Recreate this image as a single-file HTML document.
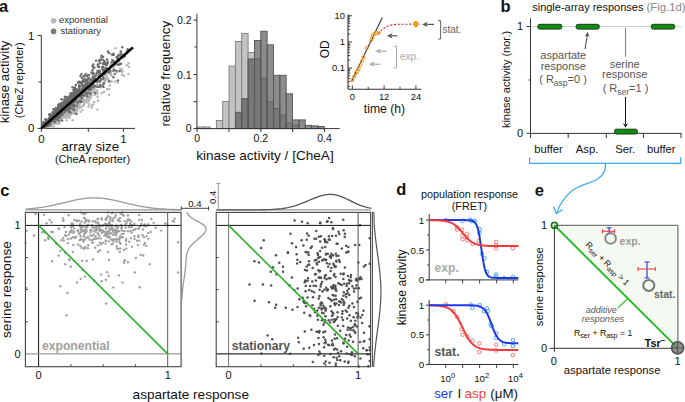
<!DOCTYPE html>
<html><head><meta charset="utf-8"><style>
html,body{margin:0;padding:0;background:#fff;}
svg{display:block;font-family:"Liberation Sans", sans-serif;}
</style></head><body>
<svg width="685" height="402" viewBox="0 0 685 402">
<rect width="685" height="402" fill="#fff"/>
<text x="-1.00" y="11.60" font-size="16.5" text-anchor="start" fill="#111" font-weight="bold">a</text>
<text x="500.60" y="11.70" font-size="16.5" text-anchor="start" fill="#111" font-weight="bold">b</text>
<text x="0.30" y="195.90" font-size="16.5" text-anchor="start" fill="#111" font-weight="bold">c</text>
<text x="396.30" y="195.30" font-size="16.5" text-anchor="start" fill="#111" font-weight="bold">d</text>
<text x="534.80" y="196.00" font-size="16.5" text-anchor="start" fill="#111" font-weight="bold">e</text>
<line x1="41.30" y1="35.40" x2="41.30" y2="128.90" stroke="#333" stroke-width="1"/>
<line x1="37.50" y1="128.40" x2="135.00" y2="128.40" stroke="#333" stroke-width="1"/>
<line x1="37.50" y1="35.40" x2="41.30" y2="35.40" stroke="#333" stroke-width="1"/>
<line x1="38.50" y1="82.00" x2="41.30" y2="82.00" stroke="#333" stroke-width="1"/>
<line x1="41.30" y1="128.40" x2="41.30" y2="131.90" stroke="#333" stroke-width="1"/>
<line x1="88.30" y1="128.40" x2="88.30" y2="131.90" stroke="#333" stroke-width="1"/>
<line x1="123.40" y1="128.40" x2="123.40" y2="131.90" stroke="#333" stroke-width="1"/>
<text x="34.50" y="40.12" font-size="11.5" text-anchor="end" fill="#111">1</text>
<text x="34.50" y="132.42" font-size="11.5" text-anchor="end" fill="#111">0</text>
<text x="41.40" y="143.12" font-size="11.5" text-anchor="middle" fill="#111">0</text>
<text x="123.40" y="142.62" font-size="11.5" text-anchor="middle" fill="#111">1</text>
<text x="61.40" y="150.96" font-size="13.3" text-anchor="start" fill="#111">array size</text>
<text x="92.50" y="163.33" font-size="10.9" text-anchor="middle" fill="#111">(CheA reporter)</text>
<text x="0" y="0" font-size="13.3" text-anchor="middle" fill="#111" transform="translate(9.46 81.9) rotate(-90)">kinase activity</text>
<text x="0" y="0" font-size="11" text-anchor="middle" fill="#111" transform="translate(22.86 80.3) rotate(-90)">(CheZ reporter)</text>
<circle cx="53.60" cy="20.80" r="2.8" fill="#b8b8b8" stroke="none" stroke-width="1"/>
<circle cx="53.60" cy="31.40" r="2.8" fill="#7a7a7a" stroke="none" stroke-width="1"/>
<text x="58.90" y="23.30" font-size="9.6" text-anchor="start" fill="#333">exponential</text>
<text x="60.60" y="33.82" font-size="9.3" text-anchor="start" fill="#333">stationary</text>
<circle cx="88.85" cy="86.24" r="1.2" fill="#b3b3b3" stroke="none" stroke-width="1"/>
<circle cx="47.49" cy="124.17" r="1.2" fill="#b3b3b3" stroke="none" stroke-width="1"/>
<circle cx="84.37" cy="94.71" r="1.2" fill="#b3b3b3" stroke="none" stroke-width="1"/>
<circle cx="54.17" cy="115.68" r="1.2" fill="#b3b3b3" stroke="none" stroke-width="1"/>
<circle cx="97.46" cy="85.33" r="1.2" fill="#b3b3b3" stroke="none" stroke-width="1"/>
<circle cx="66.43" cy="112.31" r="1.2" fill="#b3b3b3" stroke="none" stroke-width="1"/>
<circle cx="50.04" cy="122.08" r="1.2" fill="#b3b3b3" stroke="none" stroke-width="1"/>
<circle cx="60.18" cy="117.67" r="1.2" fill="#b3b3b3" stroke="none" stroke-width="1"/>
<circle cx="96.90" cy="85.04" r="1.2" fill="#b3b3b3" stroke="none" stroke-width="1"/>
<circle cx="128.68" cy="63.21" r="1.2" fill="#b3b3b3" stroke="none" stroke-width="1"/>
<circle cx="54.75" cy="117.98" r="1.2" fill="#b3b3b3" stroke="none" stroke-width="1"/>
<circle cx="48.68" cy="121.99" r="1.2" fill="#b3b3b3" stroke="none" stroke-width="1"/>
<circle cx="65.47" cy="109.07" r="1.2" fill="#b3b3b3" stroke="none" stroke-width="1"/>
<circle cx="77.48" cy="96.55" r="1.2" fill="#b3b3b3" stroke="none" stroke-width="1"/>
<circle cx="69.41" cy="102.85" r="1.2" fill="#b3b3b3" stroke="none" stroke-width="1"/>
<circle cx="100.69" cy="79.06" r="1.2" fill="#b3b3b3" stroke="none" stroke-width="1"/>
<circle cx="59.06" cy="115.30" r="1.2" fill="#b3b3b3" stroke="none" stroke-width="1"/>
<circle cx="65.40" cy="108.92" r="1.2" fill="#b3b3b3" stroke="none" stroke-width="1"/>
<circle cx="85.90" cy="101.80" r="1.2" fill="#b3b3b3" stroke="none" stroke-width="1"/>
<circle cx="76.02" cy="104.36" r="1.2" fill="#b3b3b3" stroke="none" stroke-width="1"/>
<circle cx="43.99" cy="127.14" r="1.2" fill="#b3b3b3" stroke="none" stroke-width="1"/>
<circle cx="72.76" cy="95.90" r="1.2" fill="#b3b3b3" stroke="none" stroke-width="1"/>
<circle cx="62.53" cy="112.82" r="1.2" fill="#b3b3b3" stroke="none" stroke-width="1"/>
<circle cx="110.70" cy="74.51" r="1.2" fill="#b3b3b3" stroke="none" stroke-width="1"/>
<circle cx="52.23" cy="119.26" r="1.2" fill="#b3b3b3" stroke="none" stroke-width="1"/>
<circle cx="55.17" cy="117.88" r="1.2" fill="#b3b3b3" stroke="none" stroke-width="1"/>
<circle cx="47.79" cy="123.68" r="1.2" fill="#b3b3b3" stroke="none" stroke-width="1"/>
<circle cx="50.27" cy="123.80" r="1.2" fill="#b3b3b3" stroke="none" stroke-width="1"/>
<circle cx="82.43" cy="97.86" r="1.2" fill="#b3b3b3" stroke="none" stroke-width="1"/>
<circle cx="71.36" cy="114.61" r="1.2" fill="#b3b3b3" stroke="none" stroke-width="1"/>
<circle cx="60.19" cy="115.21" r="1.2" fill="#b3b3b3" stroke="none" stroke-width="1"/>
<circle cx="67.82" cy="104.43" r="1.2" fill="#b3b3b3" stroke="none" stroke-width="1"/>
<circle cx="88.09" cy="98.78" r="1.2" fill="#b3b3b3" stroke="none" stroke-width="1"/>
<circle cx="47.97" cy="124.50" r="1.2" fill="#b3b3b3" stroke="none" stroke-width="1"/>
<circle cx="80.89" cy="101.82" r="1.2" fill="#b3b3b3" stroke="none" stroke-width="1"/>
<circle cx="70.04" cy="106.97" r="1.2" fill="#b3b3b3" stroke="none" stroke-width="1"/>
<circle cx="92.90" cy="72.98" r="1.2" fill="#b3b3b3" stroke="none" stroke-width="1"/>
<circle cx="72.54" cy="112.32" r="1.2" fill="#b3b3b3" stroke="none" stroke-width="1"/>
<circle cx="83.84" cy="104.89" r="1.2" fill="#b3b3b3" stroke="none" stroke-width="1"/>
<circle cx="76.62" cy="113.63" r="1.2" fill="#b3b3b3" stroke="none" stroke-width="1"/>
<circle cx="64.89" cy="109.80" r="1.2" fill="#b3b3b3" stroke="none" stroke-width="1"/>
<circle cx="57.72" cy="123.83" r="1.2" fill="#b3b3b3" stroke="none" stroke-width="1"/>
<circle cx="78.05" cy="93.98" r="1.2" fill="#b3b3b3" stroke="none" stroke-width="1"/>
<circle cx="49.62" cy="124.73" r="1.2" fill="#b3b3b3" stroke="none" stroke-width="1"/>
<circle cx="61.48" cy="116.57" r="1.2" fill="#b3b3b3" stroke="none" stroke-width="1"/>
<circle cx="59.16" cy="117.88" r="1.2" fill="#b3b3b3" stroke="none" stroke-width="1"/>
<circle cx="93.03" cy="104.45" r="1.2" fill="#b3b3b3" stroke="none" stroke-width="1"/>
<circle cx="64.50" cy="110.01" r="1.2" fill="#b3b3b3" stroke="none" stroke-width="1"/>
<circle cx="55.78" cy="115.85" r="1.2" fill="#b3b3b3" stroke="none" stroke-width="1"/>
<circle cx="110.74" cy="73.48" r="1.2" fill="#b3b3b3" stroke="none" stroke-width="1"/>
<circle cx="83.92" cy="90.51" r="1.2" fill="#b3b3b3" stroke="none" stroke-width="1"/>
<circle cx="67.66" cy="104.87" r="1.2" fill="#b3b3b3" stroke="none" stroke-width="1"/>
<circle cx="76.17" cy="104.07" r="1.2" fill="#b3b3b3" stroke="none" stroke-width="1"/>
<circle cx="45.97" cy="124.95" r="1.2" fill="#b3b3b3" stroke="none" stroke-width="1"/>
<circle cx="122.03" cy="69.49" r="1.2" fill="#b3b3b3" stroke="none" stroke-width="1"/>
<circle cx="54.02" cy="120.84" r="1.2" fill="#b3b3b3" stroke="none" stroke-width="1"/>
<circle cx="109.72" cy="72.72" r="1.2" fill="#b3b3b3" stroke="none" stroke-width="1"/>
<circle cx="90.24" cy="88.32" r="1.2" fill="#b3b3b3" stroke="none" stroke-width="1"/>
<circle cx="83.73" cy="99.39" r="1.2" fill="#b3b3b3" stroke="none" stroke-width="1"/>
<circle cx="68.20" cy="111.83" r="1.2" fill="#b3b3b3" stroke="none" stroke-width="1"/>
<circle cx="58.59" cy="111.57" r="1.2" fill="#b3b3b3" stroke="none" stroke-width="1"/>
<circle cx="77.28" cy="99.30" r="1.2" fill="#b3b3b3" stroke="none" stroke-width="1"/>
<circle cx="64.75" cy="111.17" r="1.2" fill="#b3b3b3" stroke="none" stroke-width="1"/>
<circle cx="61.42" cy="113.02" r="1.2" fill="#b3b3b3" stroke="none" stroke-width="1"/>
<circle cx="60.29" cy="116.44" r="1.2" fill="#b3b3b3" stroke="none" stroke-width="1"/>
<circle cx="89.17" cy="85.97" r="1.2" fill="#b3b3b3" stroke="none" stroke-width="1"/>
<circle cx="77.15" cy="97.54" r="1.2" fill="#b3b3b3" stroke="none" stroke-width="1"/>
<circle cx="82.28" cy="92.17" r="1.2" fill="#b3b3b3" stroke="none" stroke-width="1"/>
<circle cx="69.64" cy="109.17" r="1.2" fill="#b3b3b3" stroke="none" stroke-width="1"/>
<circle cx="68.35" cy="115.18" r="1.2" fill="#b3b3b3" stroke="none" stroke-width="1"/>
<circle cx="59.10" cy="115.07" r="1.2" fill="#b3b3b3" stroke="none" stroke-width="1"/>
<circle cx="54.02" cy="126.77" r="1.2" fill="#b3b3b3" stroke="none" stroke-width="1"/>
<circle cx="48.33" cy="125.00" r="1.2" fill="#b3b3b3" stroke="none" stroke-width="1"/>
<circle cx="51.60" cy="121.78" r="1.2" fill="#b3b3b3" stroke="none" stroke-width="1"/>
<circle cx="52.78" cy="118.01" r="1.2" fill="#b3b3b3" stroke="none" stroke-width="1"/>
<circle cx="73.38" cy="104.25" r="1.2" fill="#b3b3b3" stroke="none" stroke-width="1"/>
<circle cx="55.41" cy="118.37" r="1.2" fill="#b3b3b3" stroke="none" stroke-width="1"/>
<circle cx="57.25" cy="115.56" r="1.2" fill="#b3b3b3" stroke="none" stroke-width="1"/>
<circle cx="63.31" cy="115.12" r="1.2" fill="#b3b3b3" stroke="none" stroke-width="1"/>
<circle cx="70.19" cy="114.76" r="1.2" fill="#b3b3b3" stroke="none" stroke-width="1"/>
<circle cx="59.17" cy="115.89" r="1.2" fill="#b3b3b3" stroke="none" stroke-width="1"/>
<circle cx="51.85" cy="124.51" r="1.2" fill="#b3b3b3" stroke="none" stroke-width="1"/>
<circle cx="70.96" cy="104.37" r="1.2" fill="#b3b3b3" stroke="none" stroke-width="1"/>
<circle cx="65.01" cy="106.81" r="1.2" fill="#b3b3b3" stroke="none" stroke-width="1"/>
<circle cx="78.54" cy="101.49" r="1.2" fill="#b3b3b3" stroke="none" stroke-width="1"/>
<circle cx="87.68" cy="90.10" r="1.2" fill="#b3b3b3" stroke="none" stroke-width="1"/>
<circle cx="50.92" cy="122.30" r="1.2" fill="#b3b3b3" stroke="none" stroke-width="1"/>
<circle cx="65.53" cy="110.07" r="1.2" fill="#b3b3b3" stroke="none" stroke-width="1"/>
<circle cx="93.58" cy="89.70" r="1.2" fill="#b3b3b3" stroke="none" stroke-width="1"/>
<circle cx="58.77" cy="122.62" r="1.2" fill="#b3b3b3" stroke="none" stroke-width="1"/>
<circle cx="89.56" cy="78.25" r="1.2" fill="#b3b3b3" stroke="none" stroke-width="1"/>
<circle cx="122.69" cy="71.75" r="1.2" fill="#b3b3b3" stroke="none" stroke-width="1"/>
<circle cx="63.85" cy="117.32" r="1.2" fill="#b3b3b3" stroke="none" stroke-width="1"/>
<circle cx="59.05" cy="118.45" r="1.2" fill="#b3b3b3" stroke="none" stroke-width="1"/>
<circle cx="100.71" cy="79.87" r="1.2" fill="#b3b3b3" stroke="none" stroke-width="1"/>
<circle cx="78.70" cy="97.79" r="1.2" fill="#b3b3b3" stroke="none" stroke-width="1"/>
<circle cx="95.33" cy="93.56" r="1.2" fill="#b3b3b3" stroke="none" stroke-width="1"/>
<circle cx="85.86" cy="93.95" r="1.2" fill="#b3b3b3" stroke="none" stroke-width="1"/>
<circle cx="120.95" cy="56.44" r="1.2" fill="#b3b3b3" stroke="none" stroke-width="1"/>
<circle cx="71.96" cy="105.76" r="1.2" fill="#b3b3b3" stroke="none" stroke-width="1"/>
<circle cx="89.27" cy="74.79" r="1.2" fill="#b3b3b3" stroke="none" stroke-width="1"/>
<circle cx="69.91" cy="108.97" r="1.2" fill="#b3b3b3" stroke="none" stroke-width="1"/>
<circle cx="74.70" cy="104.65" r="1.2" fill="#b3b3b3" stroke="none" stroke-width="1"/>
<circle cx="72.64" cy="120.15" r="1.2" fill="#b3b3b3" stroke="none" stroke-width="1"/>
<circle cx="77.09" cy="96.84" r="1.2" fill="#b3b3b3" stroke="none" stroke-width="1"/>
<circle cx="64.26" cy="107.48" r="1.2" fill="#b3b3b3" stroke="none" stroke-width="1"/>
<circle cx="86.75" cy="96.75" r="1.2" fill="#b3b3b3" stroke="none" stroke-width="1"/>
<circle cx="66.07" cy="111.63" r="1.2" fill="#b3b3b3" stroke="none" stroke-width="1"/>
<circle cx="94.55" cy="89.06" r="1.2" fill="#b3b3b3" stroke="none" stroke-width="1"/>
<circle cx="56.85" cy="119.71" r="1.2" fill="#b3b3b3" stroke="none" stroke-width="1"/>
<circle cx="73.44" cy="101.17" r="1.2" fill="#b3b3b3" stroke="none" stroke-width="1"/>
<circle cx="53.94" cy="123.46" r="1.2" fill="#b3b3b3" stroke="none" stroke-width="1"/>
<circle cx="95.49" cy="78.66" r="1.2" fill="#b3b3b3" stroke="none" stroke-width="1"/>
<circle cx="82.11" cy="84.75" r="1.2" fill="#b3b3b3" stroke="none" stroke-width="1"/>
<circle cx="55.95" cy="110.91" r="1.2" fill="#b3b3b3" stroke="none" stroke-width="1"/>
<circle cx="66.91" cy="110.78" r="1.2" fill="#b3b3b3" stroke="none" stroke-width="1"/>
<circle cx="55.37" cy="118.06" r="1.2" fill="#b3b3b3" stroke="none" stroke-width="1"/>
<circle cx="65.02" cy="112.71" r="1.2" fill="#b3b3b3" stroke="none" stroke-width="1"/>
<circle cx="83.52" cy="92.05" r="1.2" fill="#b3b3b3" stroke="none" stroke-width="1"/>
<circle cx="77.11" cy="108.87" r="1.2" fill="#b3b3b3" stroke="none" stroke-width="1"/>
<circle cx="65.71" cy="117.55" r="1.2" fill="#b3b3b3" stroke="none" stroke-width="1"/>
<circle cx="97.78" cy="79.07" r="1.2" fill="#b3b3b3" stroke="none" stroke-width="1"/>
<circle cx="91.76" cy="107.61" r="1.2" fill="#b3b3b3" stroke="none" stroke-width="1"/>
<circle cx="43.42" cy="127.24" r="1.2" fill="#b3b3b3" stroke="none" stroke-width="1"/>
<circle cx="46.64" cy="125.40" r="1.2" fill="#b3b3b3" stroke="none" stroke-width="1"/>
<circle cx="82.54" cy="110.08" r="1.2" fill="#b3b3b3" stroke="none" stroke-width="1"/>
<circle cx="53.81" cy="120.35" r="1.2" fill="#b3b3b3" stroke="none" stroke-width="1"/>
<circle cx="61.86" cy="111.72" r="1.2" fill="#b3b3b3" stroke="none" stroke-width="1"/>
<circle cx="70.76" cy="101.58" r="1.2" fill="#b3b3b3" stroke="none" stroke-width="1"/>
<circle cx="82.38" cy="93.69" r="1.2" fill="#b3b3b3" stroke="none" stroke-width="1"/>
<circle cx="78.79" cy="96.69" r="1.2" fill="#b3b3b3" stroke="none" stroke-width="1"/>
<circle cx="52.51" cy="120.89" r="1.2" fill="#b3b3b3" stroke="none" stroke-width="1"/>
<circle cx="47.55" cy="121.18" r="1.2" fill="#b3b3b3" stroke="none" stroke-width="1"/>
<circle cx="89.91" cy="88.85" r="1.2" fill="#b3b3b3" stroke="none" stroke-width="1"/>
<circle cx="83.39" cy="96.97" r="1.2" fill="#b3b3b3" stroke="none" stroke-width="1"/>
<circle cx="69.83" cy="105.71" r="1.2" fill="#b3b3b3" stroke="none" stroke-width="1"/>
<circle cx="85.61" cy="86.82" r="1.2" fill="#b3b3b3" stroke="none" stroke-width="1"/>
<circle cx="117.76" cy="82.51" r="1.2" fill="#b3b3b3" stroke="none" stroke-width="1"/>
<circle cx="53.50" cy="122.12" r="1.2" fill="#b3b3b3" stroke="none" stroke-width="1"/>
<circle cx="116.88" cy="72.36" r="1.2" fill="#b3b3b3" stroke="none" stroke-width="1"/>
<circle cx="56.10" cy="117.20" r="1.2" fill="#b3b3b3" stroke="none" stroke-width="1"/>
<circle cx="87.60" cy="99.57" r="1.2" fill="#b3b3b3" stroke="none" stroke-width="1"/>
<circle cx="71.78" cy="99.00" r="1.2" fill="#b3b3b3" stroke="none" stroke-width="1"/>
<circle cx="55.02" cy="116.18" r="1.2" fill="#b3b3b3" stroke="none" stroke-width="1"/>
<circle cx="62.70" cy="112.24" r="1.2" fill="#b3b3b3" stroke="none" stroke-width="1"/>
<circle cx="60.52" cy="115.85" r="1.2" fill="#b3b3b3" stroke="none" stroke-width="1"/>
<circle cx="59.10" cy="111.76" r="1.2" fill="#b3b3b3" stroke="none" stroke-width="1"/>
<circle cx="70.37" cy="95.56" r="1.2" fill="#b3b3b3" stroke="none" stroke-width="1"/>
<circle cx="97.04" cy="84.51" r="1.2" fill="#b3b3b3" stroke="none" stroke-width="1"/>
<circle cx="81.30" cy="90.71" r="1.2" fill="#b3b3b3" stroke="none" stroke-width="1"/>
<circle cx="96.95" cy="84.80" r="1.2" fill="#b3b3b3" stroke="none" stroke-width="1"/>
<circle cx="75.40" cy="104.37" r="1.2" fill="#b3b3b3" stroke="none" stroke-width="1"/>
<circle cx="62.12" cy="106.33" r="1.2" fill="#b3b3b3" stroke="none" stroke-width="1"/>
<circle cx="60.90" cy="110.99" r="1.2" fill="#b3b3b3" stroke="none" stroke-width="1"/>
<circle cx="63.40" cy="112.88" r="1.2" fill="#b3b3b3" stroke="none" stroke-width="1"/>
<circle cx="85.79" cy="100.38" r="1.2" fill="#b3b3b3" stroke="none" stroke-width="1"/>
<circle cx="74.93" cy="99.01" r="1.2" fill="#b3b3b3" stroke="none" stroke-width="1"/>
<circle cx="69.18" cy="98.68" r="1.2" fill="#b3b3b3" stroke="none" stroke-width="1"/>
<circle cx="53.43" cy="123.18" r="1.2" fill="#b3b3b3" stroke="none" stroke-width="1"/>
<circle cx="59.14" cy="121.98" r="1.2" fill="#b3b3b3" stroke="none" stroke-width="1"/>
<circle cx="63.79" cy="107.54" r="1.2" fill="#b3b3b3" stroke="none" stroke-width="1"/>
<circle cx="51.84" cy="125.93" r="1.2" fill="#b3b3b3" stroke="none" stroke-width="1"/>
<circle cx="72.59" cy="108.89" r="1.2" fill="#b3b3b3" stroke="none" stroke-width="1"/>
<circle cx="69.09" cy="109.28" r="1.2" fill="#b3b3b3" stroke="none" stroke-width="1"/>
<circle cx="68.81" cy="110.35" r="1.2" fill="#b3b3b3" stroke="none" stroke-width="1"/>
<circle cx="98.71" cy="80.73" r="1.2" fill="#b3b3b3" stroke="none" stroke-width="1"/>
<circle cx="79.84" cy="101.12" r="1.2" fill="#b3b3b3" stroke="none" stroke-width="1"/>
<circle cx="46.62" cy="125.47" r="1.2" fill="#b3b3b3" stroke="none" stroke-width="1"/>
<circle cx="89.35" cy="95.24" r="1.2" fill="#b3b3b3" stroke="none" stroke-width="1"/>
<circle cx="66.81" cy="112.36" r="1.2" fill="#b3b3b3" stroke="none" stroke-width="1"/>
<circle cx="71.85" cy="98.84" r="1.2" fill="#b3b3b3" stroke="none" stroke-width="1"/>
<circle cx="95.80" cy="79.63" r="1.2" fill="#b3b3b3" stroke="none" stroke-width="1"/>
<circle cx="49.69" cy="115.38" r="1.2" fill="#b3b3b3" stroke="none" stroke-width="1"/>
<circle cx="74.24" cy="103.02" r="1.2" fill="#b3b3b3" stroke="none" stroke-width="1"/>
<circle cx="66.65" cy="106.55" r="1.2" fill="#b3b3b3" stroke="none" stroke-width="1"/>
<circle cx="57.81" cy="113.24" r="1.2" fill="#b3b3b3" stroke="none" stroke-width="1"/>
<circle cx="50.42" cy="125.43" r="1.2" fill="#b3b3b3" stroke="none" stroke-width="1"/>
<circle cx="44.53" cy="125.89" r="1.2" fill="#b3b3b3" stroke="none" stroke-width="1"/>
<circle cx="80.18" cy="98.82" r="1.2" fill="#b3b3b3" stroke="none" stroke-width="1"/>
<circle cx="76.22" cy="107.18" r="1.2" fill="#b3b3b3" stroke="none" stroke-width="1"/>
<circle cx="43.84" cy="123.70" r="1.2" fill="#b3b3b3" stroke="none" stroke-width="1"/>
<circle cx="114.32" cy="66.41" r="1.2" fill="#b3b3b3" stroke="none" stroke-width="1"/>
<circle cx="67.41" cy="113.12" r="1.2" fill="#b3b3b3" stroke="none" stroke-width="1"/>
<circle cx="66.29" cy="102.30" r="1.2" fill="#b3b3b3" stroke="none" stroke-width="1"/>
<circle cx="57.04" cy="115.97" r="1.2" fill="#b3b3b3" stroke="none" stroke-width="1"/>
<circle cx="62.98" cy="103.86" r="1.2" fill="#b3b3b3" stroke="none" stroke-width="1"/>
<circle cx="65.47" cy="110.24" r="1.2" fill="#b3b3b3" stroke="none" stroke-width="1"/>
<circle cx="96.54" cy="91.52" r="1.2" fill="#b3b3b3" stroke="none" stroke-width="1"/>
<circle cx="105.36" cy="79.24" r="1.2" fill="#b3b3b3" stroke="none" stroke-width="1"/>
<circle cx="82.92" cy="101.14" r="1.2" fill="#b3b3b3" stroke="none" stroke-width="1"/>
<circle cx="46.89" cy="123.50" r="1.2" fill="#b3b3b3" stroke="none" stroke-width="1"/>
<circle cx="128.39" cy="73.90" r="1.2" fill="#b3b3b3" stroke="none" stroke-width="1"/>
<circle cx="57.22" cy="111.88" r="1.2" fill="#b3b3b3" stroke="none" stroke-width="1"/>
<circle cx="58.93" cy="115.93" r="1.2" fill="#b3b3b3" stroke="none" stroke-width="1"/>
<circle cx="53.09" cy="114.17" r="1.2" fill="#b3b3b3" stroke="none" stroke-width="1"/>
<circle cx="48.02" cy="124.30" r="1.2" fill="#b3b3b3" stroke="none" stroke-width="1"/>
<circle cx="60.90" cy="113.89" r="1.2" fill="#b3b3b3" stroke="none" stroke-width="1"/>
<circle cx="61.55" cy="113.01" r="1.2" fill="#b3b3b3" stroke="none" stroke-width="1"/>
<circle cx="80.46" cy="111.68" r="1.2" fill="#b3b3b3" stroke="none" stroke-width="1"/>
<circle cx="78.77" cy="106.95" r="1.2" fill="#b3b3b3" stroke="none" stroke-width="1"/>
<circle cx="123.60" cy="57.52" r="1.2" fill="#b3b3b3" stroke="none" stroke-width="1"/>
<circle cx="72.78" cy="103.70" r="1.2" fill="#b3b3b3" stroke="none" stroke-width="1"/>
<circle cx="88.73" cy="84.47" r="1.2" fill="#b3b3b3" stroke="none" stroke-width="1"/>
<circle cx="60.70" cy="113.29" r="1.2" fill="#b3b3b3" stroke="none" stroke-width="1"/>
<circle cx="63.82" cy="108.16" r="1.2" fill="#b3b3b3" stroke="none" stroke-width="1"/>
<circle cx="75.24" cy="104.68" r="1.2" fill="#b3b3b3" stroke="none" stroke-width="1"/>
<circle cx="73.26" cy="111.58" r="1.2" fill="#b3b3b3" stroke="none" stroke-width="1"/>
<circle cx="51.07" cy="120.97" r="1.2" fill="#b3b3b3" stroke="none" stroke-width="1"/>
<circle cx="65.60" cy="111.25" r="1.2" fill="#b3b3b3" stroke="none" stroke-width="1"/>
<circle cx="67.53" cy="107.89" r="1.2" fill="#b3b3b3" stroke="none" stroke-width="1"/>
<circle cx="66.50" cy="108.02" r="1.2" fill="#b3b3b3" stroke="none" stroke-width="1"/>
<circle cx="61.74" cy="114.85" r="1.2" fill="#b3b3b3" stroke="none" stroke-width="1"/>
<circle cx="59.87" cy="116.52" r="1.2" fill="#b3b3b3" stroke="none" stroke-width="1"/>
<circle cx="70.30" cy="107.55" r="1.2" fill="#b3b3b3" stroke="none" stroke-width="1"/>
<circle cx="76.17" cy="106.33" r="1.2" fill="#b3b3b3" stroke="none" stroke-width="1"/>
<circle cx="68.38" cy="104.93" r="1.2" fill="#b3b3b3" stroke="none" stroke-width="1"/>
<circle cx="69.69" cy="117.81" r="1.2" fill="#b3b3b3" stroke="none" stroke-width="1"/>
<circle cx="109.94" cy="65.44" r="1.2" fill="#b3b3b3" stroke="none" stroke-width="1"/>
<circle cx="81.34" cy="106.97" r="1.2" fill="#b3b3b3" stroke="none" stroke-width="1"/>
<circle cx="80.12" cy="100.30" r="1.2" fill="#b3b3b3" stroke="none" stroke-width="1"/>
<circle cx="83.54" cy="84.84" r="1.2" fill="#b3b3b3" stroke="none" stroke-width="1"/>
<circle cx="59.99" cy="113.84" r="1.2" fill="#b3b3b3" stroke="none" stroke-width="1"/>
<circle cx="49.61" cy="124.63" r="1.2" fill="#b3b3b3" stroke="none" stroke-width="1"/>
<circle cx="72.00" cy="100.96" r="1.2" fill="#b3b3b3" stroke="none" stroke-width="1"/>
<circle cx="48.90" cy="120.43" r="1.2" fill="#b3b3b3" stroke="none" stroke-width="1"/>
<circle cx="67.40" cy="105.26" r="1.2" fill="#b3b3b3" stroke="none" stroke-width="1"/>
<circle cx="119.00" cy="61.49" r="1.2" fill="#b3b3b3" stroke="none" stroke-width="1"/>
<circle cx="64.20" cy="114.78" r="1.2" fill="#b3b3b3" stroke="none" stroke-width="1"/>
<circle cx="68.70" cy="110.29" r="1.2" fill="#b3b3b3" stroke="none" stroke-width="1"/>
<circle cx="60.72" cy="111.65" r="1.2" fill="#b3b3b3" stroke="none" stroke-width="1"/>
<circle cx="67.50" cy="109.60" r="1.2" fill="#b3b3b3" stroke="none" stroke-width="1"/>
<circle cx="73.56" cy="113.13" r="1.2" fill="#b3b3b3" stroke="none" stroke-width="1"/>
<circle cx="51.92" cy="117.68" r="1.2" fill="#b3b3b3" stroke="none" stroke-width="1"/>
<circle cx="109.33" cy="89.06" r="1.2" fill="#b3b3b3" stroke="none" stroke-width="1"/>
<circle cx="89.20" cy="100.72" r="1.2" fill="#b3b3b3" stroke="none" stroke-width="1"/>
<circle cx="50.85" cy="123.07" r="1.2" fill="#b3b3b3" stroke="none" stroke-width="1"/>
<circle cx="72.39" cy="101.37" r="1.2" fill="#b3b3b3" stroke="none" stroke-width="1"/>
<circle cx="53.32" cy="119.36" r="1.2" fill="#b3b3b3" stroke="none" stroke-width="1"/>
<circle cx="84.18" cy="103.27" r="1.2" fill="#b3b3b3" stroke="none" stroke-width="1"/>
<circle cx="79.88" cy="96.12" r="1.2" fill="#b3b3b3" stroke="none" stroke-width="1"/>
<circle cx="64.07" cy="110.12" r="1.2" fill="#b3b3b3" stroke="none" stroke-width="1"/>
<circle cx="64.20" cy="109.03" r="1.2" fill="#b3b3b3" stroke="none" stroke-width="1"/>
<circle cx="55.98" cy="119.87" r="1.2" fill="#b3b3b3" stroke="none" stroke-width="1"/>
<circle cx="92.51" cy="80.66" r="1.2" fill="#b3b3b3" stroke="none" stroke-width="1"/>
<circle cx="86.95" cy="84.23" r="1.2" fill="#b3b3b3" stroke="none" stroke-width="1"/>
<circle cx="50.94" cy="124.59" r="1.2" fill="#b3b3b3" stroke="none" stroke-width="1"/>
<circle cx="63.80" cy="101.62" r="1.2" fill="#b3b3b3" stroke="none" stroke-width="1"/>
<circle cx="87.14" cy="96.99" r="1.2" fill="#b3b3b3" stroke="none" stroke-width="1"/>
<circle cx="119.62" cy="53.61" r="1.2" fill="#b3b3b3" stroke="none" stroke-width="1"/>
<circle cx="60.14" cy="116.68" r="1.2" fill="#b3b3b3" stroke="none" stroke-width="1"/>
<circle cx="69.75" cy="99.64" r="1.2" fill="#b3b3b3" stroke="none" stroke-width="1"/>
<circle cx="52.95" cy="121.02" r="1.2" fill="#b3b3b3" stroke="none" stroke-width="1"/>
<circle cx="95.48" cy="93.92" r="1.2" fill="#b3b3b3" stroke="none" stroke-width="1"/>
<circle cx="76.96" cy="110.47" r="1.2" fill="#b3b3b3" stroke="none" stroke-width="1"/>
<circle cx="69.68" cy="113.09" r="1.2" fill="#b3b3b3" stroke="none" stroke-width="1"/>
<circle cx="68.06" cy="105.17" r="1.2" fill="#b3b3b3" stroke="none" stroke-width="1"/>
<circle cx="51.58" cy="117.79" r="1.2" fill="#b3b3b3" stroke="none" stroke-width="1"/>
<circle cx="82.18" cy="97.70" r="1.2" fill="#b3b3b3" stroke="none" stroke-width="1"/>
<circle cx="90.01" cy="89.36" r="1.2" fill="#b3b3b3" stroke="none" stroke-width="1"/>
<circle cx="117.74" cy="71.51" r="1.2" fill="#b3b3b3" stroke="none" stroke-width="1"/>
<circle cx="96.55" cy="82.04" r="1.2" fill="#b3b3b3" stroke="none" stroke-width="1"/>
<circle cx="59.75" cy="119.31" r="1.2" fill="#b3b3b3" stroke="none" stroke-width="1"/>
<circle cx="70.22" cy="107.43" r="1.2" fill="#b3b3b3" stroke="none" stroke-width="1"/>
<circle cx="65.16" cy="109.17" r="1.2" fill="#b3b3b3" stroke="none" stroke-width="1"/>
<circle cx="86.08" cy="94.78" r="1.2" fill="#b3b3b3" stroke="none" stroke-width="1"/>
<circle cx="51.60" cy="118.35" r="1.2" fill="#b3b3b3" stroke="none" stroke-width="1"/>
<circle cx="82.90" cy="106.06" r="1.2" fill="#b3b3b3" stroke="none" stroke-width="1"/>
<circle cx="54.19" cy="118.97" r="1.2" fill="#b3b3b3" stroke="none" stroke-width="1"/>
<circle cx="59.23" cy="117.66" r="1.2" fill="#b3b3b3" stroke="none" stroke-width="1"/>
<circle cx="59.27" cy="121.22" r="1.2" fill="#b3b3b3" stroke="none" stroke-width="1"/>
<circle cx="69.07" cy="110.34" r="1.2" fill="#b3b3b3" stroke="none" stroke-width="1"/>
<circle cx="72.13" cy="101.84" r="1.2" fill="#b3b3b3" stroke="none" stroke-width="1"/>
<circle cx="103.10" cy="69.76" r="1.2" fill="#b3b3b3" stroke="none" stroke-width="1"/>
<circle cx="68.37" cy="108.14" r="1.2" fill="#b3b3b3" stroke="none" stroke-width="1"/>
<circle cx="63.62" cy="106.83" r="1.2" fill="#b3b3b3" stroke="none" stroke-width="1"/>
<circle cx="61.36" cy="113.75" r="1.2" fill="#b3b3b3" stroke="none" stroke-width="1"/>
<circle cx="57.56" cy="115.77" r="1.2" fill="#b3b3b3" stroke="none" stroke-width="1"/>
<circle cx="74.82" cy="92.66" r="1.2" fill="#b3b3b3" stroke="none" stroke-width="1"/>
<circle cx="55.43" cy="118.61" r="1.2" fill="#b3b3b3" stroke="none" stroke-width="1"/>
<circle cx="56.83" cy="116.84" r="1.2" fill="#b3b3b3" stroke="none" stroke-width="1"/>
<circle cx="63.53" cy="108.93" r="1.2" fill="#b3b3b3" stroke="none" stroke-width="1"/>
<circle cx="60.31" cy="113.20" r="1.2" fill="#b3b3b3" stroke="none" stroke-width="1"/>
<circle cx="55.20" cy="115.48" r="1.2" fill="#b3b3b3" stroke="none" stroke-width="1"/>
<circle cx="48.40" cy="122.76" r="1.2" fill="#b3b3b3" stroke="none" stroke-width="1"/>
<circle cx="101.29" cy="86.87" r="1.2" fill="#b3b3b3" stroke="none" stroke-width="1"/>
<circle cx="50.56" cy="122.94" r="1.2" fill="#b3b3b3" stroke="none" stroke-width="1"/>
<circle cx="80.03" cy="99.85" r="1.2" fill="#b3b3b3" stroke="none" stroke-width="1"/>
<circle cx="74.47" cy="106.66" r="1.2" fill="#b3b3b3" stroke="none" stroke-width="1"/>
<circle cx="81.13" cy="95.29" r="1.2" fill="#b3b3b3" stroke="none" stroke-width="1"/>
<circle cx="114.25" cy="65.32" r="1.2" fill="#b3b3b3" stroke="none" stroke-width="1"/>
<circle cx="72.89" cy="103.19" r="1.2" fill="#b3b3b3" stroke="none" stroke-width="1"/>
<circle cx="78.67" cy="97.49" r="1.2" fill="#b3b3b3" stroke="none" stroke-width="1"/>
<circle cx="61.65" cy="117.91" r="1.2" fill="#b3b3b3" stroke="none" stroke-width="1"/>
<circle cx="94.74" cy="95.09" r="1.2" fill="#b3b3b3" stroke="none" stroke-width="1"/>
<circle cx="75.14" cy="96.15" r="1.2" fill="#b3b3b3" stroke="none" stroke-width="1"/>
<circle cx="53.02" cy="120.65" r="1.2" fill="#b3b3b3" stroke="none" stroke-width="1"/>
<circle cx="91.29" cy="81.93" r="1.2" fill="#b3b3b3" stroke="none" stroke-width="1"/>
<circle cx="46.11" cy="126.04" r="1.2" fill="#b3b3b3" stroke="none" stroke-width="1"/>
<circle cx="52.91" cy="122.64" r="1.2" fill="#b3b3b3" stroke="none" stroke-width="1"/>
<circle cx="85.02" cy="87.30" r="1.2" fill="#b3b3b3" stroke="none" stroke-width="1"/>
<circle cx="98.81" cy="86.54" r="1.2" fill="#b3b3b3" stroke="none" stroke-width="1"/>
<circle cx="54.79" cy="121.80" r="1.2" fill="#b3b3b3" stroke="none" stroke-width="1"/>
<circle cx="58.50" cy="112.35" r="1.2" fill="#b3b3b3" stroke="none" stroke-width="1"/>
<circle cx="81.97" cy="92.20" r="1.2" fill="#b3b3b3" stroke="none" stroke-width="1"/>
<circle cx="77.27" cy="104.09" r="1.2" fill="#b3b3b3" stroke="none" stroke-width="1"/>
<circle cx="46.62" cy="125.23" r="1.2" fill="#b3b3b3" stroke="none" stroke-width="1"/>
<circle cx="98.50" cy="74.47" r="1.2" fill="#b3b3b3" stroke="none" stroke-width="1"/>
<circle cx="50.13" cy="120.25" r="1.2" fill="#b3b3b3" stroke="none" stroke-width="1"/>
<circle cx="88.00" cy="97.28" r="1.2" fill="#b3b3b3" stroke="none" stroke-width="1"/>
<circle cx="92.13" cy="83.56" r="1.2" fill="#b3b3b3" stroke="none" stroke-width="1"/>
<circle cx="79.59" cy="104.43" r="1.2" fill="#b3b3b3" stroke="none" stroke-width="1"/>
<circle cx="80.45" cy="98.11" r="1.2" fill="#b3b3b3" stroke="none" stroke-width="1"/>
<circle cx="74.80" cy="106.04" r="1.2" fill="#b3b3b3" stroke="none" stroke-width="1"/>
<circle cx="68.09" cy="110.29" r="1.2" fill="#b3b3b3" stroke="none" stroke-width="1"/>
<circle cx="88.36" cy="86.34" r="1.2" fill="#b3b3b3" stroke="none" stroke-width="1"/>
<circle cx="81.35" cy="99.17" r="1.2" fill="#b3b3b3" stroke="none" stroke-width="1"/>
<circle cx="52.75" cy="118.98" r="1.2" fill="#b3b3b3" stroke="none" stroke-width="1"/>
<circle cx="78.82" cy="81.59" r="1.2" fill="#b3b3b3" stroke="none" stroke-width="1"/>
<circle cx="49.07" cy="124.81" r="1.2" fill="#b3b3b3" stroke="none" stroke-width="1"/>
<circle cx="75.75" cy="111.34" r="1.2" fill="#b3b3b3" stroke="none" stroke-width="1"/>
<circle cx="49.97" cy="121.29" r="1.2" fill="#b3b3b3" stroke="none" stroke-width="1"/>
<circle cx="66.18" cy="99.68" r="1.2" fill="#b3b3b3" stroke="none" stroke-width="1"/>
<circle cx="54.93" cy="118.31" r="1.2" fill="#b3b3b3" stroke="none" stroke-width="1"/>
<circle cx="62.04" cy="107.17" r="1.2" fill="#b3b3b3" stroke="none" stroke-width="1"/>
<circle cx="75.64" cy="103.30" r="1.2" fill="#b3b3b3" stroke="none" stroke-width="1"/>
<circle cx="61.58" cy="107.10" r="1.2" fill="#b3b3b3" stroke="none" stroke-width="1"/>
<circle cx="113.24" cy="68.33" r="1.2" fill="#b3b3b3" stroke="none" stroke-width="1"/>
<circle cx="79.55" cy="97.94" r="1.2" fill="#b3b3b3" stroke="none" stroke-width="1"/>
<circle cx="68.06" cy="110.64" r="1.2" fill="#b3b3b3" stroke="none" stroke-width="1"/>
<circle cx="119.54" cy="54.39" r="1.2" fill="#b3b3b3" stroke="none" stroke-width="1"/>
<circle cx="72.39" cy="108.90" r="1.2" fill="#b3b3b3" stroke="none" stroke-width="1"/>
<circle cx="59.10" cy="119.92" r="1.2" fill="#b3b3b3" stroke="none" stroke-width="1"/>
<circle cx="74.56" cy="109.59" r="1.2" fill="#b3b3b3" stroke="none" stroke-width="1"/>
<circle cx="126.73" cy="65.16" r="1.2" fill="#b3b3b3" stroke="none" stroke-width="1"/>
<circle cx="76.40" cy="108.83" r="1.2" fill="#b3b3b3" stroke="none" stroke-width="1"/>
<circle cx="64.42" cy="108.93" r="1.2" fill="#b3b3b3" stroke="none" stroke-width="1"/>
<circle cx="76.97" cy="95.06" r="1.2" fill="#b3b3b3" stroke="none" stroke-width="1"/>
<circle cx="56.63" cy="112.16" r="1.2" fill="#b3b3b3" stroke="none" stroke-width="1"/>
<circle cx="127.58" cy="50.85" r="1.2" fill="#b3b3b3" stroke="none" stroke-width="1"/>
<circle cx="47.32" cy="122.90" r="1.2" fill="#b3b3b3" stroke="none" stroke-width="1"/>
<circle cx="72.96" cy="110.94" r="1.2" fill="#b3b3b3" stroke="none" stroke-width="1"/>
<circle cx="59.18" cy="111.94" r="1.2" fill="#b3b3b3" stroke="none" stroke-width="1"/>
<circle cx="54.69" cy="120.64" r="1.2" fill="#b3b3b3" stroke="none" stroke-width="1"/>
<circle cx="63.58" cy="113.93" r="1.2" fill="#b3b3b3" stroke="none" stroke-width="1"/>
<circle cx="58.87" cy="116.18" r="1.2" fill="#b3b3b3" stroke="none" stroke-width="1"/>
<circle cx="57.33" cy="113.75" r="1.2" fill="#b3b3b3" stroke="none" stroke-width="1"/>
<circle cx="74.10" cy="105.68" r="1.2" fill="#b3b3b3" stroke="none" stroke-width="1"/>
<circle cx="75.70" cy="99.61" r="1.2" fill="#b3b3b3" stroke="none" stroke-width="1"/>
<circle cx="94.95" cy="80.40" r="1.2" fill="#b3b3b3" stroke="none" stroke-width="1"/>
<circle cx="50.78" cy="122.47" r="1.2" fill="#b3b3b3" stroke="none" stroke-width="1"/>
<circle cx="71.93" cy="100.42" r="1.2" fill="#b3b3b3" stroke="none" stroke-width="1"/>
<circle cx="43.44" cy="125.95" r="1.2" fill="#b3b3b3" stroke="none" stroke-width="1"/>
<circle cx="46.79" cy="125.02" r="1.2" fill="#b3b3b3" stroke="none" stroke-width="1"/>
<circle cx="61.01" cy="113.74" r="1.2" fill="#b3b3b3" stroke="none" stroke-width="1"/>
<circle cx="63.61" cy="109.51" r="1.2" fill="#b3b3b3" stroke="none" stroke-width="1"/>
<circle cx="94.28" cy="102.05" r="1.2" fill="#b3b3b3" stroke="none" stroke-width="1"/>
<circle cx="66.51" cy="107.76" r="1.2" fill="#b3b3b3" stroke="none" stroke-width="1"/>
<circle cx="86.08" cy="88.04" r="1.2" fill="#b3b3b3" stroke="none" stroke-width="1"/>
<circle cx="80.69" cy="91.76" r="1.2" fill="#b3b3b3" stroke="none" stroke-width="1"/>
<circle cx="77.57" cy="93.08" r="1.2" fill="#b3b3b3" stroke="none" stroke-width="1"/>
<circle cx="88.37" cy="89.18" r="1.2" fill="#b3b3b3" stroke="none" stroke-width="1"/>
<circle cx="80.13" cy="94.40" r="1.2" fill="#b3b3b3" stroke="none" stroke-width="1"/>
<circle cx="49.94" cy="121.15" r="1.2" fill="#b3b3b3" stroke="none" stroke-width="1"/>
<circle cx="43.79" cy="127.11" r="1.2" fill="#b3b3b3" stroke="none" stroke-width="1"/>
<circle cx="75.31" cy="112.41" r="1.2" fill="#b3b3b3" stroke="none" stroke-width="1"/>
<circle cx="66.70" cy="120.36" r="1.2" fill="#b3b3b3" stroke="none" stroke-width="1"/>
<circle cx="60.18" cy="119.29" r="1.2" fill="#b3b3b3" stroke="none" stroke-width="1"/>
<circle cx="82.83" cy="82.37" r="1.2" fill="#b3b3b3" stroke="none" stroke-width="1"/>
<circle cx="56.45" cy="116.15" r="1.2" fill="#b3b3b3" stroke="none" stroke-width="1"/>
<circle cx="109.16" cy="94.93" r="1.2" fill="#b3b3b3" stroke="none" stroke-width="1"/>
<circle cx="87.25" cy="102.60" r="1.2" fill="#b3b3b3" stroke="none" stroke-width="1"/>
<circle cx="81.93" cy="91.46" r="1.2" fill="#b3b3b3" stroke="none" stroke-width="1"/>
<circle cx="68.09" cy="104.51" r="1.2" fill="#b3b3b3" stroke="none" stroke-width="1"/>
<circle cx="60.42" cy="117.66" r="1.2" fill="#b3b3b3" stroke="none" stroke-width="1"/>
<circle cx="53.13" cy="119.69" r="1.2" fill="#b3b3b3" stroke="none" stroke-width="1"/>
<circle cx="88.72" cy="94.88" r="1.2" fill="#b3b3b3" stroke="none" stroke-width="1"/>
<circle cx="64.85" cy="103.47" r="1.2" fill="#b3b3b3" stroke="none" stroke-width="1"/>
<circle cx="91.90" cy="105.44" r="1.2" fill="#b3b3b3" stroke="none" stroke-width="1"/>
<circle cx="86.89" cy="93.62" r="1.2" fill="#b3b3b3" stroke="none" stroke-width="1"/>
<circle cx="51.02" cy="126.46" r="1.2" fill="#b3b3b3" stroke="none" stroke-width="1"/>
<circle cx="58.01" cy="113.24" r="1.2" fill="#b3b3b3" stroke="none" stroke-width="1"/>
<circle cx="117.62" cy="64.04" r="1.2" fill="#b3b3b3" stroke="none" stroke-width="1"/>
<circle cx="88.27" cy="97.88" r="1.2" fill="#b3b3b3" stroke="none" stroke-width="1"/>
<circle cx="52.33" cy="123.79" r="1.2" fill="#b3b3b3" stroke="none" stroke-width="1"/>
<circle cx="78.13" cy="103.93" r="1.2" fill="#b3b3b3" stroke="none" stroke-width="1"/>
<circle cx="106.33" cy="77.92" r="1.2" fill="#b3b3b3" stroke="none" stroke-width="1"/>
<circle cx="65.52" cy="102.22" r="1.2" fill="#b3b3b3" stroke="none" stroke-width="1"/>
<circle cx="90.78" cy="95.52" r="1.2" fill="#b3b3b3" stroke="none" stroke-width="1"/>
<circle cx="91.20" cy="87.43" r="1.2" fill="#b3b3b3" stroke="none" stroke-width="1"/>
<circle cx="73.70" cy="111.98" r="1.2" fill="#b3b3b3" stroke="none" stroke-width="1"/>
<circle cx="62.44" cy="103.57" r="1.2" fill="#b3b3b3" stroke="none" stroke-width="1"/>
<circle cx="74.09" cy="105.17" r="1.2" fill="#b3b3b3" stroke="none" stroke-width="1"/>
<circle cx="59.62" cy="113.80" r="1.2" fill="#b3b3b3" stroke="none" stroke-width="1"/>
<circle cx="53.52" cy="119.47" r="1.2" fill="#b3b3b3" stroke="none" stroke-width="1"/>
<circle cx="72.69" cy="97.26" r="1.2" fill="#b3b3b3" stroke="none" stroke-width="1"/>
<circle cx="49.60" cy="121.00" r="1.2" fill="#b3b3b3" stroke="none" stroke-width="1"/>
<circle cx="55.93" cy="123.31" r="1.2" fill="#b3b3b3" stroke="none" stroke-width="1"/>
<circle cx="109.89" cy="85.48" r="1.2" fill="#b3b3b3" stroke="none" stroke-width="1"/>
<circle cx="55.10" cy="115.27" r="1.2" fill="#b3b3b3" stroke="none" stroke-width="1"/>
<circle cx="91.15" cy="89.40" r="1.2" fill="#b3b3b3" stroke="none" stroke-width="1"/>
<circle cx="54.38" cy="118.30" r="1.2" fill="#b3b3b3" stroke="none" stroke-width="1"/>
<circle cx="67.99" cy="111.88" r="1.2" fill="#b3b3b3" stroke="none" stroke-width="1"/>
<circle cx="105.65" cy="74.91" r="1.2" fill="#b3b3b3" stroke="none" stroke-width="1"/>
<circle cx="71.70" cy="108.08" r="1.2" fill="#b3b3b3" stroke="none" stroke-width="1"/>
<circle cx="58.36" cy="117.39" r="1.2" fill="#b3b3b3" stroke="none" stroke-width="1"/>
<circle cx="53.25" cy="119.62" r="1.2" fill="#b3b3b3" stroke="none" stroke-width="1"/>
<circle cx="55.61" cy="121.82" r="1.2" fill="#b3b3b3" stroke="none" stroke-width="1"/>
<circle cx="46.26" cy="126.00" r="1.2" fill="#b3b3b3" stroke="none" stroke-width="1"/>
<circle cx="87.76" cy="90.80" r="1.2" fill="#b3b3b3" stroke="none" stroke-width="1"/>
<circle cx="82.82" cy="92.64" r="1.2" fill="#b3b3b3" stroke="none" stroke-width="1"/>
<circle cx="105.22" cy="74.37" r="1.2" fill="#b3b3b3" stroke="none" stroke-width="1"/>
<circle cx="96.11" cy="74.42" r="1.2" fill="#b3b3b3" stroke="none" stroke-width="1"/>
<circle cx="88.68" cy="100.28" r="1.2" fill="#b3b3b3" stroke="none" stroke-width="1"/>
<circle cx="89.47" cy="79.89" r="1.2" fill="#b3b3b3" stroke="none" stroke-width="1"/>
<circle cx="67.18" cy="114.39" r="1.2" fill="#b3b3b3" stroke="none" stroke-width="1"/>
<circle cx="66.17" cy="113.14" r="1.2" fill="#b3b3b3" stroke="none" stroke-width="1"/>
<circle cx="57.91" cy="109.78" r="1.2" fill="#b3b3b3" stroke="none" stroke-width="1"/>
<circle cx="49.51" cy="121.52" r="1.2" fill="#b3b3b3" stroke="none" stroke-width="1"/>
<circle cx="67.30" cy="111.29" r="1.2" fill="#b3b3b3" stroke="none" stroke-width="1"/>
<circle cx="73.62" cy="104.30" r="1.2" fill="#b3b3b3" stroke="none" stroke-width="1"/>
<circle cx="73.11" cy="105.34" r="1.2" fill="#b3b3b3" stroke="none" stroke-width="1"/>
<circle cx="108.08" cy="78.45" r="1.2" fill="#b3b3b3" stroke="none" stroke-width="1"/>
<circle cx="123.97" cy="75.81" r="1.2" fill="#b3b3b3" stroke="none" stroke-width="1"/>
<circle cx="68.31" cy="110.88" r="1.2" fill="#b3b3b3" stroke="none" stroke-width="1"/>
<circle cx="90.99" cy="93.55" r="1.2" fill="#b3b3b3" stroke="none" stroke-width="1"/>
<circle cx="59.63" cy="114.59" r="1.2" fill="#b3b3b3" stroke="none" stroke-width="1"/>
<circle cx="55.40" cy="123.42" r="1.2" fill="#b3b3b3" stroke="none" stroke-width="1"/>
<circle cx="79.70" cy="98.33" r="1.2" fill="#b3b3b3" stroke="none" stroke-width="1"/>
<circle cx="91.50" cy="87.55" r="1.2" fill="#b3b3b3" stroke="none" stroke-width="1"/>
<circle cx="78.68" cy="104.52" r="1.2" fill="#b3b3b3" stroke="none" stroke-width="1"/>
<circle cx="86.98" cy="79.64" r="1.2" fill="#b3b3b3" stroke="none" stroke-width="1"/>
<circle cx="50.11" cy="118.20" r="1.2" fill="#b3b3b3" stroke="none" stroke-width="1"/>
<circle cx="107.93" cy="69.29" r="1.2" fill="#b3b3b3" stroke="none" stroke-width="1"/>
<circle cx="96.18" cy="86.25" r="1.2" fill="#b3b3b3" stroke="none" stroke-width="1"/>
<circle cx="62.52" cy="105.24" r="1.2" fill="#b3b3b3" stroke="none" stroke-width="1"/>
<circle cx="64.97" cy="109.22" r="1.2" fill="#b3b3b3" stroke="none" stroke-width="1"/>
<circle cx="75.55" cy="97.80" r="1.2" fill="#b3b3b3" stroke="none" stroke-width="1"/>
<circle cx="87.62" cy="89.14" r="1.2" fill="#b3b3b3" stroke="none" stroke-width="1"/>
<circle cx="90.69" cy="83.62" r="1.2" fill="#b3b3b3" stroke="none" stroke-width="1"/>
<circle cx="75.30" cy="113.15" r="1.2" fill="#b3b3b3" stroke="none" stroke-width="1"/>
<circle cx="92.61" cy="89.80" r="1.2" fill="#b3b3b3" stroke="none" stroke-width="1"/>
<circle cx="54.69" cy="120.07" r="1.2" fill="#b3b3b3" stroke="none" stroke-width="1"/>
<circle cx="43.07" cy="126.58" r="1.2" fill="#b3b3b3" stroke="none" stroke-width="1"/>
<circle cx="85.01" cy="95.44" r="1.2" fill="#b3b3b3" stroke="none" stroke-width="1"/>
<circle cx="80.68" cy="93.09" r="1.2" fill="#b3b3b3" stroke="none" stroke-width="1"/>
<circle cx="97.16" cy="90.54" r="1.2" fill="#b3b3b3" stroke="none" stroke-width="1"/>
<circle cx="121.89" cy="74.79" r="1.2" fill="#b3b3b3" stroke="none" stroke-width="1"/>
<circle cx="86.82" cy="98.55" r="1.2" fill="#b3b3b3" stroke="none" stroke-width="1"/>
<circle cx="87.54" cy="95.57" r="1.2" fill="#b3b3b3" stroke="none" stroke-width="1"/>
<circle cx="75.05" cy="107.75" r="1.2" fill="#b3b3b3" stroke="none" stroke-width="1"/>
<circle cx="81.31" cy="100.09" r="1.2" fill="#b3b3b3" stroke="none" stroke-width="1"/>
<circle cx="55.48" cy="116.26" r="1.2" fill="#b3b3b3" stroke="none" stroke-width="1"/>
<circle cx="110.87" cy="54.01" r="1.2" fill="#b3b3b3" stroke="none" stroke-width="1"/>
<circle cx="77.59" cy="108.84" r="1.2" fill="#b3b3b3" stroke="none" stroke-width="1"/>
<circle cx="78.64" cy="98.03" r="1.2" fill="#b3b3b3" stroke="none" stroke-width="1"/>
<circle cx="101.67" cy="73.98" r="1.2" fill="#b3b3b3" stroke="none" stroke-width="1"/>
<circle cx="67.48" cy="105.06" r="1.2" fill="#b3b3b3" stroke="none" stroke-width="1"/>
<circle cx="48.59" cy="125.92" r="1.2" fill="#b3b3b3" stroke="none" stroke-width="1"/>
<circle cx="61.20" cy="113.98" r="1.2" fill="#b3b3b3" stroke="none" stroke-width="1"/>
<circle cx="46.27" cy="120.87" r="1.2" fill="#b3b3b3" stroke="none" stroke-width="1"/>
<circle cx="80.20" cy="93.72" r="1.2" fill="#b3b3b3" stroke="none" stroke-width="1"/>
<circle cx="74.13" cy="100.71" r="1.2" fill="#b3b3b3" stroke="none" stroke-width="1"/>
<circle cx="63.65" cy="109.81" r="1.2" fill="#b3b3b3" stroke="none" stroke-width="1"/>
<circle cx="56.28" cy="113.89" r="1.2" fill="#b3b3b3" stroke="none" stroke-width="1"/>
<circle cx="68.53" cy="116.19" r="1.2" fill="#b3b3b3" stroke="none" stroke-width="1"/>
<circle cx="64.65" cy="106.57" r="1.2" fill="#b3b3b3" stroke="none" stroke-width="1"/>
<circle cx="76.53" cy="91.66" r="1.2" fill="#b3b3b3" stroke="none" stroke-width="1"/>
<circle cx="70.00" cy="106.78" r="1.2" fill="#b3b3b3" stroke="none" stroke-width="1"/>
<circle cx="119.14" cy="60.73" r="1.2" fill="#b3b3b3" stroke="none" stroke-width="1"/>
<circle cx="80.26" cy="94.30" r="1.2" fill="#b3b3b3" stroke="none" stroke-width="1"/>
<circle cx="89.53" cy="83.25" r="1.2" fill="#b3b3b3" stroke="none" stroke-width="1"/>
<circle cx="68.00" cy="113.60" r="1.2" fill="#b3b3b3" stroke="none" stroke-width="1"/>
<circle cx="53.36" cy="119.08" r="1.2" fill="#b3b3b3" stroke="none" stroke-width="1"/>
<circle cx="48.92" cy="124.25" r="1.2" fill="#b3b3b3" stroke="none" stroke-width="1"/>
<circle cx="105.54" cy="68.33" r="1.2" fill="#b3b3b3" stroke="none" stroke-width="1"/>
<circle cx="63.41" cy="109.73" r="1.2" fill="#b3b3b3" stroke="none" stroke-width="1"/>
<circle cx="57.01" cy="117.21" r="1.2" fill="#b3b3b3" stroke="none" stroke-width="1"/>
<circle cx="52.96" cy="121.56" r="1.2" fill="#b3b3b3" stroke="none" stroke-width="1"/>
<circle cx="57.58" cy="116.02" r="1.2" fill="#b3b3b3" stroke="none" stroke-width="1"/>
<circle cx="81.35" cy="92.41" r="1.2" fill="#b3b3b3" stroke="none" stroke-width="1"/>
<circle cx="53.36" cy="120.61" r="1.2" fill="#b3b3b3" stroke="none" stroke-width="1"/>
<circle cx="123.12" cy="58.07" r="1.2" fill="#b3b3b3" stroke="none" stroke-width="1"/>
<circle cx="85.29" cy="93.20" r="1.2" fill="#b3b3b3" stroke="none" stroke-width="1"/>
<circle cx="106.91" cy="75.80" r="1.2" fill="#b3b3b3" stroke="none" stroke-width="1"/>
<circle cx="44.84" cy="125.39" r="1.2" fill="#b3b3b3" stroke="none" stroke-width="1"/>
<circle cx="90.65" cy="89.90" r="1.2" fill="#b3b3b3" stroke="none" stroke-width="1"/>
<circle cx="89.72" cy="96.41" r="1.2" fill="#b3b3b3" stroke="none" stroke-width="1"/>
<circle cx="74.53" cy="97.61" r="1.2" fill="#b3b3b3" stroke="none" stroke-width="1"/>
<circle cx="63.63" cy="115.18" r="1.2" fill="#b3b3b3" stroke="none" stroke-width="1"/>
<circle cx="93.57" cy="84.51" r="1.2" fill="#b3b3b3" stroke="none" stroke-width="1"/>
<circle cx="59.86" cy="117.60" r="1.2" fill="#b3b3b3" stroke="none" stroke-width="1"/>
<circle cx="53.83" cy="119.22" r="1.2" fill="#b3b3b3" stroke="none" stroke-width="1"/>
<circle cx="51.19" cy="121.86" r="1.2" fill="#b3b3b3" stroke="none" stroke-width="1"/>
<circle cx="75.96" cy="101.25" r="1.2" fill="#b3b3b3" stroke="none" stroke-width="1"/>
<circle cx="79.20" cy="97.05" r="1.2" fill="#b3b3b3" stroke="none" stroke-width="1"/>
<circle cx="54.30" cy="119.88" r="1.2" fill="#b3b3b3" stroke="none" stroke-width="1"/>
<circle cx="108.26" cy="80.02" r="1.2" fill="#b3b3b3" stroke="none" stroke-width="1"/>
<circle cx="67.30" cy="117.41" r="1.2" fill="#b3b3b3" stroke="none" stroke-width="1"/>
<circle cx="61.32" cy="116.56" r="1.2" fill="#b3b3b3" stroke="none" stroke-width="1"/>
<circle cx="73.48" cy="110.51" r="1.2" fill="#b3b3b3" stroke="none" stroke-width="1"/>
<circle cx="64.18" cy="111.07" r="1.2" fill="#b3b3b3" stroke="none" stroke-width="1"/>
<circle cx="54.72" cy="118.66" r="1.2" fill="#b3b3b3" stroke="none" stroke-width="1"/>
<circle cx="64.02" cy="114.29" r="1.2" fill="#b3b3b3" stroke="none" stroke-width="1"/>
<circle cx="95.19" cy="79.65" r="1.2" fill="#b3b3b3" stroke="none" stroke-width="1"/>
<circle cx="47.93" cy="121.68" r="1.2" fill="#b3b3b3" stroke="none" stroke-width="1"/>
<circle cx="56.32" cy="120.46" r="1.2" fill="#b3b3b3" stroke="none" stroke-width="1"/>
<circle cx="59.25" cy="123.45" r="1.2" fill="#b3b3b3" stroke="none" stroke-width="1"/>
<circle cx="67.62" cy="106.06" r="1.2" fill="#b3b3b3" stroke="none" stroke-width="1"/>
<circle cx="92.91" cy="91.94" r="1.2" fill="#b3b3b3" stroke="none" stroke-width="1"/>
<circle cx="62.01" cy="109.20" r="1.2" fill="#b3b3b3" stroke="none" stroke-width="1"/>
<circle cx="71.84" cy="106.94" r="1.2" fill="#b3b3b3" stroke="none" stroke-width="1"/>
<circle cx="65.39" cy="116.00" r="1.2" fill="#b3b3b3" stroke="none" stroke-width="1"/>
<circle cx="69.99" cy="111.35" r="1.2" fill="#b3b3b3" stroke="none" stroke-width="1"/>
<circle cx="128.83" cy="67.03" r="1.2" fill="#b3b3b3" stroke="none" stroke-width="1"/>
<circle cx="61.09" cy="113.31" r="1.2" fill="#b3b3b3" stroke="none" stroke-width="1"/>
<circle cx="65.12" cy="109.42" r="1.2" fill="#b3b3b3" stroke="none" stroke-width="1"/>
<circle cx="47.25" cy="124.55" r="1.2" fill="#b3b3b3" stroke="none" stroke-width="1"/>
<circle cx="57.87" cy="113.79" r="1.2" fill="#b3b3b3" stroke="none" stroke-width="1"/>
<circle cx="73.64" cy="96.59" r="1.2" fill="#b3b3b3" stroke="none" stroke-width="1"/>
<circle cx="80.68" cy="100.53" r="1.2" fill="#b3b3b3" stroke="none" stroke-width="1"/>
<circle cx="63.51" cy="112.35" r="1.2" fill="#b3b3b3" stroke="none" stroke-width="1"/>
<circle cx="68.70" cy="107.90" r="1.2" fill="#b3b3b3" stroke="none" stroke-width="1"/>
<circle cx="70.91" cy="107.53" r="1.2" fill="#b3b3b3" stroke="none" stroke-width="1"/>
<circle cx="64.82" cy="115.22" r="1.2" fill="#b3b3b3" stroke="none" stroke-width="1"/>
<circle cx="104.35" cy="80.26" r="1.2" fill="#b3b3b3" stroke="none" stroke-width="1"/>
<circle cx="84.90" cy="89.91" r="1.2" fill="#b3b3b3" stroke="none" stroke-width="1"/>
<circle cx="101.76" cy="93.18" r="1.2" fill="#b3b3b3" stroke="none" stroke-width="1"/>
<circle cx="88.51" cy="85.88" r="1.2" fill="#b3b3b3" stroke="none" stroke-width="1"/>
<circle cx="50.28" cy="117.70" r="1.2" fill="#b3b3b3" stroke="none" stroke-width="1"/>
<circle cx="58.15" cy="118.85" r="1.2" fill="#b3b3b3" stroke="none" stroke-width="1"/>
<circle cx="74.63" cy="114.10" r="1.2" fill="#b3b3b3" stroke="none" stroke-width="1"/>
<circle cx="56.14" cy="115.46" r="1.2" fill="#b3b3b3" stroke="none" stroke-width="1"/>
<circle cx="61.04" cy="120.33" r="1.2" fill="#b3b3b3" stroke="none" stroke-width="1"/>
<circle cx="64.84" cy="113.12" r="1.2" fill="#b3b3b3" stroke="none" stroke-width="1"/>
<circle cx="57.72" cy="119.63" r="1.2" fill="#b3b3b3" stroke="none" stroke-width="1"/>
<circle cx="50.15" cy="119.22" r="1.2" fill="#b3b3b3" stroke="none" stroke-width="1"/>
<circle cx="43.29" cy="125.47" r="1.2" fill="#b3b3b3" stroke="none" stroke-width="1"/>
<circle cx="55.35" cy="117.73" r="1.2" fill="#b3b3b3" stroke="none" stroke-width="1"/>
<circle cx="103.94" cy="91.93" r="1.2" fill="#b3b3b3" stroke="none" stroke-width="1"/>
<circle cx="69.82" cy="105.65" r="1.2" fill="#b3b3b3" stroke="none" stroke-width="1"/>
<circle cx="53.41" cy="123.83" r="1.2" fill="#b3b3b3" stroke="none" stroke-width="1"/>
<circle cx="64.62" cy="112.11" r="1.2" fill="#b3b3b3" stroke="none" stroke-width="1"/>
<circle cx="63.12" cy="111.42" r="1.2" fill="#b3b3b3" stroke="none" stroke-width="1"/>
<circle cx="54.00" cy="122.54" r="1.2" fill="#b3b3b3" stroke="none" stroke-width="1"/>
<circle cx="77.51" cy="96.76" r="1.2" fill="#b3b3b3" stroke="none" stroke-width="1"/>
<circle cx="60.35" cy="115.88" r="1.2" fill="#b3b3b3" stroke="none" stroke-width="1"/>
<circle cx="59.86" cy="113.18" r="1.2" fill="#b3b3b3" stroke="none" stroke-width="1"/>
<circle cx="61.07" cy="104.28" r="1.2" fill="#b3b3b3" stroke="none" stroke-width="1"/>
<circle cx="66.05" cy="113.00" r="1.2" fill="#b3b3b3" stroke="none" stroke-width="1"/>
<circle cx="78.93" cy="95.97" r="1.2" fill="#b3b3b3" stroke="none" stroke-width="1"/>
<circle cx="90.35" cy="80.92" r="1.2" fill="#b3b3b3" stroke="none" stroke-width="1"/>
<circle cx="53.34" cy="117.71" r="1.2" fill="#b3b3b3" stroke="none" stroke-width="1"/>
<circle cx="67.56" cy="108.28" r="1.2" fill="#b3b3b3" stroke="none" stroke-width="1"/>
<circle cx="71.14" cy="95.27" r="1.2" fill="#b3b3b3" stroke="none" stroke-width="1"/>
<circle cx="78.36" cy="101.67" r="1.2" fill="#b3b3b3" stroke="none" stroke-width="1"/>
<circle cx="88.57" cy="106.54" r="1.2" fill="#b3b3b3" stroke="none" stroke-width="1"/>
<circle cx="60.23" cy="113.83" r="1.2" fill="#b3b3b3" stroke="none" stroke-width="1"/>
<circle cx="49.46" cy="122.73" r="1.2" fill="#b3b3b3" stroke="none" stroke-width="1"/>
<circle cx="83.21" cy="95.28" r="1.2" fill="#b3b3b3" stroke="none" stroke-width="1"/>
<circle cx="57.23" cy="115.57" r="1.2" fill="#b3b3b3" stroke="none" stroke-width="1"/>
<circle cx="115.50" cy="48.14" r="1.2" fill="#b3b3b3" stroke="none" stroke-width="1"/>
<circle cx="105.85" cy="79.59" r="1.2" fill="#b3b3b3" stroke="none" stroke-width="1"/>
<circle cx="57.20" cy="118.96" r="1.2" fill="#b3b3b3" stroke="none" stroke-width="1"/>
<circle cx="51.12" cy="121.07" r="1.2" fill="#b3b3b3" stroke="none" stroke-width="1"/>
<circle cx="120.30" cy="68.78" r="1.2" fill="#b3b3b3" stroke="none" stroke-width="1"/>
<circle cx="57.48" cy="115.23" r="1.2" fill="#b3b3b3" stroke="none" stroke-width="1"/>
<circle cx="107.81" cy="71.61" r="1.2" fill="#b3b3b3" stroke="none" stroke-width="1"/>
<circle cx="63.05" cy="116.18" r="1.2" fill="#b3b3b3" stroke="none" stroke-width="1"/>
<circle cx="79.84" cy="108.06" r="1.2" fill="#b3b3b3" stroke="none" stroke-width="1"/>
<circle cx="68.79" cy="106.55" r="1.2" fill="#b3b3b3" stroke="none" stroke-width="1"/>
<circle cx="90.67" cy="97.45" r="1.2" fill="#b3b3b3" stroke="none" stroke-width="1"/>
<circle cx="92.44" cy="90.99" r="1.2" fill="#b3b3b3" stroke="none" stroke-width="1"/>
<circle cx="115.17" cy="81.55" r="1.2" fill="#b3b3b3" stroke="none" stroke-width="1"/>
<circle cx="54.12" cy="119.70" r="1.2" fill="#b3b3b3" stroke="none" stroke-width="1"/>
<circle cx="62.20" cy="113.61" r="1.2" fill="#b3b3b3" stroke="none" stroke-width="1"/>
<circle cx="61.48" cy="115.41" r="1.2" fill="#b3b3b3" stroke="none" stroke-width="1"/>
<circle cx="56.17" cy="117.28" r="1.2" fill="#b3b3b3" stroke="none" stroke-width="1"/>
<circle cx="66.83" cy="112.46" r="1.2" fill="#b3b3b3" stroke="none" stroke-width="1"/>
<circle cx="54.15" cy="111.98" r="1.2" fill="#b3b3b3" stroke="none" stroke-width="1"/>
<circle cx="50.87" cy="125.25" r="1.2" fill="#b3b3b3" stroke="none" stroke-width="1"/>
<circle cx="61.39" cy="116.72" r="1.2" fill="#b3b3b3" stroke="none" stroke-width="1"/>
<circle cx="51.69" cy="123.14" r="1.2" fill="#b3b3b3" stroke="none" stroke-width="1"/>
<circle cx="70.60" cy="111.82" r="1.2" fill="#b3b3b3" stroke="none" stroke-width="1"/>
<circle cx="85.96" cy="86.77" r="1.2" fill="#b3b3b3" stroke="none" stroke-width="1"/>
<circle cx="111.51" cy="75.47" r="1.2" fill="#b3b3b3" stroke="none" stroke-width="1"/>
<circle cx="49.58" cy="124.50" r="1.2" fill="#b3b3b3" stroke="none" stroke-width="1"/>
<circle cx="73.91" cy="113.16" r="1.2" fill="#b3b3b3" stroke="none" stroke-width="1"/>
<circle cx="83.39" cy="93.32" r="1.2" fill="#b3b3b3" stroke="none" stroke-width="1"/>
<circle cx="80.37" cy="95.85" r="1.2" fill="#b3b3b3" stroke="none" stroke-width="1"/>
<circle cx="76.82" cy="110.27" r="1.2" fill="#b3b3b3" stroke="none" stroke-width="1"/>
<circle cx="50.27" cy="121.10" r="1.2" fill="#b3b3b3" stroke="none" stroke-width="1"/>
<circle cx="80.79" cy="92.05" r="1.2" fill="#b3b3b3" stroke="none" stroke-width="1"/>
<circle cx="61.81" cy="107.71" r="1.2" fill="#b3b3b3" stroke="none" stroke-width="1"/>
<circle cx="84.62" cy="101.43" r="1.2" fill="#b3b3b3" stroke="none" stroke-width="1"/>
<circle cx="59.07" cy="115.37" r="1.2" fill="#b3b3b3" stroke="none" stroke-width="1"/>
<circle cx="72.46" cy="100.40" r="1.2" fill="#b3b3b3" stroke="none" stroke-width="1"/>
<circle cx="61.17" cy="114.42" r="1.2" fill="#b3b3b3" stroke="none" stroke-width="1"/>
<circle cx="84.97" cy="99.85" r="1.2" fill="#b3b3b3" stroke="none" stroke-width="1"/>
<circle cx="57.64" cy="118.54" r="1.2" fill="#b3b3b3" stroke="none" stroke-width="1"/>
<circle cx="92.71" cy="87.60" r="1.2" fill="#b3b3b3" stroke="none" stroke-width="1"/>
<circle cx="49.40" cy="126.13" r="1.2" fill="#b3b3b3" stroke="none" stroke-width="1"/>
<circle cx="82.32" cy="100.66" r="1.2" fill="#b3b3b3" stroke="none" stroke-width="1"/>
<circle cx="73.48" cy="107.51" r="1.2" fill="#b3b3b3" stroke="none" stroke-width="1"/>
<circle cx="86.21" cy="88.89" r="1.2" fill="#b3b3b3" stroke="none" stroke-width="1"/>
<circle cx="88.90" cy="93.66" r="1.2" fill="#b3b3b3" stroke="none" stroke-width="1"/>
<circle cx="54.78" cy="120.05" r="1.2" fill="#b3b3b3" stroke="none" stroke-width="1"/>
<circle cx="69.33" cy="104.95" r="1.2" fill="#b3b3b3" stroke="none" stroke-width="1"/>
<circle cx="54.04" cy="123.19" r="1.2" fill="#b3b3b3" stroke="none" stroke-width="1"/>
<circle cx="61.47" cy="114.14" r="1.2" fill="#b3b3b3" stroke="none" stroke-width="1"/>
<circle cx="55.84" cy="122.15" r="1.2" fill="#b3b3b3" stroke="none" stroke-width="1"/>
<circle cx="61.51" cy="113.29" r="1.2" fill="#b3b3b3" stroke="none" stroke-width="1"/>
<circle cx="121.73" cy="71.62" r="1.2" fill="#b3b3b3" stroke="none" stroke-width="1"/>
<circle cx="53.47" cy="118.71" r="1.2" fill="#b3b3b3" stroke="none" stroke-width="1"/>
<circle cx="71.75" cy="105.80" r="1.2" fill="#b3b3b3" stroke="none" stroke-width="1"/>
<circle cx="91.70" cy="95.32" r="1.2" fill="#b3b3b3" stroke="none" stroke-width="1"/>
<circle cx="67.51" cy="106.09" r="1.2" fill="#b3b3b3" stroke="none" stroke-width="1"/>
<circle cx="57.32" cy="114.29" r="1.2" fill="#b3b3b3" stroke="none" stroke-width="1"/>
<circle cx="56.43" cy="118.75" r="1.2" fill="#b3b3b3" stroke="none" stroke-width="1"/>
<circle cx="71.73" cy="99.16" r="1.2" fill="#b3b3b3" stroke="none" stroke-width="1"/>
<circle cx="73.46" cy="98.47" r="1.2" fill="#b3b3b3" stroke="none" stroke-width="1"/>
<circle cx="67.74" cy="107.84" r="1.2" fill="#b3b3b3" stroke="none" stroke-width="1"/>
<circle cx="110.04" cy="81.28" r="1.2" fill="#b3b3b3" stroke="none" stroke-width="1"/>
<circle cx="67.18" cy="111.05" r="1.2" fill="#b3b3b3" stroke="none" stroke-width="1"/>
<circle cx="62.55" cy="117.51" r="1.2" fill="#b3b3b3" stroke="none" stroke-width="1"/>
<circle cx="62.79" cy="112.50" r="1.2" fill="#b3b3b3" stroke="none" stroke-width="1"/>
<circle cx="79.41" cy="94.39" r="1.2" fill="#b3b3b3" stroke="none" stroke-width="1"/>
<circle cx="58.44" cy="108.72" r="1.2" fill="#b3b3b3" stroke="none" stroke-width="1"/>
<circle cx="77.54" cy="94.12" r="1.2" fill="#b3b3b3" stroke="none" stroke-width="1"/>
<circle cx="96.80" cy="81.41" r="1.2" fill="#b3b3b3" stroke="none" stroke-width="1"/>
<circle cx="76.19" cy="98.30" r="1.2" fill="#b3b3b3" stroke="none" stroke-width="1"/>
<circle cx="49.21" cy="124.84" r="1.2" fill="#b3b3b3" stroke="none" stroke-width="1"/>
<circle cx="89.32" cy="104.02" r="1.2" fill="#b3b3b3" stroke="none" stroke-width="1"/>
<circle cx="126.43" cy="50.94" r="1.2" fill="#b3b3b3" stroke="none" stroke-width="1"/>
<circle cx="51.67" cy="121.23" r="1.2" fill="#b3b3b3" stroke="none" stroke-width="1"/>
<circle cx="69.95" cy="110.94" r="1.2" fill="#b3b3b3" stroke="none" stroke-width="1"/>
<circle cx="111.20" cy="64.37" r="1.2" fill="#b3b3b3" stroke="none" stroke-width="1"/>
<circle cx="89.20" cy="86.78" r="1.2" fill="#b3b3b3" stroke="none" stroke-width="1"/>
<circle cx="104.63" cy="79.19" r="1.2" fill="#b3b3b3" stroke="none" stroke-width="1"/>
<circle cx="58.81" cy="120.01" r="1.2" fill="#b3b3b3" stroke="none" stroke-width="1"/>
<circle cx="68.64" cy="102.29" r="1.2" fill="#b3b3b3" stroke="none" stroke-width="1"/>
<circle cx="76.93" cy="105.24" r="1.2" fill="#b3b3b3" stroke="none" stroke-width="1"/>
<circle cx="76.43" cy="100.53" r="1.2" fill="#b3b3b3" stroke="none" stroke-width="1"/>
<circle cx="90.54" cy="98.17" r="1.2" fill="#b3b3b3" stroke="none" stroke-width="1"/>
<circle cx="92.43" cy="87.59" r="1.2" fill="#b3b3b3" stroke="none" stroke-width="1"/>
<circle cx="85.82" cy="84.90" r="1.2" fill="#b3b3b3" stroke="none" stroke-width="1"/>
<circle cx="96.28" cy="86.98" r="1.2" fill="#b3b3b3" stroke="none" stroke-width="1"/>
<circle cx="52.78" cy="123.42" r="1.2" fill="#b3b3b3" stroke="none" stroke-width="1"/>
<circle cx="77.71" cy="100.08" r="1.2" fill="#b3b3b3" stroke="none" stroke-width="1"/>
<circle cx="87.02" cy="94.80" r="1.2" fill="#b3b3b3" stroke="none" stroke-width="1"/>
<circle cx="94.03" cy="89.61" r="1.2" fill="#b3b3b3" stroke="none" stroke-width="1"/>
<circle cx="61.74" cy="111.44" r="1.2" fill="#b3b3b3" stroke="none" stroke-width="1"/>
<circle cx="45.62" cy="124.23" r="1.2" fill="#b3b3b3" stroke="none" stroke-width="1"/>
<circle cx="70.65" cy="108.48" r="1.2" fill="#b3b3b3" stroke="none" stroke-width="1"/>
<circle cx="58.31" cy="113.80" r="1.2" fill="#b3b3b3" stroke="none" stroke-width="1"/>
<circle cx="110.44" cy="70.39" r="1.2" fill="#b3b3b3" stroke="none" stroke-width="1"/>
<circle cx="48.09" cy="125.79" r="1.2" fill="#b3b3b3" stroke="none" stroke-width="1"/>
<circle cx="58.58" cy="119.94" r="1.2" fill="#b3b3b3" stroke="none" stroke-width="1"/>
<circle cx="47.44" cy="126.43" r="1.2" fill="#b3b3b3" stroke="none" stroke-width="1"/>
<circle cx="65.81" cy="107.80" r="1.2" fill="#b3b3b3" stroke="none" stroke-width="1"/>
<circle cx="99.83" cy="70.27" r="1.2" fill="#b3b3b3" stroke="none" stroke-width="1"/>
<circle cx="49.68" cy="120.34" r="1.2" fill="#b3b3b3" stroke="none" stroke-width="1"/>
<circle cx="59.03" cy="112.71" r="1.2" fill="#b3b3b3" stroke="none" stroke-width="1"/>
<circle cx="80.35" cy="100.67" r="1.2" fill="#b3b3b3" stroke="none" stroke-width="1"/>
<circle cx="102.63" cy="74.14" r="1.2" fill="#b3b3b3" stroke="none" stroke-width="1"/>
<circle cx="65.32" cy="108.41" r="1.2" fill="#b3b3b3" stroke="none" stroke-width="1"/>
<circle cx="54.67" cy="120.36" r="1.2" fill="#b3b3b3" stroke="none" stroke-width="1"/>
<circle cx="52.07" cy="119.33" r="1.2" fill="#b3b3b3" stroke="none" stroke-width="1"/>
<circle cx="70.90" cy="108.18" r="1.2" fill="#b3b3b3" stroke="none" stroke-width="1"/>
<circle cx="107.18" cy="89.18" r="1.2" fill="#b3b3b3" stroke="none" stroke-width="1"/>
<circle cx="60.90" cy="116.94" r="1.2" fill="#b3b3b3" stroke="none" stroke-width="1"/>
<circle cx="52.65" cy="120.18" r="1.2" fill="#b3b3b3" stroke="none" stroke-width="1"/>
<circle cx="65.77" cy="113.09" r="1.2" fill="#b3b3b3" stroke="none" stroke-width="1"/>
<circle cx="67.22" cy="112.62" r="1.2" fill="#b3b3b3" stroke="none" stroke-width="1"/>
<circle cx="59.40" cy="113.31" r="1.2" fill="#b3b3b3" stroke="none" stroke-width="1"/>
<circle cx="56.99" cy="117.89" r="1.2" fill="#b3b3b3" stroke="none" stroke-width="1"/>
<circle cx="93.93" cy="88.40" r="1.2" fill="#b3b3b3" stroke="none" stroke-width="1"/>
<circle cx="64.07" cy="115.46" r="1.2" fill="#b3b3b3" stroke="none" stroke-width="1"/>
<circle cx="94.95" cy="79.45" r="1.2" fill="#b3b3b3" stroke="none" stroke-width="1"/>
<circle cx="74.19" cy="105.50" r="1.2" fill="#b3b3b3" stroke="none" stroke-width="1"/>
<circle cx="63.32" cy="100.22" r="1.2" fill="#b3b3b3" stroke="none" stroke-width="1"/>
<circle cx="47.94" cy="126.07" r="1.2" fill="#b3b3b3" stroke="none" stroke-width="1"/>
<circle cx="62.11" cy="117.59" r="1.2" fill="#b3b3b3" stroke="none" stroke-width="1"/>
<circle cx="75.13" cy="106.57" r="1.2" fill="#b3b3b3" stroke="none" stroke-width="1"/>
<circle cx="63.66" cy="111.70" r="1.2" fill="#b3b3b3" stroke="none" stroke-width="1"/>
<circle cx="52.85" cy="118.91" r="1.2" fill="#b3b3b3" stroke="none" stroke-width="1"/>
<circle cx="56.22" cy="115.00" r="1.2" fill="#b3b3b3" stroke="none" stroke-width="1"/>
<circle cx="54.37" cy="117.16" r="1.2" fill="#b3b3b3" stroke="none" stroke-width="1"/>
<circle cx="75.86" cy="96.22" r="1.2" fill="#b3b3b3" stroke="none" stroke-width="1"/>
<circle cx="105.04" cy="81.91" r="1.2" fill="#b3b3b3" stroke="none" stroke-width="1"/>
<circle cx="56.26" cy="115.94" r="1.2" fill="#b3b3b3" stroke="none" stroke-width="1"/>
<circle cx="124.28" cy="56.61" r="1.2" fill="#b3b3b3" stroke="none" stroke-width="1"/>
<circle cx="96.73" cy="82.49" r="1.2" fill="#b3b3b3" stroke="none" stroke-width="1"/>
<circle cx="65.03" cy="107.31" r="1.2" fill="#b3b3b3" stroke="none" stroke-width="1"/>
<circle cx="59.03" cy="110.48" r="1.2" fill="#b3b3b3" stroke="none" stroke-width="1"/>
<circle cx="72.33" cy="102.23" r="1.2" fill="#b3b3b3" stroke="none" stroke-width="1"/>
<circle cx="97.50" cy="109.60" r="1.2" fill="#b3b3b3" stroke="none" stroke-width="1"/>
<circle cx="49.88" cy="119.11" r="1.2" fill="#b3b3b3" stroke="none" stroke-width="1"/>
<circle cx="62.91" cy="108.52" r="1.2" fill="#b3b3b3" stroke="none" stroke-width="1"/>
<circle cx="53.55" cy="121.83" r="1.2" fill="#b3b3b3" stroke="none" stroke-width="1"/>
<circle cx="72.25" cy="105.47" r="1.2" fill="#b3b3b3" stroke="none" stroke-width="1"/>
<circle cx="61.24" cy="117.28" r="1.2" fill="#b3b3b3" stroke="none" stroke-width="1"/>
<circle cx="59.86" cy="115.06" r="1.2" fill="#b3b3b3" stroke="none" stroke-width="1"/>
<circle cx="94.24" cy="92.83" r="1.2" fill="#b3b3b3" stroke="none" stroke-width="1"/>
<circle cx="58.52" cy="118.02" r="1.2" fill="#b3b3b3" stroke="none" stroke-width="1"/>
<circle cx="79.07" cy="101.77" r="1.2" fill="#b3b3b3" stroke="none" stroke-width="1"/>
<circle cx="99.26" cy="81.88" r="1.2" fill="#b3b3b3" stroke="none" stroke-width="1"/>
<circle cx="73.02" cy="105.84" r="1.2" fill="#b3b3b3" stroke="none" stroke-width="1"/>
<circle cx="68.42" cy="106.42" r="1.2" fill="#b3b3b3" stroke="none" stroke-width="1"/>
<circle cx="111.60" cy="81.39" r="1.2" fill="#b3b3b3" stroke="none" stroke-width="1"/>
<circle cx="63.11" cy="116.44" r="1.2" fill="#b3b3b3" stroke="none" stroke-width="1"/>
<circle cx="97.54" cy="96.73" r="1.2" fill="#b3b3b3" stroke="none" stroke-width="1"/>
<circle cx="52.41" cy="114.86" r="1.2" fill="#b3b3b3" stroke="none" stroke-width="1"/>
<circle cx="84.48" cy="92.85" r="1.2" fill="#b3b3b3" stroke="none" stroke-width="1"/>
<circle cx="55.56" cy="119.83" r="1.2" fill="#b3b3b3" stroke="none" stroke-width="1"/>
<circle cx="59.48" cy="117.60" r="1.2" fill="#b3b3b3" stroke="none" stroke-width="1"/>
<circle cx="51.69" cy="117.11" r="1.2" fill="#b3b3b3" stroke="none" stroke-width="1"/>
<circle cx="89.34" cy="78.70" r="1.2" fill="#b3b3b3" stroke="none" stroke-width="1"/>
<circle cx="85.05" cy="89.87" r="1.2" fill="#b3b3b3" stroke="none" stroke-width="1"/>
<circle cx="84.92" cy="92.95" r="1.2" fill="#b3b3b3" stroke="none" stroke-width="1"/>
<circle cx="56.57" cy="117.26" r="1.2" fill="#b3b3b3" stroke="none" stroke-width="1"/>
<circle cx="54.53" cy="123.15" r="1.2" fill="#b3b3b3" stroke="none" stroke-width="1"/>
<circle cx="97.91" cy="100.52" r="1.2" fill="#b3b3b3" stroke="none" stroke-width="1"/>
<circle cx="95.68" cy="93.68" r="1.2" fill="#b3b3b3" stroke="none" stroke-width="1"/>
<circle cx="82.24" cy="98.36" r="1.2" fill="#b3b3b3" stroke="none" stroke-width="1"/>
<circle cx="46.05" cy="126.12" r="1.2" fill="#b3b3b3" stroke="none" stroke-width="1"/>
<circle cx="79.22" cy="107.48" r="1.2" fill="#b3b3b3" stroke="none" stroke-width="1"/>
<circle cx="59.83" cy="105.80" r="1.2" fill="#b3b3b3" stroke="none" stroke-width="1"/>
<circle cx="97.53" cy="93.30" r="1.2" fill="#b3b3b3" stroke="none" stroke-width="1"/>
<circle cx="103.36" cy="77.85" r="1.2" fill="#b3b3b3" stroke="none" stroke-width="1"/>
<circle cx="104.59" cy="75.16" r="1.2" fill="#b3b3b3" stroke="none" stroke-width="1"/>
<circle cx="58.35" cy="115.14" r="1.2" fill="#b3b3b3" stroke="none" stroke-width="1"/>
<circle cx="79.09" cy="94.80" r="1.2" fill="#b3b3b3" stroke="none" stroke-width="1"/>
<circle cx="65.09" cy="110.02" r="1.2" fill="#b3b3b3" stroke="none" stroke-width="1"/>
<circle cx="73.27" cy="108.84" r="1.2" fill="#b3b3b3" stroke="none" stroke-width="1"/>
<circle cx="67.39" cy="115.61" r="1.2" fill="#b3b3b3" stroke="none" stroke-width="1"/>
<circle cx="63.85" cy="112.70" r="1.2" fill="#b3b3b3" stroke="none" stroke-width="1"/>
<circle cx="85.48" cy="93.57" r="1.2" fill="#b3b3b3" stroke="none" stroke-width="1"/>
<circle cx="68.35" cy="106.90" r="1.2" fill="#b3b3b3" stroke="none" stroke-width="1"/>
<circle cx="50.07" cy="122.07" r="1.2" fill="#b3b3b3" stroke="none" stroke-width="1"/>
<circle cx="63.11" cy="108.60" r="1.2" fill="#b3b3b3" stroke="none" stroke-width="1"/>
<circle cx="72.75" cy="104.73" r="1.2" fill="#b3b3b3" stroke="none" stroke-width="1"/>
<circle cx="82.68" cy="96.22" r="1.2" fill="#b3b3b3" stroke="none" stroke-width="1"/>
<circle cx="55.28" cy="120.95" r="1.2" fill="#b3b3b3" stroke="none" stroke-width="1"/>
<circle cx="84.61" cy="93.83" r="1.2" fill="#b3b3b3" stroke="none" stroke-width="1"/>
<circle cx="52.44" cy="120.07" r="1.2" fill="#b3b3b3" stroke="none" stroke-width="1"/>
<circle cx="58.34" cy="111.58" r="1.2" fill="#6a6a6a" stroke="none" stroke-width="1"/>
<circle cx="92.68" cy="80.76" r="1.2" fill="#6a6a6a" stroke="none" stroke-width="1"/>
<circle cx="120.82" cy="51.56" r="1.2" fill="#6a6a6a" stroke="none" stroke-width="1"/>
<circle cx="50.75" cy="118.43" r="1.2" fill="#6a6a6a" stroke="none" stroke-width="1"/>
<circle cx="46.54" cy="120.97" r="1.2" fill="#6a6a6a" stroke="none" stroke-width="1"/>
<circle cx="55.93" cy="107.88" r="1.2" fill="#6a6a6a" stroke="none" stroke-width="1"/>
<circle cx="85.89" cy="84.08" r="1.2" fill="#6a6a6a" stroke="none" stroke-width="1"/>
<circle cx="75.45" cy="92.43" r="1.2" fill="#6a6a6a" stroke="none" stroke-width="1"/>
<circle cx="61.97" cy="107.76" r="1.2" fill="#6a6a6a" stroke="none" stroke-width="1"/>
<circle cx="89.10" cy="90.35" r="1.2" fill="#6a6a6a" stroke="none" stroke-width="1"/>
<circle cx="82.93" cy="80.32" r="1.2" fill="#6a6a6a" stroke="none" stroke-width="1"/>
<circle cx="48.78" cy="122.06" r="1.2" fill="#6a6a6a" stroke="none" stroke-width="1"/>
<circle cx="55.25" cy="116.55" r="1.2" fill="#6a6a6a" stroke="none" stroke-width="1"/>
<circle cx="93.45" cy="73.08" r="1.2" fill="#6a6a6a" stroke="none" stroke-width="1"/>
<circle cx="63.64" cy="107.14" r="1.2" fill="#6a6a6a" stroke="none" stroke-width="1"/>
<circle cx="92.19" cy="82.41" r="1.2" fill="#6a6a6a" stroke="none" stroke-width="1"/>
<circle cx="76.28" cy="99.51" r="1.2" fill="#6a6a6a" stroke="none" stroke-width="1"/>
<circle cx="45.94" cy="123.50" r="1.2" fill="#6a6a6a" stroke="none" stroke-width="1"/>
<circle cx="89.38" cy="82.81" r="1.2" fill="#6a6a6a" stroke="none" stroke-width="1"/>
<circle cx="73.39" cy="102.07" r="1.2" fill="#6a6a6a" stroke="none" stroke-width="1"/>
<circle cx="67.88" cy="103.11" r="1.2" fill="#6a6a6a" stroke="none" stroke-width="1"/>
<circle cx="52.38" cy="119.20" r="1.2" fill="#6a6a6a" stroke="none" stroke-width="1"/>
<circle cx="88.73" cy="75.25" r="1.2" fill="#6a6a6a" stroke="none" stroke-width="1"/>
<circle cx="71.60" cy="101.04" r="1.2" fill="#6a6a6a" stroke="none" stroke-width="1"/>
<circle cx="63.78" cy="107.17" r="1.2" fill="#6a6a6a" stroke="none" stroke-width="1"/>
<circle cx="69.75" cy="105.91" r="1.2" fill="#6a6a6a" stroke="none" stroke-width="1"/>
<circle cx="64.69" cy="107.45" r="1.2" fill="#6a6a6a" stroke="none" stroke-width="1"/>
<circle cx="49.68" cy="119.45" r="1.2" fill="#6a6a6a" stroke="none" stroke-width="1"/>
<circle cx="73.57" cy="99.10" r="1.2" fill="#6a6a6a" stroke="none" stroke-width="1"/>
<circle cx="59.57" cy="117.23" r="1.2" fill="#6a6a6a" stroke="none" stroke-width="1"/>
<circle cx="60.39" cy="113.49" r="1.2" fill="#6a6a6a" stroke="none" stroke-width="1"/>
<circle cx="103.86" cy="83.76" r="1.2" fill="#6a6a6a" stroke="none" stroke-width="1"/>
<circle cx="51.04" cy="115.73" r="1.2" fill="#6a6a6a" stroke="none" stroke-width="1"/>
<circle cx="79.96" cy="81.95" r="1.2" fill="#6a6a6a" stroke="none" stroke-width="1"/>
<circle cx="74.97" cy="90.28" r="1.2" fill="#6a6a6a" stroke="none" stroke-width="1"/>
<circle cx="104.73" cy="70.02" r="1.2" fill="#6a6a6a" stroke="none" stroke-width="1"/>
<circle cx="106.81" cy="68.33" r="1.2" fill="#6a6a6a" stroke="none" stroke-width="1"/>
<circle cx="51.31" cy="120.55" r="1.2" fill="#6a6a6a" stroke="none" stroke-width="1"/>
<circle cx="71.69" cy="101.44" r="1.2" fill="#6a6a6a" stroke="none" stroke-width="1"/>
<circle cx="105.17" cy="64.35" r="1.2" fill="#6a6a6a" stroke="none" stroke-width="1"/>
<circle cx="48.21" cy="125.98" r="1.2" fill="#6a6a6a" stroke="none" stroke-width="1"/>
<circle cx="92.88" cy="76.86" r="1.2" fill="#6a6a6a" stroke="none" stroke-width="1"/>
<circle cx="75.96" cy="98.05" r="1.2" fill="#6a6a6a" stroke="none" stroke-width="1"/>
<circle cx="50.54" cy="119.75" r="1.2" fill="#6a6a6a" stroke="none" stroke-width="1"/>
<circle cx="112.32" cy="54.76" r="1.2" fill="#6a6a6a" stroke="none" stroke-width="1"/>
<circle cx="85.57" cy="74.15" r="1.2" fill="#6a6a6a" stroke="none" stroke-width="1"/>
<circle cx="58.82" cy="113.39" r="1.2" fill="#6a6a6a" stroke="none" stroke-width="1"/>
<circle cx="70.14" cy="100.09" r="1.2" fill="#6a6a6a" stroke="none" stroke-width="1"/>
<circle cx="49.56" cy="120.73" r="1.2" fill="#6a6a6a" stroke="none" stroke-width="1"/>
<circle cx="70.55" cy="112.45" r="1.2" fill="#6a6a6a" stroke="none" stroke-width="1"/>
<circle cx="76.69" cy="97.41" r="1.2" fill="#6a6a6a" stroke="none" stroke-width="1"/>
<circle cx="68.27" cy="102.13" r="1.2" fill="#6a6a6a" stroke="none" stroke-width="1"/>
<circle cx="65.44" cy="107.89" r="1.2" fill="#6a6a6a" stroke="none" stroke-width="1"/>
<circle cx="73.95" cy="106.87" r="1.2" fill="#6a6a6a" stroke="none" stroke-width="1"/>
<circle cx="97.56" cy="80.75" r="1.2" fill="#6a6a6a" stroke="none" stroke-width="1"/>
<circle cx="73.65" cy="97.89" r="1.2" fill="#6a6a6a" stroke="none" stroke-width="1"/>
<circle cx="62.04" cy="104.07" r="1.2" fill="#6a6a6a" stroke="none" stroke-width="1"/>
<circle cx="105.67" cy="72.05" r="1.2" fill="#6a6a6a" stroke="none" stroke-width="1"/>
<circle cx="59.36" cy="110.05" r="1.2" fill="#6a6a6a" stroke="none" stroke-width="1"/>
<circle cx="50.01" cy="120.98" r="1.2" fill="#6a6a6a" stroke="none" stroke-width="1"/>
<circle cx="55.12" cy="111.76" r="1.2" fill="#6a6a6a" stroke="none" stroke-width="1"/>
<circle cx="100.79" cy="80.12" r="1.2" fill="#6a6a6a" stroke="none" stroke-width="1"/>
<circle cx="57.26" cy="114.73" r="1.2" fill="#6a6a6a" stroke="none" stroke-width="1"/>
<circle cx="72.81" cy="102.46" r="1.2" fill="#6a6a6a" stroke="none" stroke-width="1"/>
<circle cx="77.04" cy="91.57" r="1.2" fill="#6a6a6a" stroke="none" stroke-width="1"/>
<circle cx="42.69" cy="125.34" r="1.2" fill="#6a6a6a" stroke="none" stroke-width="1"/>
<circle cx="75.05" cy="88.72" r="1.2" fill="#6a6a6a" stroke="none" stroke-width="1"/>
<circle cx="93.10" cy="67.62" r="1.2" fill="#6a6a6a" stroke="none" stroke-width="1"/>
<circle cx="48.42" cy="121.69" r="1.2" fill="#6a6a6a" stroke="none" stroke-width="1"/>
<circle cx="75.91" cy="96.02" r="1.2" fill="#6a6a6a" stroke="none" stroke-width="1"/>
<circle cx="64.65" cy="109.94" r="1.2" fill="#6a6a6a" stroke="none" stroke-width="1"/>
<circle cx="56.51" cy="115.58" r="1.2" fill="#6a6a6a" stroke="none" stroke-width="1"/>
<circle cx="58.89" cy="104.30" r="1.2" fill="#6a6a6a" stroke="none" stroke-width="1"/>
<circle cx="87.79" cy="83.04" r="1.2" fill="#6a6a6a" stroke="none" stroke-width="1"/>
<circle cx="71.64" cy="101.27" r="1.2" fill="#6a6a6a" stroke="none" stroke-width="1"/>
<circle cx="60.05" cy="113.63" r="1.2" fill="#6a6a6a" stroke="none" stroke-width="1"/>
<circle cx="90.30" cy="92.69" r="1.2" fill="#6a6a6a" stroke="none" stroke-width="1"/>
<circle cx="103.10" cy="56.83" r="1.2" fill="#6a6a6a" stroke="none" stroke-width="1"/>
<circle cx="117.37" cy="59.92" r="1.2" fill="#6a6a6a" stroke="none" stroke-width="1"/>
<circle cx="93.46" cy="77.16" r="1.2" fill="#6a6a6a" stroke="none" stroke-width="1"/>
<circle cx="48.31" cy="121.38" r="1.2" fill="#6a6a6a" stroke="none" stroke-width="1"/>
<circle cx="67.30" cy="101.91" r="1.2" fill="#6a6a6a" stroke="none" stroke-width="1"/>
<circle cx="43.19" cy="122.96" r="1.2" fill="#6a6a6a" stroke="none" stroke-width="1"/>
<circle cx="57.01" cy="112.24" r="1.2" fill="#6a6a6a" stroke="none" stroke-width="1"/>
<circle cx="61.43" cy="111.55" r="1.2" fill="#6a6a6a" stroke="none" stroke-width="1"/>
<circle cx="60.89" cy="105.67" r="1.2" fill="#6a6a6a" stroke="none" stroke-width="1"/>
<circle cx="64.76" cy="101.75" r="1.2" fill="#6a6a6a" stroke="none" stroke-width="1"/>
<circle cx="53.01" cy="116.81" r="1.2" fill="#6a6a6a" stroke="none" stroke-width="1"/>
<circle cx="127.77" cy="49.32" r="1.2" fill="#6a6a6a" stroke="none" stroke-width="1"/>
<circle cx="94.40" cy="67.72" r="1.2" fill="#6a6a6a" stroke="none" stroke-width="1"/>
<circle cx="57.28" cy="114.05" r="1.2" fill="#6a6a6a" stroke="none" stroke-width="1"/>
<circle cx="52.06" cy="117.54" r="1.2" fill="#6a6a6a" stroke="none" stroke-width="1"/>
<circle cx="113.34" cy="70.78" r="1.2" fill="#6a6a6a" stroke="none" stroke-width="1"/>
<circle cx="48.39" cy="122.44" r="1.2" fill="#6a6a6a" stroke="none" stroke-width="1"/>
<circle cx="79.95" cy="94.82" r="1.2" fill="#6a6a6a" stroke="none" stroke-width="1"/>
<circle cx="81.75" cy="93.51" r="1.2" fill="#6a6a6a" stroke="none" stroke-width="1"/>
<circle cx="81.40" cy="102.07" r="1.2" fill="#6a6a6a" stroke="none" stroke-width="1"/>
<circle cx="73.74" cy="94.15" r="1.2" fill="#6a6a6a" stroke="none" stroke-width="1"/>
<circle cx="60.84" cy="108.47" r="1.2" fill="#6a6a6a" stroke="none" stroke-width="1"/>
<circle cx="66.02" cy="105.33" r="1.2" fill="#6a6a6a" stroke="none" stroke-width="1"/>
<circle cx="69.46" cy="103.65" r="1.2" fill="#6a6a6a" stroke="none" stroke-width="1"/>
<circle cx="85.15" cy="89.89" r="1.2" fill="#6a6a6a" stroke="none" stroke-width="1"/>
<circle cx="57.06" cy="112.48" r="1.2" fill="#6a6a6a" stroke="none" stroke-width="1"/>
<circle cx="54.43" cy="118.53" r="1.2" fill="#6a6a6a" stroke="none" stroke-width="1"/>
<circle cx="86.18" cy="83.28" r="1.2" fill="#6a6a6a" stroke="none" stroke-width="1"/>
<circle cx="75.84" cy="92.86" r="1.2" fill="#6a6a6a" stroke="none" stroke-width="1"/>
<circle cx="56.26" cy="119.67" r="1.2" fill="#6a6a6a" stroke="none" stroke-width="1"/>
<circle cx="99.69" cy="60.18" r="1.2" fill="#6a6a6a" stroke="none" stroke-width="1"/>
<circle cx="52.82" cy="117.65" r="1.2" fill="#6a6a6a" stroke="none" stroke-width="1"/>
<circle cx="84.76" cy="84.91" r="1.2" fill="#6a6a6a" stroke="none" stroke-width="1"/>
<circle cx="74.66" cy="94.88" r="1.2" fill="#6a6a6a" stroke="none" stroke-width="1"/>
<circle cx="119.84" cy="64.23" r="1.2" fill="#6a6a6a" stroke="none" stroke-width="1"/>
<circle cx="79.23" cy="85.37" r="1.2" fill="#6a6a6a" stroke="none" stroke-width="1"/>
<circle cx="98.89" cy="75.97" r="1.2" fill="#6a6a6a" stroke="none" stroke-width="1"/>
<circle cx="74.54" cy="94.79" r="1.2" fill="#6a6a6a" stroke="none" stroke-width="1"/>
<circle cx="111.57" cy="62.41" r="1.2" fill="#6a6a6a" stroke="none" stroke-width="1"/>
<circle cx="47.14" cy="125.76" r="1.2" fill="#6a6a6a" stroke="none" stroke-width="1"/>
<circle cx="94.95" cy="92.75" r="1.2" fill="#6a6a6a" stroke="none" stroke-width="1"/>
<circle cx="56.53" cy="115.56" r="1.2" fill="#6a6a6a" stroke="none" stroke-width="1"/>
<circle cx="80.52" cy="90.51" r="1.2" fill="#6a6a6a" stroke="none" stroke-width="1"/>
<circle cx="53.83" cy="118.38" r="1.2" fill="#6a6a6a" stroke="none" stroke-width="1"/>
<circle cx="92.70" cy="70.28" r="1.2" fill="#6a6a6a" stroke="none" stroke-width="1"/>
<circle cx="57.48" cy="111.24" r="1.2" fill="#6a6a6a" stroke="none" stroke-width="1"/>
<circle cx="74.31" cy="98.26" r="1.2" fill="#6a6a6a" stroke="none" stroke-width="1"/>
<circle cx="54.97" cy="117.20" r="1.2" fill="#6a6a6a" stroke="none" stroke-width="1"/>
<circle cx="43.64" cy="123.56" r="1.2" fill="#6a6a6a" stroke="none" stroke-width="1"/>
<circle cx="57.01" cy="113.92" r="1.2" fill="#6a6a6a" stroke="none" stroke-width="1"/>
<circle cx="46.64" cy="123.40" r="1.2" fill="#6a6a6a" stroke="none" stroke-width="1"/>
<circle cx="82.13" cy="98.05" r="1.2" fill="#6a6a6a" stroke="none" stroke-width="1"/>
<circle cx="79.47" cy="92.40" r="1.2" fill="#6a6a6a" stroke="none" stroke-width="1"/>
<circle cx="87.04" cy="75.37" r="1.2" fill="#6a6a6a" stroke="none" stroke-width="1"/>
<circle cx="82.57" cy="88.81" r="1.2" fill="#6a6a6a" stroke="none" stroke-width="1"/>
<circle cx="94.70" cy="78.34" r="1.2" fill="#6a6a6a" stroke="none" stroke-width="1"/>
<circle cx="58.59" cy="112.45" r="1.2" fill="#6a6a6a" stroke="none" stroke-width="1"/>
<circle cx="65.82" cy="107.77" r="1.2" fill="#6a6a6a" stroke="none" stroke-width="1"/>
<circle cx="55.34" cy="113.65" r="1.2" fill="#6a6a6a" stroke="none" stroke-width="1"/>
<circle cx="49.63" cy="114.92" r="1.2" fill="#6a6a6a" stroke="none" stroke-width="1"/>
<circle cx="61.63" cy="107.23" r="1.2" fill="#6a6a6a" stroke="none" stroke-width="1"/>
<circle cx="58.26" cy="112.84" r="1.2" fill="#6a6a6a" stroke="none" stroke-width="1"/>
<circle cx="67.86" cy="99.78" r="1.2" fill="#6a6a6a" stroke="none" stroke-width="1"/>
<circle cx="101.59" cy="75.92" r="1.2" fill="#6a6a6a" stroke="none" stroke-width="1"/>
<circle cx="118.66" cy="59.06" r="1.2" fill="#6a6a6a" stroke="none" stroke-width="1"/>
<circle cx="114.69" cy="61.36" r="1.2" fill="#6a6a6a" stroke="none" stroke-width="1"/>
<circle cx="74.28" cy="94.43" r="1.2" fill="#6a6a6a" stroke="none" stroke-width="1"/>
<circle cx="116.66" cy="57.13" r="1.2" fill="#6a6a6a" stroke="none" stroke-width="1"/>
<circle cx="117.98" cy="55.53" r="1.2" fill="#6a6a6a" stroke="none" stroke-width="1"/>
<circle cx="57.02" cy="115.68" r="1.2" fill="#6a6a6a" stroke="none" stroke-width="1"/>
<circle cx="70.69" cy="103.09" r="1.2" fill="#6a6a6a" stroke="none" stroke-width="1"/>
<circle cx="64.31" cy="102.79" r="1.2" fill="#6a6a6a" stroke="none" stroke-width="1"/>
<circle cx="80.61" cy="102.01" r="1.2" fill="#6a6a6a" stroke="none" stroke-width="1"/>
<circle cx="48.62" cy="119.22" r="1.2" fill="#6a6a6a" stroke="none" stroke-width="1"/>
<circle cx="56.26" cy="111.76" r="1.2" fill="#6a6a6a" stroke="none" stroke-width="1"/>
<circle cx="54.34" cy="118.16" r="1.2" fill="#6a6a6a" stroke="none" stroke-width="1"/>
<circle cx="103.05" cy="70.40" r="1.2" fill="#6a6a6a" stroke="none" stroke-width="1"/>
<circle cx="71.60" cy="96.60" r="1.2" fill="#6a6a6a" stroke="none" stroke-width="1"/>
<circle cx="90.36" cy="93.70" r="1.2" fill="#6a6a6a" stroke="none" stroke-width="1"/>
<circle cx="79.44" cy="91.01" r="1.2" fill="#6a6a6a" stroke="none" stroke-width="1"/>
<circle cx="60.09" cy="108.65" r="1.2" fill="#6a6a6a" stroke="none" stroke-width="1"/>
<circle cx="66.59" cy="97.24" r="1.2" fill="#6a6a6a" stroke="none" stroke-width="1"/>
<circle cx="58.59" cy="108.34" r="1.2" fill="#6a6a6a" stroke="none" stroke-width="1"/>
<circle cx="81.65" cy="95.38" r="1.2" fill="#6a6a6a" stroke="none" stroke-width="1"/>
<circle cx="82.95" cy="80.87" r="1.2" fill="#6a6a6a" stroke="none" stroke-width="1"/>
<circle cx="61.53" cy="99.20" r="1.2" fill="#6a6a6a" stroke="none" stroke-width="1"/>
<circle cx="50.61" cy="118.32" r="1.2" fill="#6a6a6a" stroke="none" stroke-width="1"/>
<circle cx="65.77" cy="106.73" r="1.2" fill="#6a6a6a" stroke="none" stroke-width="1"/>
<circle cx="74.69" cy="96.38" r="1.2" fill="#6a6a6a" stroke="none" stroke-width="1"/>
<circle cx="49.78" cy="117.66" r="1.2" fill="#6a6a6a" stroke="none" stroke-width="1"/>
<circle cx="71.11" cy="96.56" r="1.2" fill="#6a6a6a" stroke="none" stroke-width="1"/>
<circle cx="51.84" cy="115.21" r="1.2" fill="#6a6a6a" stroke="none" stroke-width="1"/>
<circle cx="59.38" cy="111.99" r="1.2" fill="#6a6a6a" stroke="none" stroke-width="1"/>
<circle cx="72.68" cy="100.32" r="1.2" fill="#6a6a6a" stroke="none" stroke-width="1"/>
<circle cx="112.36" cy="59.83" r="1.2" fill="#6a6a6a" stroke="none" stroke-width="1"/>
<circle cx="63.57" cy="102.83" r="1.2" fill="#6a6a6a" stroke="none" stroke-width="1"/>
<circle cx="66.67" cy="109.90" r="1.2" fill="#6a6a6a" stroke="none" stroke-width="1"/>
<circle cx="69.59" cy="100.28" r="1.2" fill="#6a6a6a" stroke="none" stroke-width="1"/>
<circle cx="51.85" cy="121.32" r="1.2" fill="#6a6a6a" stroke="none" stroke-width="1"/>
<circle cx="71.74" cy="95.56" r="1.2" fill="#6a6a6a" stroke="none" stroke-width="1"/>
<circle cx="58.35" cy="115.20" r="1.2" fill="#6a6a6a" stroke="none" stroke-width="1"/>
<circle cx="57.76" cy="108.08" r="1.2" fill="#6a6a6a" stroke="none" stroke-width="1"/>
<circle cx="103.02" cy="59.85" r="1.2" fill="#6a6a6a" stroke="none" stroke-width="1"/>
<circle cx="61.81" cy="114.89" r="1.2" fill="#6a6a6a" stroke="none" stroke-width="1"/>
<circle cx="77.94" cy="95.66" r="1.2" fill="#6a6a6a" stroke="none" stroke-width="1"/>
<circle cx="57.56" cy="110.26" r="1.2" fill="#6a6a6a" stroke="none" stroke-width="1"/>
<circle cx="54.24" cy="115.89" r="1.2" fill="#6a6a6a" stroke="none" stroke-width="1"/>
<circle cx="103.25" cy="66.69" r="1.2" fill="#6a6a6a" stroke="none" stroke-width="1"/>
<circle cx="53.06" cy="119.94" r="1.2" fill="#6a6a6a" stroke="none" stroke-width="1"/>
<circle cx="70.56" cy="103.18" r="1.2" fill="#6a6a6a" stroke="none" stroke-width="1"/>
<circle cx="114.50" cy="70.06" r="1.2" fill="#6a6a6a" stroke="none" stroke-width="1"/>
<circle cx="57.27" cy="112.86" r="1.2" fill="#6a6a6a" stroke="none" stroke-width="1"/>
<circle cx="102.15" cy="74.44" r="1.2" fill="#6a6a6a" stroke="none" stroke-width="1"/>
<circle cx="117.95" cy="80.53" r="1.2" fill="#6a6a6a" stroke="none" stroke-width="1"/>
<circle cx="86.07" cy="86.46" r="1.2" fill="#6a6a6a" stroke="none" stroke-width="1"/>
<circle cx="121.19" cy="53.64" r="1.2" fill="#6a6a6a" stroke="none" stroke-width="1"/>
<circle cx="113.53" cy="53.75" r="1.2" fill="#6a6a6a" stroke="none" stroke-width="1"/>
<circle cx="77.49" cy="102.15" r="1.2" fill="#6a6a6a" stroke="none" stroke-width="1"/>
<circle cx="99.89" cy="81.62" r="1.2" fill="#6a6a6a" stroke="none" stroke-width="1"/>
<circle cx="72.61" cy="96.91" r="1.2" fill="#6a6a6a" stroke="none" stroke-width="1"/>
<circle cx="79.72" cy="100.82" r="1.2" fill="#6a6a6a" stroke="none" stroke-width="1"/>
<circle cx="95.42" cy="79.33" r="1.2" fill="#6a6a6a" stroke="none" stroke-width="1"/>
<circle cx="64.43" cy="99.55" r="1.2" fill="#6a6a6a" stroke="none" stroke-width="1"/>
<circle cx="61.41" cy="109.21" r="1.2" fill="#6a6a6a" stroke="none" stroke-width="1"/>
<circle cx="57.45" cy="119.28" r="1.2" fill="#6a6a6a" stroke="none" stroke-width="1"/>
<circle cx="86.21" cy="87.98" r="1.2" fill="#6a6a6a" stroke="none" stroke-width="1"/>
<circle cx="46.80" cy="124.34" r="1.2" fill="#6a6a6a" stroke="none" stroke-width="1"/>
<circle cx="74.93" cy="95.04" r="1.2" fill="#6a6a6a" stroke="none" stroke-width="1"/>
<circle cx="58.14" cy="105.12" r="1.2" fill="#6a6a6a" stroke="none" stroke-width="1"/>
<circle cx="79.16" cy="89.95" r="1.2" fill="#6a6a6a" stroke="none" stroke-width="1"/>
<circle cx="91.05" cy="79.52" r="1.2" fill="#6a6a6a" stroke="none" stroke-width="1"/>
<circle cx="45.83" cy="125.17" r="1.2" fill="#6a6a6a" stroke="none" stroke-width="1"/>
<circle cx="59.21" cy="111.51" r="1.2" fill="#6a6a6a" stroke="none" stroke-width="1"/>
<circle cx="54.39" cy="121.60" r="1.2" fill="#6a6a6a" stroke="none" stroke-width="1"/>
<circle cx="50.81" cy="120.17" r="1.2" fill="#6a6a6a" stroke="none" stroke-width="1"/>
<circle cx="73.35" cy="106.24" r="1.2" fill="#6a6a6a" stroke="none" stroke-width="1"/>
<circle cx="47.91" cy="122.26" r="1.2" fill="#6a6a6a" stroke="none" stroke-width="1"/>
<circle cx="73.53" cy="96.24" r="1.2" fill="#6a6a6a" stroke="none" stroke-width="1"/>
<circle cx="87.12" cy="84.94" r="1.2" fill="#6a6a6a" stroke="none" stroke-width="1"/>
<circle cx="77.80" cy="102.40" r="1.2" fill="#6a6a6a" stroke="none" stroke-width="1"/>
<circle cx="53.71" cy="114.30" r="1.2" fill="#6a6a6a" stroke="none" stroke-width="1"/>
<circle cx="86.92" cy="81.29" r="1.2" fill="#6a6a6a" stroke="none" stroke-width="1"/>
<circle cx="73.35" cy="101.44" r="1.2" fill="#6a6a6a" stroke="none" stroke-width="1"/>
<circle cx="122.21" cy="47.23" r="1.2" fill="#6a6a6a" stroke="none" stroke-width="1"/>
<circle cx="76.48" cy="113.72" r="1.2" fill="#6a6a6a" stroke="none" stroke-width="1"/>
<circle cx="79.76" cy="92.72" r="1.2" fill="#6a6a6a" stroke="none" stroke-width="1"/>
<circle cx="104.84" cy="70.93" r="1.2" fill="#6a6a6a" stroke="none" stroke-width="1"/>
<circle cx="49.44" cy="121.69" r="1.2" fill="#6a6a6a" stroke="none" stroke-width="1"/>
<circle cx="82.04" cy="85.26" r="1.2" fill="#6a6a6a" stroke="none" stroke-width="1"/>
<circle cx="96.00" cy="75.52" r="1.2" fill="#6a6a6a" stroke="none" stroke-width="1"/>
<circle cx="93.35" cy="64.53" r="1.2" fill="#6a6a6a" stroke="none" stroke-width="1"/>
<circle cx="52.92" cy="115.56" r="1.2" fill="#6a6a6a" stroke="none" stroke-width="1"/>
<circle cx="109.85" cy="69.09" r="1.2" fill="#6a6a6a" stroke="none" stroke-width="1"/>
<circle cx="121.02" cy="63.64" r="1.2" fill="#6a6a6a" stroke="none" stroke-width="1"/>
<circle cx="69.69" cy="102.28" r="1.2" fill="#6a6a6a" stroke="none" stroke-width="1"/>
<circle cx="60.63" cy="114.93" r="1.2" fill="#6a6a6a" stroke="none" stroke-width="1"/>
<circle cx="66.96" cy="103.42" r="1.2" fill="#6a6a6a" stroke="none" stroke-width="1"/>
<circle cx="92.67" cy="86.34" r="1.2" fill="#6a6a6a" stroke="none" stroke-width="1"/>
<circle cx="87.45" cy="79.68" r="1.2" fill="#6a6a6a" stroke="none" stroke-width="1"/>
<circle cx="58.38" cy="111.01" r="1.2" fill="#6a6a6a" stroke="none" stroke-width="1"/>
<circle cx="72.81" cy="96.44" r="1.2" fill="#6a6a6a" stroke="none" stroke-width="1"/>
<circle cx="58.19" cy="117.18" r="1.2" fill="#6a6a6a" stroke="none" stroke-width="1"/>
<circle cx="64.16" cy="103.96" r="1.2" fill="#6a6a6a" stroke="none" stroke-width="1"/>
<circle cx="103.48" cy="78.51" r="1.2" fill="#6a6a6a" stroke="none" stroke-width="1"/>
<circle cx="75.36" cy="95.23" r="1.2" fill="#6a6a6a" stroke="none" stroke-width="1"/>
<circle cx="75.27" cy="90.04" r="1.2" fill="#6a6a6a" stroke="none" stroke-width="1"/>
<circle cx="70.12" cy="96.30" r="1.2" fill="#6a6a6a" stroke="none" stroke-width="1"/>
<circle cx="68.93" cy="101.38" r="1.2" fill="#6a6a6a" stroke="none" stroke-width="1"/>
<circle cx="72.95" cy="97.37" r="1.2" fill="#6a6a6a" stroke="none" stroke-width="1"/>
<circle cx="71.26" cy="98.33" r="1.2" fill="#6a6a6a" stroke="none" stroke-width="1"/>
<circle cx="58.16" cy="117.37" r="1.2" fill="#6a6a6a" stroke="none" stroke-width="1"/>
<circle cx="55.07" cy="117.55" r="1.2" fill="#6a6a6a" stroke="none" stroke-width="1"/>
<circle cx="62.03" cy="108.79" r="1.2" fill="#6a6a6a" stroke="none" stroke-width="1"/>
<circle cx="86.58" cy="76.12" r="1.2" fill="#6a6a6a" stroke="none" stroke-width="1"/>
<circle cx="65.71" cy="101.68" r="1.2" fill="#6a6a6a" stroke="none" stroke-width="1"/>
<circle cx="57.15" cy="111.51" r="1.2" fill="#6a6a6a" stroke="none" stroke-width="1"/>
<circle cx="103.49" cy="71.69" r="1.2" fill="#6a6a6a" stroke="none" stroke-width="1"/>
<circle cx="57.41" cy="116.98" r="1.2" fill="#6a6a6a" stroke="none" stroke-width="1"/>
<circle cx="75.48" cy="89.95" r="1.2" fill="#6a6a6a" stroke="none" stroke-width="1"/>
<circle cx="97.78" cy="64.76" r="1.2" fill="#6a6a6a" stroke="none" stroke-width="1"/>
<circle cx="97.78" cy="81.58" r="1.2" fill="#6a6a6a" stroke="none" stroke-width="1"/>
<circle cx="83.16" cy="91.07" r="1.2" fill="#6a6a6a" stroke="none" stroke-width="1"/>
<circle cx="48.69" cy="122.72" r="1.2" fill="#6a6a6a" stroke="none" stroke-width="1"/>
<circle cx="54.68" cy="118.28" r="1.2" fill="#6a6a6a" stroke="none" stroke-width="1"/>
<circle cx="102.30" cy="66.99" r="1.2" fill="#6a6a6a" stroke="none" stroke-width="1"/>
<circle cx="67.50" cy="99.00" r="1.2" fill="#6a6a6a" stroke="none" stroke-width="1"/>
<circle cx="61.12" cy="110.87" r="1.2" fill="#6a6a6a" stroke="none" stroke-width="1"/>
<circle cx="45.85" cy="125.33" r="1.2" fill="#6a6a6a" stroke="none" stroke-width="1"/>
<circle cx="50.10" cy="119.55" r="1.2" fill="#6a6a6a" stroke="none" stroke-width="1"/>
<circle cx="103.35" cy="63.81" r="1.2" fill="#6a6a6a" stroke="none" stroke-width="1"/>
<circle cx="75.94" cy="89.74" r="1.2" fill="#6a6a6a" stroke="none" stroke-width="1"/>
<circle cx="50.35" cy="120.30" r="1.2" fill="#6a6a6a" stroke="none" stroke-width="1"/>
<circle cx="62.09" cy="106.23" r="1.2" fill="#6a6a6a" stroke="none" stroke-width="1"/>
<circle cx="46.63" cy="124.49" r="1.2" fill="#6a6a6a" stroke="none" stroke-width="1"/>
<circle cx="82.93" cy="89.98" r="1.2" fill="#6a6a6a" stroke="none" stroke-width="1"/>
<circle cx="71.13" cy="102.97" r="1.2" fill="#6a6a6a" stroke="none" stroke-width="1"/>
<circle cx="67.79" cy="107.35" r="1.2" fill="#6a6a6a" stroke="none" stroke-width="1"/>
<circle cx="61.53" cy="112.89" r="1.2" fill="#6a6a6a" stroke="none" stroke-width="1"/>
<circle cx="63.05" cy="104.29" r="1.2" fill="#6a6a6a" stroke="none" stroke-width="1"/>
<circle cx="75.32" cy="94.32" r="1.2" fill="#6a6a6a" stroke="none" stroke-width="1"/>
<circle cx="86.32" cy="86.34" r="1.2" fill="#6a6a6a" stroke="none" stroke-width="1"/>
<circle cx="84.41" cy="95.62" r="1.2" fill="#6a6a6a" stroke="none" stroke-width="1"/>
<circle cx="72.70" cy="96.09" r="1.2" fill="#6a6a6a" stroke="none" stroke-width="1"/>
<circle cx="87.38" cy="81.21" r="1.2" fill="#6a6a6a" stroke="none" stroke-width="1"/>
<circle cx="69.27" cy="103.73" r="1.2" fill="#6a6a6a" stroke="none" stroke-width="1"/>
<circle cx="85.51" cy="92.63" r="1.2" fill="#6a6a6a" stroke="none" stroke-width="1"/>
<circle cx="82.04" cy="89.41" r="1.2" fill="#6a6a6a" stroke="none" stroke-width="1"/>
<circle cx="99.49" cy="70.82" r="1.2" fill="#6a6a6a" stroke="none" stroke-width="1"/>
<circle cx="52.04" cy="117.82" r="1.2" fill="#6a6a6a" stroke="none" stroke-width="1"/>
<circle cx="72.88" cy="109.19" r="1.2" fill="#6a6a6a" stroke="none" stroke-width="1"/>
<circle cx="60.37" cy="106.81" r="1.2" fill="#6a6a6a" stroke="none" stroke-width="1"/>
<circle cx="49.71" cy="124.04" r="1.2" fill="#6a6a6a" stroke="none" stroke-width="1"/>
<circle cx="45.08" cy="127.30" r="1.2" fill="#6a6a6a" stroke="none" stroke-width="1"/>
<circle cx="95.60" cy="79.15" r="1.2" fill="#6a6a6a" stroke="none" stroke-width="1"/>
<circle cx="50.47" cy="116.85" r="1.2" fill="#6a6a6a" stroke="none" stroke-width="1"/>
<circle cx="71.46" cy="101.23" r="1.2" fill="#6a6a6a" stroke="none" stroke-width="1"/>
<circle cx="80.52" cy="94.99" r="1.2" fill="#6a6a6a" stroke="none" stroke-width="1"/>
<circle cx="83.16" cy="85.66" r="1.2" fill="#6a6a6a" stroke="none" stroke-width="1"/>
<circle cx="52.06" cy="118.54" r="1.2" fill="#6a6a6a" stroke="none" stroke-width="1"/>
<circle cx="58.78" cy="114.15" r="1.2" fill="#6a6a6a" stroke="none" stroke-width="1"/>
<circle cx="43.20" cy="125.34" r="1.2" fill="#6a6a6a" stroke="none" stroke-width="1"/>
<circle cx="83.56" cy="87.43" r="1.2" fill="#6a6a6a" stroke="none" stroke-width="1"/>
<circle cx="67.67" cy="102.39" r="1.2" fill="#6a6a6a" stroke="none" stroke-width="1"/>
<circle cx="67.26" cy="109.30" r="1.2" fill="#6a6a6a" stroke="none" stroke-width="1"/>
<circle cx="69.72" cy="95.89" r="1.2" fill="#6a6a6a" stroke="none" stroke-width="1"/>
<circle cx="53.41" cy="119.09" r="1.2" fill="#6a6a6a" stroke="none" stroke-width="1"/>
<circle cx="118.16" cy="64.91" r="1.2" fill="#6a6a6a" stroke="none" stroke-width="1"/>
<circle cx="62.59" cy="106.65" r="1.2" fill="#6a6a6a" stroke="none" stroke-width="1"/>
<circle cx="86.56" cy="83.18" r="1.2" fill="#6a6a6a" stroke="none" stroke-width="1"/>
<circle cx="48.86" cy="124.15" r="1.2" fill="#6a6a6a" stroke="none" stroke-width="1"/>
<circle cx="86.90" cy="75.72" r="1.2" fill="#6a6a6a" stroke="none" stroke-width="1"/>
<circle cx="70.41" cy="107.07" r="1.2" fill="#6a6a6a" stroke="none" stroke-width="1"/>
<circle cx="66.06" cy="103.36" r="1.2" fill="#6a6a6a" stroke="none" stroke-width="1"/>
<circle cx="54.56" cy="116.06" r="1.2" fill="#6a6a6a" stroke="none" stroke-width="1"/>
<circle cx="71.31" cy="97.49" r="1.2" fill="#6a6a6a" stroke="none" stroke-width="1"/>
<circle cx="93.22" cy="84.18" r="1.2" fill="#6a6a6a" stroke="none" stroke-width="1"/>
<circle cx="100.19" cy="84.97" r="1.2" fill="#6a6a6a" stroke="none" stroke-width="1"/>
<circle cx="104.40" cy="70.46" r="1.2" fill="#6a6a6a" stroke="none" stroke-width="1"/>
<circle cx="64.82" cy="96.72" r="1.2" fill="#6a6a6a" stroke="none" stroke-width="1"/>
<circle cx="75.01" cy="100.33" r="1.2" fill="#6a6a6a" stroke="none" stroke-width="1"/>
<circle cx="79.66" cy="92.38" r="1.2" fill="#6a6a6a" stroke="none" stroke-width="1"/>
<circle cx="59.62" cy="111.57" r="1.2" fill="#6a6a6a" stroke="none" stroke-width="1"/>
<circle cx="56.58" cy="111.91" r="1.2" fill="#6a6a6a" stroke="none" stroke-width="1"/>
<circle cx="52.63" cy="117.99" r="1.2" fill="#6a6a6a" stroke="none" stroke-width="1"/>
<circle cx="62.39" cy="110.75" r="1.2" fill="#6a6a6a" stroke="none" stroke-width="1"/>
<circle cx="93.52" cy="82.07" r="1.2" fill="#6a6a6a" stroke="none" stroke-width="1"/>
<circle cx="53.64" cy="118.42" r="1.2" fill="#6a6a6a" stroke="none" stroke-width="1"/>
<circle cx="61.34" cy="114.19" r="1.2" fill="#6a6a6a" stroke="none" stroke-width="1"/>
<circle cx="93.15" cy="78.74" r="1.2" fill="#6a6a6a" stroke="none" stroke-width="1"/>
<circle cx="67.63" cy="104.43" r="1.2" fill="#6a6a6a" stroke="none" stroke-width="1"/>
<circle cx="59.39" cy="108.36" r="1.2" fill="#6a6a6a" stroke="none" stroke-width="1"/>
<circle cx="52.77" cy="117.20" r="1.2" fill="#6a6a6a" stroke="none" stroke-width="1"/>
<circle cx="79.24" cy="90.70" r="1.2" fill="#6a6a6a" stroke="none" stroke-width="1"/>
<circle cx="65.84" cy="104.01" r="1.2" fill="#6a6a6a" stroke="none" stroke-width="1"/>
<circle cx="44.49" cy="125.45" r="1.2" fill="#6a6a6a" stroke="none" stroke-width="1"/>
<circle cx="50.78" cy="121.26" r="1.2" fill="#6a6a6a" stroke="none" stroke-width="1"/>
<circle cx="48.10" cy="121.50" r="1.2" fill="#6a6a6a" stroke="none" stroke-width="1"/>
<circle cx="77.91" cy="93.71" r="1.2" fill="#6a6a6a" stroke="none" stroke-width="1"/>
<circle cx="63.97" cy="104.77" r="1.2" fill="#6a6a6a" stroke="none" stroke-width="1"/>
<circle cx="79.37" cy="95.32" r="1.2" fill="#6a6a6a" stroke="none" stroke-width="1"/>
<circle cx="52.06" cy="119.54" r="1.2" fill="#6a6a6a" stroke="none" stroke-width="1"/>
<circle cx="58.52" cy="111.59" r="1.2" fill="#6a6a6a" stroke="none" stroke-width="1"/>
<circle cx="61.96" cy="105.96" r="1.2" fill="#6a6a6a" stroke="none" stroke-width="1"/>
<circle cx="64.98" cy="108.03" r="1.2" fill="#6a6a6a" stroke="none" stroke-width="1"/>
<circle cx="64.52" cy="100.73" r="1.2" fill="#6a6a6a" stroke="none" stroke-width="1"/>
<circle cx="70.59" cy="101.31" r="1.2" fill="#6a6a6a" stroke="none" stroke-width="1"/>
<circle cx="92.72" cy="74.01" r="1.2" fill="#6a6a6a" stroke="none" stroke-width="1"/>
<circle cx="73.35" cy="90.12" r="1.2" fill="#6a6a6a" stroke="none" stroke-width="1"/>
<circle cx="68.11" cy="100.00" r="1.2" fill="#6a6a6a" stroke="none" stroke-width="1"/>
<circle cx="50.39" cy="124.19" r="1.2" fill="#6a6a6a" stroke="none" stroke-width="1"/>
<circle cx="57.04" cy="113.74" r="1.2" fill="#6a6a6a" stroke="none" stroke-width="1"/>
<circle cx="107.89" cy="51.55" r="1.2" fill="#6a6a6a" stroke="none" stroke-width="1"/>
<circle cx="48.93" cy="119.55" r="1.2" fill="#6a6a6a" stroke="none" stroke-width="1"/>
<circle cx="58.52" cy="111.17" r="1.2" fill="#6a6a6a" stroke="none" stroke-width="1"/>
<circle cx="67.29" cy="108.35" r="1.2" fill="#6a6a6a" stroke="none" stroke-width="1"/>
<circle cx="52.54" cy="112.13" r="1.2" fill="#6a6a6a" stroke="none" stroke-width="1"/>
<circle cx="52.24" cy="119.00" r="1.2" fill="#6a6a6a" stroke="none" stroke-width="1"/>
<circle cx="99.78" cy="72.26" r="1.2" fill="#6a6a6a" stroke="none" stroke-width="1"/>
<circle cx="78.39" cy="92.45" r="1.2" fill="#6a6a6a" stroke="none" stroke-width="1"/>
<circle cx="65.36" cy="102.03" r="1.2" fill="#6a6a6a" stroke="none" stroke-width="1"/>
<circle cx="57.50" cy="113.56" r="1.2" fill="#6a6a6a" stroke="none" stroke-width="1"/>
<circle cx="72.17" cy="104.63" r="1.2" fill="#6a6a6a" stroke="none" stroke-width="1"/>
<circle cx="74.70" cy="94.88" r="1.2" fill="#6a6a6a" stroke="none" stroke-width="1"/>
<circle cx="68.98" cy="97.31" r="1.2" fill="#6a6a6a" stroke="none" stroke-width="1"/>
<circle cx="108.80" cy="52.88" r="1.2" fill="#6a6a6a" stroke="none" stroke-width="1"/>
<circle cx="66.29" cy="103.48" r="1.2" fill="#6a6a6a" stroke="none" stroke-width="1"/>
<circle cx="104.32" cy="73.83" r="1.2" fill="#6a6a6a" stroke="none" stroke-width="1"/>
<circle cx="117.70" cy="58.57" r="1.2" fill="#6a6a6a" stroke="none" stroke-width="1"/>
<circle cx="51.36" cy="118.11" r="1.2" fill="#6a6a6a" stroke="none" stroke-width="1"/>
<circle cx="80.45" cy="82.96" r="1.2" fill="#6a6a6a" stroke="none" stroke-width="1"/>
<circle cx="74.73" cy="93.01" r="1.2" fill="#6a6a6a" stroke="none" stroke-width="1"/>
<circle cx="82.83" cy="95.10" r="1.2" fill="#6a6a6a" stroke="none" stroke-width="1"/>
<circle cx="60.28" cy="111.31" r="1.2" fill="#6a6a6a" stroke="none" stroke-width="1"/>
<circle cx="89.04" cy="87.92" r="1.2" fill="#6a6a6a" stroke="none" stroke-width="1"/>
<circle cx="55.52" cy="115.22" r="1.2" fill="#6a6a6a" stroke="none" stroke-width="1"/>
<circle cx="70.68" cy="95.55" r="1.2" fill="#6a6a6a" stroke="none" stroke-width="1"/>
<circle cx="102.82" cy="63.60" r="1.2" fill="#6a6a6a" stroke="none" stroke-width="1"/>
<circle cx="66.64" cy="102.78" r="1.2" fill="#6a6a6a" stroke="none" stroke-width="1"/>
<circle cx="59.19" cy="111.82" r="1.2" fill="#6a6a6a" stroke="none" stroke-width="1"/>
<circle cx="88.08" cy="78.51" r="1.2" fill="#6a6a6a" stroke="none" stroke-width="1"/>
<circle cx="49.10" cy="118.80" r="1.2" fill="#6a6a6a" stroke="none" stroke-width="1"/>
<circle cx="68.31" cy="109.87" r="1.2" fill="#6a6a6a" stroke="none" stroke-width="1"/>
<circle cx="64.23" cy="111.98" r="1.2" fill="#6a6a6a" stroke="none" stroke-width="1"/>
<circle cx="57.36" cy="115.33" r="1.2" fill="#6a6a6a" stroke="none" stroke-width="1"/>
<circle cx="59.58" cy="110.27" r="1.2" fill="#6a6a6a" stroke="none" stroke-width="1"/>
<circle cx="80.89" cy="100.72" r="1.2" fill="#6a6a6a" stroke="none" stroke-width="1"/>
<circle cx="107.78" cy="62.07" r="1.2" fill="#6a6a6a" stroke="none" stroke-width="1"/>
<circle cx="77.22" cy="95.97" r="1.2" fill="#6a6a6a" stroke="none" stroke-width="1"/>
<circle cx="102.79" cy="69.86" r="1.2" fill="#6a6a6a" stroke="none" stroke-width="1"/>
<circle cx="57.53" cy="115.76" r="1.2" fill="#6a6a6a" stroke="none" stroke-width="1"/>
<circle cx="107.02" cy="59.53" r="1.2" fill="#6a6a6a" stroke="none" stroke-width="1"/>
<circle cx="72.72" cy="103.54" r="1.2" fill="#6a6a6a" stroke="none" stroke-width="1"/>
<circle cx="48.20" cy="121.58" r="1.2" fill="#6a6a6a" stroke="none" stroke-width="1"/>
<circle cx="79.12" cy="82.06" r="1.2" fill="#6a6a6a" stroke="none" stroke-width="1"/>
<circle cx="47.68" cy="125.37" r="1.2" fill="#6a6a6a" stroke="none" stroke-width="1"/>
<circle cx="52.92" cy="114.30" r="1.2" fill="#6a6a6a" stroke="none" stroke-width="1"/>
<circle cx="74.89" cy="101.27" r="1.2" fill="#6a6a6a" stroke="none" stroke-width="1"/>
<circle cx="62.41" cy="114.14" r="1.2" fill="#6a6a6a" stroke="none" stroke-width="1"/>
<circle cx="49.96" cy="119.77" r="1.2" fill="#6a6a6a" stroke="none" stroke-width="1"/>
<circle cx="54.68" cy="116.34" r="1.2" fill="#6a6a6a" stroke="none" stroke-width="1"/>
<circle cx="67.71" cy="101.23" r="1.2" fill="#6a6a6a" stroke="none" stroke-width="1"/>
<circle cx="119.75" cy="71.06" r="1.2" fill="#6a6a6a" stroke="none" stroke-width="1"/>
<circle cx="75.68" cy="97.58" r="1.2" fill="#6a6a6a" stroke="none" stroke-width="1"/>
<circle cx="76.78" cy="94.69" r="1.2" fill="#6a6a6a" stroke="none" stroke-width="1"/>
<circle cx="80.28" cy="96.37" r="1.2" fill="#6a6a6a" stroke="none" stroke-width="1"/>
<circle cx="60.87" cy="109.60" r="1.2" fill="#6a6a6a" stroke="none" stroke-width="1"/>
<circle cx="71.10" cy="98.81" r="1.2" fill="#6a6a6a" stroke="none" stroke-width="1"/>
<circle cx="66.63" cy="102.36" r="1.2" fill="#6a6a6a" stroke="none" stroke-width="1"/>
<circle cx="90.78" cy="87.81" r="1.2" fill="#6a6a6a" stroke="none" stroke-width="1"/>
<circle cx="97.47" cy="70.99" r="1.2" fill="#6a6a6a" stroke="none" stroke-width="1"/>
<circle cx="67.84" cy="105.24" r="1.2" fill="#6a6a6a" stroke="none" stroke-width="1"/>
<circle cx="61.96" cy="109.12" r="1.2" fill="#6a6a6a" stroke="none" stroke-width="1"/>
<circle cx="81.64" cy="93.03" r="1.2" fill="#6a6a6a" stroke="none" stroke-width="1"/>
<circle cx="46.78" cy="126.00" r="1.2" fill="#6a6a6a" stroke="none" stroke-width="1"/>
<circle cx="80.45" cy="75.99" r="1.2" fill="#6a6a6a" stroke="none" stroke-width="1"/>
<circle cx="45.10" cy="124.82" r="1.2" fill="#6a6a6a" stroke="none" stroke-width="1"/>
<circle cx="73.95" cy="100.51" r="1.2" fill="#6a6a6a" stroke="none" stroke-width="1"/>
<circle cx="58.51" cy="117.98" r="1.2" fill="#6a6a6a" stroke="none" stroke-width="1"/>
<circle cx="60.18" cy="108.42" r="1.2" fill="#6a6a6a" stroke="none" stroke-width="1"/>
<circle cx="68.85" cy="108.53" r="1.2" fill="#6a6a6a" stroke="none" stroke-width="1"/>
<circle cx="71.60" cy="100.66" r="1.2" fill="#6a6a6a" stroke="none" stroke-width="1"/>
<circle cx="58.56" cy="115.80" r="1.2" fill="#6a6a6a" stroke="none" stroke-width="1"/>
<circle cx="66.15" cy="105.98" r="1.2" fill="#6a6a6a" stroke="none" stroke-width="1"/>
<circle cx="70.73" cy="108.19" r="1.2" fill="#6a6a6a" stroke="none" stroke-width="1"/>
<circle cx="60.47" cy="103.47" r="1.2" fill="#6a6a6a" stroke="none" stroke-width="1"/>
<circle cx="85.43" cy="80.18" r="1.2" fill="#6a6a6a" stroke="none" stroke-width="1"/>
<circle cx="66.12" cy="104.57" r="1.2" fill="#6a6a6a" stroke="none" stroke-width="1"/>
<circle cx="61.23" cy="114.15" r="1.2" fill="#6a6a6a" stroke="none" stroke-width="1"/>
<circle cx="51.04" cy="118.35" r="1.2" fill="#6a6a6a" stroke="none" stroke-width="1"/>
<circle cx="68.99" cy="102.91" r="1.2" fill="#6a6a6a" stroke="none" stroke-width="1"/>
<circle cx="55.81" cy="114.00" r="1.2" fill="#6a6a6a" stroke="none" stroke-width="1"/>
<circle cx="71.13" cy="104.91" r="1.2" fill="#6a6a6a" stroke="none" stroke-width="1"/>
<circle cx="49.12" cy="118.18" r="1.2" fill="#6a6a6a" stroke="none" stroke-width="1"/>
<circle cx="61.18" cy="104.73" r="1.2" fill="#6a6a6a" stroke="none" stroke-width="1"/>
<circle cx="45.15" cy="123.15" r="1.2" fill="#6a6a6a" stroke="none" stroke-width="1"/>
<circle cx="108.97" cy="81.52" r="1.2" fill="#6a6a6a" stroke="none" stroke-width="1"/>
<circle cx="51.00" cy="117.99" r="1.2" fill="#6a6a6a" stroke="none" stroke-width="1"/>
<circle cx="64.69" cy="111.80" r="1.2" fill="#6a6a6a" stroke="none" stroke-width="1"/>
<circle cx="92.77" cy="76.62" r="1.2" fill="#6a6a6a" stroke="none" stroke-width="1"/>
<circle cx="49.94" cy="122.69" r="1.2" fill="#6a6a6a" stroke="none" stroke-width="1"/>
<circle cx="66.18" cy="107.21" r="1.2" fill="#6a6a6a" stroke="none" stroke-width="1"/>
<circle cx="70.39" cy="103.83" r="1.2" fill="#6a6a6a" stroke="none" stroke-width="1"/>
<circle cx="73.50" cy="100.57" r="1.2" fill="#6a6a6a" stroke="none" stroke-width="1"/>
<circle cx="100.81" cy="59.98" r="1.2" fill="#6a6a6a" stroke="none" stroke-width="1"/>
<circle cx="90.73" cy="80.00" r="1.2" fill="#6a6a6a" stroke="none" stroke-width="1"/>
<circle cx="82.09" cy="82.56" r="1.2" fill="#6a6a6a" stroke="none" stroke-width="1"/>
<circle cx="75.65" cy="92.51" r="1.2" fill="#6a6a6a" stroke="none" stroke-width="1"/>
<circle cx="56.12" cy="118.68" r="1.2" fill="#6a6a6a" stroke="none" stroke-width="1"/>
<circle cx="54.37" cy="117.83" r="1.2" fill="#6a6a6a" stroke="none" stroke-width="1"/>
<circle cx="75.86" cy="85.05" r="1.2" fill="#6a6a6a" stroke="none" stroke-width="1"/>
<circle cx="80.98" cy="95.36" r="1.2" fill="#6a6a6a" stroke="none" stroke-width="1"/>
<circle cx="77.60" cy="91.90" r="1.2" fill="#6a6a6a" stroke="none" stroke-width="1"/>
<circle cx="93.38" cy="73.89" r="1.2" fill="#6a6a6a" stroke="none" stroke-width="1"/>
<circle cx="46.46" cy="123.96" r="1.2" fill="#6a6a6a" stroke="none" stroke-width="1"/>
<circle cx="69.13" cy="110.20" r="1.2" fill="#6a6a6a" stroke="none" stroke-width="1"/>
<circle cx="84.17" cy="76.33" r="1.2" fill="#6a6a6a" stroke="none" stroke-width="1"/>
<circle cx="52.82" cy="116.69" r="1.2" fill="#6a6a6a" stroke="none" stroke-width="1"/>
<circle cx="62.71" cy="108.86" r="1.2" fill="#6a6a6a" stroke="none" stroke-width="1"/>
<circle cx="56.54" cy="118.35" r="1.2" fill="#6a6a6a" stroke="none" stroke-width="1"/>
<circle cx="87.75" cy="87.53" r="1.2" fill="#6a6a6a" stroke="none" stroke-width="1"/>
<circle cx="70.09" cy="97.06" r="1.2" fill="#6a6a6a" stroke="none" stroke-width="1"/>
<circle cx="59.88" cy="106.79" r="1.2" fill="#6a6a6a" stroke="none" stroke-width="1"/>
<circle cx="61.16" cy="104.33" r="1.2" fill="#6a6a6a" stroke="none" stroke-width="1"/>
<circle cx="65.57" cy="108.05" r="1.2" fill="#6a6a6a" stroke="none" stroke-width="1"/>
<circle cx="44.31" cy="125.23" r="1.2" fill="#6a6a6a" stroke="none" stroke-width="1"/>
<circle cx="84.92" cy="79.99" r="1.2" fill="#6a6a6a" stroke="none" stroke-width="1"/>
<circle cx="105.70" cy="67.81" r="1.2" fill="#6a6a6a" stroke="none" stroke-width="1"/>
<circle cx="105.94" cy="68.95" r="1.2" fill="#6a6a6a" stroke="none" stroke-width="1"/>
<circle cx="45.09" cy="122.48" r="1.2" fill="#6a6a6a" stroke="none" stroke-width="1"/>
<circle cx="117.74" cy="57.16" r="1.2" fill="#6a6a6a" stroke="none" stroke-width="1"/>
<circle cx="45.90" cy="119.74" r="1.2" fill="#6a6a6a" stroke="none" stroke-width="1"/>
<circle cx="79.71" cy="90.03" r="1.2" fill="#6a6a6a" stroke="none" stroke-width="1"/>
<circle cx="85.00" cy="79.24" r="1.2" fill="#6a6a6a" stroke="none" stroke-width="1"/>
<circle cx="66.97" cy="102.63" r="1.2" fill="#6a6a6a" stroke="none" stroke-width="1"/>
<circle cx="78.50" cy="91.12" r="1.2" fill="#6a6a6a" stroke="none" stroke-width="1"/>
<circle cx="63.54" cy="108.79" r="1.2" fill="#6a6a6a" stroke="none" stroke-width="1"/>
<circle cx="65.04" cy="108.00" r="1.2" fill="#6a6a6a" stroke="none" stroke-width="1"/>
<circle cx="114.74" cy="73.89" r="1.2" fill="#6a6a6a" stroke="none" stroke-width="1"/>
<circle cx="113.46" cy="77.29" r="1.2" fill="#6a6a6a" stroke="none" stroke-width="1"/>
<circle cx="105.87" cy="63.23" r="1.2" fill="#6a6a6a" stroke="none" stroke-width="1"/>
<circle cx="57.82" cy="115.59" r="1.2" fill="#6a6a6a" stroke="none" stroke-width="1"/>
<circle cx="72.13" cy="98.97" r="1.2" fill="#6a6a6a" stroke="none" stroke-width="1"/>
<circle cx="47.87" cy="120.19" r="1.2" fill="#6a6a6a" stroke="none" stroke-width="1"/>
<circle cx="58.51" cy="116.89" r="1.2" fill="#6a6a6a" stroke="none" stroke-width="1"/>
<circle cx="81.75" cy="95.57" r="1.2" fill="#6a6a6a" stroke="none" stroke-width="1"/>
<circle cx="89.15" cy="89.23" r="1.2" fill="#6a6a6a" stroke="none" stroke-width="1"/>
<circle cx="82.86" cy="87.78" r="1.2" fill="#6a6a6a" stroke="none" stroke-width="1"/>
<circle cx="51.42" cy="118.77" r="1.2" fill="#6a6a6a" stroke="none" stroke-width="1"/>
<circle cx="53.38" cy="109.14" r="1.2" fill="#6a6a6a" stroke="none" stroke-width="1"/>
<circle cx="52.81" cy="113.43" r="1.2" fill="#6a6a6a" stroke="none" stroke-width="1"/>
<circle cx="99.81" cy="73.62" r="1.2" fill="#6a6a6a" stroke="none" stroke-width="1"/>
<circle cx="58.63" cy="110.44" r="1.2" fill="#6a6a6a" stroke="none" stroke-width="1"/>
<circle cx="85.33" cy="87.43" r="1.2" fill="#6a6a6a" stroke="none" stroke-width="1"/>
<circle cx="72.49" cy="98.32" r="1.2" fill="#6a6a6a" stroke="none" stroke-width="1"/>
<circle cx="77.68" cy="91.43" r="1.2" fill="#6a6a6a" stroke="none" stroke-width="1"/>
<circle cx="51.71" cy="117.97" r="1.2" fill="#6a6a6a" stroke="none" stroke-width="1"/>
<circle cx="78.00" cy="95.84" r="1.2" fill="#6a6a6a" stroke="none" stroke-width="1"/>
<circle cx="74.26" cy="109.84" r="1.2" fill="#6a6a6a" stroke="none" stroke-width="1"/>
<circle cx="66.90" cy="105.04" r="1.2" fill="#6a6a6a" stroke="none" stroke-width="1"/>
<circle cx="79.43" cy="91.55" r="1.2" fill="#6a6a6a" stroke="none" stroke-width="1"/>
<circle cx="58.10" cy="106.06" r="1.2" fill="#6a6a6a" stroke="none" stroke-width="1"/>
<circle cx="94.93" cy="76.12" r="1.2" fill="#6a6a6a" stroke="none" stroke-width="1"/>
<circle cx="58.49" cy="113.13" r="1.2" fill="#6a6a6a" stroke="none" stroke-width="1"/>
<circle cx="81.85" cy="77.88" r="1.2" fill="#6a6a6a" stroke="none" stroke-width="1"/>
<circle cx="50.72" cy="120.20" r="1.2" fill="#6a6a6a" stroke="none" stroke-width="1"/>
<circle cx="49.79" cy="118.45" r="1.2" fill="#6a6a6a" stroke="none" stroke-width="1"/>
<circle cx="107.42" cy="63.37" r="1.2" fill="#6a6a6a" stroke="none" stroke-width="1"/>
<circle cx="66.43" cy="98.77" r="1.2" fill="#6a6a6a" stroke="none" stroke-width="1"/>
<circle cx="58.92" cy="113.93" r="1.2" fill="#6a6a6a" stroke="none" stroke-width="1"/>
<circle cx="49.86" cy="114.11" r="1.2" fill="#6a6a6a" stroke="none" stroke-width="1"/>
<circle cx="100.25" cy="62.86" r="1.2" fill="#6a6a6a" stroke="none" stroke-width="1"/>
<circle cx="66.23" cy="108.07" r="1.2" fill="#6a6a6a" stroke="none" stroke-width="1"/>
<circle cx="91.14" cy="88.82" r="1.2" fill="#6a6a6a" stroke="none" stroke-width="1"/>
<circle cx="68.74" cy="103.23" r="1.2" fill="#6a6a6a" stroke="none" stroke-width="1"/>
<circle cx="55.12" cy="117.98" r="1.2" fill="#6a6a6a" stroke="none" stroke-width="1"/>
<circle cx="103.52" cy="87.01" r="1.2" fill="#6a6a6a" stroke="none" stroke-width="1"/>
<circle cx="60.70" cy="110.77" r="1.2" fill="#6a6a6a" stroke="none" stroke-width="1"/>
<circle cx="77.59" cy="96.06" r="1.2" fill="#6a6a6a" stroke="none" stroke-width="1"/>
<circle cx="49.40" cy="121.17" r="1.2" fill="#6a6a6a" stroke="none" stroke-width="1"/>
<circle cx="58.51" cy="108.60" r="1.2" fill="#6a6a6a" stroke="none" stroke-width="1"/>
<circle cx="113.53" cy="54.93" r="1.2" fill="#6a6a6a" stroke="none" stroke-width="1"/>
<circle cx="50.31" cy="121.32" r="1.2" fill="#6a6a6a" stroke="none" stroke-width="1"/>
<circle cx="58.86" cy="111.45" r="1.2" fill="#6a6a6a" stroke="none" stroke-width="1"/>
<circle cx="62.83" cy="104.99" r="1.2" fill="#6a6a6a" stroke="none" stroke-width="1"/>
<circle cx="52.11" cy="120.22" r="1.2" fill="#6a6a6a" stroke="none" stroke-width="1"/>
<circle cx="45.98" cy="122.93" r="1.2" fill="#6a6a6a" stroke="none" stroke-width="1"/>
<circle cx="69.78" cy="101.00" r="1.2" fill="#6a6a6a" stroke="none" stroke-width="1"/>
<circle cx="56.19" cy="112.14" r="1.2" fill="#6a6a6a" stroke="none" stroke-width="1"/>
<circle cx="67.69" cy="107.33" r="1.2" fill="#6a6a6a" stroke="none" stroke-width="1"/>
<circle cx="72.69" cy="101.64" r="1.2" fill="#6a6a6a" stroke="none" stroke-width="1"/>
<circle cx="73.39" cy="99.88" r="1.2" fill="#6a6a6a" stroke="none" stroke-width="1"/>
<circle cx="51.02" cy="119.07" r="1.2" fill="#6a6a6a" stroke="none" stroke-width="1"/>
<circle cx="72.44" cy="101.53" r="1.2" fill="#6a6a6a" stroke="none" stroke-width="1"/>
<circle cx="72.58" cy="98.95" r="1.2" fill="#6a6a6a" stroke="none" stroke-width="1"/>
<circle cx="67.85" cy="103.64" r="1.2" fill="#6a6a6a" stroke="none" stroke-width="1"/>
<circle cx="94.92" cy="86.01" r="1.2" fill="#6a6a6a" stroke="none" stroke-width="1"/>
<circle cx="59.61" cy="116.66" r="1.2" fill="#6a6a6a" stroke="none" stroke-width="1"/>
<circle cx="54.07" cy="117.54" r="1.2" fill="#6a6a6a" stroke="none" stroke-width="1"/>
<circle cx="66.03" cy="104.49" r="1.2" fill="#6a6a6a" stroke="none" stroke-width="1"/>
<circle cx="70.89" cy="99.63" r="1.2" fill="#6a6a6a" stroke="none" stroke-width="1"/>
<circle cx="99.58" cy="87.03" r="1.2" fill="#6a6a6a" stroke="none" stroke-width="1"/>
<circle cx="84.59" cy="81.67" r="1.2" fill="#6a6a6a" stroke="none" stroke-width="1"/>
<circle cx="88.76" cy="78.09" r="1.2" fill="#6a6a6a" stroke="none" stroke-width="1"/>
<circle cx="84.62" cy="87.13" r="1.2" fill="#6a6a6a" stroke="none" stroke-width="1"/>
<circle cx="84.23" cy="87.35" r="1.2" fill="#6a6a6a" stroke="none" stroke-width="1"/>
<circle cx="112.74" cy="60.76" r="1.2" fill="#6a6a6a" stroke="none" stroke-width="1"/>
<circle cx="84.02" cy="87.62" r="1.2" fill="#6a6a6a" stroke="none" stroke-width="1"/>
<circle cx="62.17" cy="107.81" r="1.2" fill="#6a6a6a" stroke="none" stroke-width="1"/>
<circle cx="69.32" cy="108.55" r="1.2" fill="#6a6a6a" stroke="none" stroke-width="1"/>
<circle cx="64.14" cy="103.97" r="1.2" fill="#6a6a6a" stroke="none" stroke-width="1"/>
<circle cx="49.28" cy="121.56" r="1.2" fill="#6a6a6a" stroke="none" stroke-width="1"/>
<circle cx="56.12" cy="115.75" r="1.2" fill="#6a6a6a" stroke="none" stroke-width="1"/>
<circle cx="66.85" cy="107.64" r="1.2" fill="#6a6a6a" stroke="none" stroke-width="1"/>
<circle cx="62.11" cy="110.97" r="1.2" fill="#6a6a6a" stroke="none" stroke-width="1"/>
<circle cx="65.95" cy="107.25" r="1.2" fill="#6a6a6a" stroke="none" stroke-width="1"/>
<circle cx="72.06" cy="93.38" r="1.2" fill="#6a6a6a" stroke="none" stroke-width="1"/>
<circle cx="54.03" cy="118.31" r="1.2" fill="#6a6a6a" stroke="none" stroke-width="1"/>
<circle cx="104.46" cy="60.97" r="1.2" fill="#6a6a6a" stroke="none" stroke-width="1"/>
<circle cx="87.14" cy="96.37" r="1.2" fill="#6a6a6a" stroke="none" stroke-width="1"/>
<circle cx="74.07" cy="92.31" r="1.2" fill="#6a6a6a" stroke="none" stroke-width="1"/>
<circle cx="96.09" cy="60.65" r="1.2" fill="#6a6a6a" stroke="none" stroke-width="1"/>
<circle cx="102.46" cy="74.05" r="1.2" fill="#6a6a6a" stroke="none" stroke-width="1"/>
<circle cx="57.53" cy="111.48" r="1.2" fill="#6a6a6a" stroke="none" stroke-width="1"/>
<circle cx="69.10" cy="100.09" r="1.2" fill="#6a6a6a" stroke="none" stroke-width="1"/>
<circle cx="48.35" cy="123.53" r="1.2" fill="#6a6a6a" stroke="none" stroke-width="1"/>
<circle cx="99.72" cy="77.28" r="1.2" fill="#6a6a6a" stroke="none" stroke-width="1"/>
<circle cx="55.54" cy="110.26" r="1.2" fill="#6a6a6a" stroke="none" stroke-width="1"/>
<circle cx="49.36" cy="121.94" r="1.2" fill="#6a6a6a" stroke="none" stroke-width="1"/>
<circle cx="43.68" cy="121.90" r="1.2" fill="#6a6a6a" stroke="none" stroke-width="1"/>
<circle cx="68.30" cy="99.49" r="1.2" fill="#6a6a6a" stroke="none" stroke-width="1"/>
<circle cx="67.73" cy="100.55" r="1.2" fill="#6a6a6a" stroke="none" stroke-width="1"/>
<circle cx="92.58" cy="65.95" r="1.2" fill="#6a6a6a" stroke="none" stroke-width="1"/>
<circle cx="51.67" cy="117.39" r="1.2" fill="#6a6a6a" stroke="none" stroke-width="1"/>
<circle cx="113.80" cy="62.47" r="1.2" fill="#6a6a6a" stroke="none" stroke-width="1"/>
<circle cx="103.25" cy="76.83" r="1.2" fill="#6a6a6a" stroke="none" stroke-width="1"/>
<circle cx="58.02" cy="114.12" r="1.2" fill="#6a6a6a" stroke="none" stroke-width="1"/>
<circle cx="52.51" cy="114.90" r="1.2" fill="#6a6a6a" stroke="none" stroke-width="1"/>
<circle cx="110.32" cy="71.47" r="1.2" fill="#6a6a6a" stroke="none" stroke-width="1"/>
<circle cx="68.09" cy="109.05" r="1.2" fill="#6a6a6a" stroke="none" stroke-width="1"/>
<circle cx="99.17" cy="66.90" r="1.2" fill="#6a6a6a" stroke="none" stroke-width="1"/>
<circle cx="57.50" cy="115.40" r="1.2" fill="#6a6a6a" stroke="none" stroke-width="1"/>
<circle cx="90.50" cy="89.40" r="1.2" fill="#6a6a6a" stroke="none" stroke-width="1"/>
<circle cx="80.62" cy="96.07" r="1.2" fill="#6a6a6a" stroke="none" stroke-width="1"/>
<circle cx="72.44" cy="87.15" r="1.2" fill="#6a6a6a" stroke="none" stroke-width="1"/>
<circle cx="82.34" cy="89.74" r="1.2" fill="#6a6a6a" stroke="none" stroke-width="1"/>
<circle cx="67.99" cy="102.99" r="1.2" fill="#6a6a6a" stroke="none" stroke-width="1"/>
<circle cx="53.91" cy="109.51" r="1.2" fill="#6a6a6a" stroke="none" stroke-width="1"/>
<circle cx="50.46" cy="120.68" r="1.2" fill="#6a6a6a" stroke="none" stroke-width="1"/>
<circle cx="47.89" cy="122.91" r="1.2" fill="#6a6a6a" stroke="none" stroke-width="1"/>
<circle cx="98.30" cy="64.23" r="1.2" fill="#6a6a6a" stroke="none" stroke-width="1"/>
<circle cx="72.51" cy="97.33" r="1.2" fill="#6a6a6a" stroke="none" stroke-width="1"/>
<circle cx="99.51" cy="71.82" r="1.2" fill="#6a6a6a" stroke="none" stroke-width="1"/>
<circle cx="64.28" cy="103.10" r="1.2" fill="#6a6a6a" stroke="none" stroke-width="1"/>
<circle cx="55.48" cy="116.41" r="1.2" fill="#6a6a6a" stroke="none" stroke-width="1"/>
<circle cx="106.73" cy="65.06" r="1.2" fill="#6a6a6a" stroke="none" stroke-width="1"/>
<circle cx="83.61" cy="76.23" r="1.2" fill="#6a6a6a" stroke="none" stroke-width="1"/>
<circle cx="78.49" cy="94.28" r="1.2" fill="#6a6a6a" stroke="none" stroke-width="1"/>
<circle cx="85.04" cy="87.07" r="1.2" fill="#6a6a6a" stroke="none" stroke-width="1"/>
<circle cx="55.02" cy="122.01" r="1.2" fill="#6a6a6a" stroke="none" stroke-width="1"/>
<circle cx="115.64" cy="64.04" r="1.2" fill="#6a6a6a" stroke="none" stroke-width="1"/>
<circle cx="51.27" cy="117.31" r="1.2" fill="#6a6a6a" stroke="none" stroke-width="1"/>
<circle cx="49.10" cy="121.30" r="1.2" fill="#6a6a6a" stroke="none" stroke-width="1"/>
<circle cx="101.56" cy="55.81" r="1.2" fill="#6a6a6a" stroke="none" stroke-width="1"/>
<circle cx="66.64" cy="109.01" r="1.2" fill="#6a6a6a" stroke="none" stroke-width="1"/>
<circle cx="47.13" cy="120.88" r="1.2" fill="#6a6a6a" stroke="none" stroke-width="1"/>
<circle cx="119.81" cy="55.49" r="1.2" fill="#6a6a6a" stroke="none" stroke-width="1"/>
<circle cx="61.64" cy="110.99" r="1.2" fill="#6a6a6a" stroke="none" stroke-width="1"/>
<circle cx="62.65" cy="107.25" r="1.2" fill="#6a6a6a" stroke="none" stroke-width="1"/>
<circle cx="122.73" cy="55.12" r="1.2" fill="#6a6a6a" stroke="none" stroke-width="1"/>
<circle cx="85.22" cy="89.63" r="1.2" fill="#6a6a6a" stroke="none" stroke-width="1"/>
<circle cx="83.32" cy="81.49" r="1.2" fill="#6a6a6a" stroke="none" stroke-width="1"/>
<circle cx="59.31" cy="116.21" r="1.2" fill="#6a6a6a" stroke="none" stroke-width="1"/>
<circle cx="61.25" cy="106.09" r="1.2" fill="#6a6a6a" stroke="none" stroke-width="1"/>
<circle cx="49.35" cy="114.46" r="1.2" fill="#6a6a6a" stroke="none" stroke-width="1"/>
<circle cx="79.39" cy="88.00" r="1.2" fill="#6a6a6a" stroke="none" stroke-width="1"/>
<circle cx="66.74" cy="101.19" r="1.2" fill="#6a6a6a" stroke="none" stroke-width="1"/>
<circle cx="58.46" cy="120.76" r="1.2" fill="#6a6a6a" stroke="none" stroke-width="1"/>
<circle cx="81.98" cy="88.83" r="1.2" fill="#6a6a6a" stroke="none" stroke-width="1"/>
<circle cx="80.44" cy="96.97" r="1.2" fill="#6a6a6a" stroke="none" stroke-width="1"/>
<circle cx="56.39" cy="112.36" r="1.2" fill="#6a6a6a" stroke="none" stroke-width="1"/>
<circle cx="86.57" cy="94.16" r="1.2" fill="#6a6a6a" stroke="none" stroke-width="1"/>
<circle cx="62.13" cy="120.51" r="1.2" fill="#6a6a6a" stroke="none" stroke-width="1"/>
<circle cx="91.49" cy="72.46" r="1.2" fill="#6a6a6a" stroke="none" stroke-width="1"/>
<circle cx="68.22" cy="103.13" r="1.2" fill="#6a6a6a" stroke="none" stroke-width="1"/>
<circle cx="68.04" cy="104.45" r="1.2" fill="#6a6a6a" stroke="none" stroke-width="1"/>
<circle cx="59.52" cy="111.44" r="1.2" fill="#6a6a6a" stroke="none" stroke-width="1"/>
<circle cx="72.32" cy="92.92" r="1.2" fill="#6a6a6a" stroke="none" stroke-width="1"/>
<circle cx="87.81" cy="92.66" r="1.2" fill="#6a6a6a" stroke="none" stroke-width="1"/>
<circle cx="66.23" cy="107.17" r="1.2" fill="#6a6a6a" stroke="none" stroke-width="1"/>
<circle cx="57.03" cy="115.08" r="1.2" fill="#6a6a6a" stroke="none" stroke-width="1"/>
<circle cx="98.55" cy="72.25" r="1.2" fill="#6a6a6a" stroke="none" stroke-width="1"/>
<circle cx="84.12" cy="79.74" r="1.2" fill="#6a6a6a" stroke="none" stroke-width="1"/>
<circle cx="109.58" cy="71.38" r="1.2" fill="#6a6a6a" stroke="none" stroke-width="1"/>
<circle cx="66.61" cy="102.20" r="1.2" fill="#6a6a6a" stroke="none" stroke-width="1"/>
<circle cx="57.89" cy="115.29" r="1.2" fill="#6a6a6a" stroke="none" stroke-width="1"/>
<circle cx="76.31" cy="92.17" r="1.2" fill="#6a6a6a" stroke="none" stroke-width="1"/>
<circle cx="63.55" cy="108.33" r="1.2" fill="#6a6a6a" stroke="none" stroke-width="1"/>
<circle cx="102.30" cy="68.22" r="1.2" fill="#6a6a6a" stroke="none" stroke-width="1"/>
<circle cx="73.30" cy="97.51" r="1.2" fill="#6a6a6a" stroke="none" stroke-width="1"/>
<circle cx="45.56" cy="125.75" r="1.2" fill="#6a6a6a" stroke="none" stroke-width="1"/>
<circle cx="67.38" cy="107.33" r="1.2" fill="#6a6a6a" stroke="none" stroke-width="1"/>
<circle cx="55.98" cy="110.18" r="1.2" fill="#6a6a6a" stroke="none" stroke-width="1"/>
<circle cx="56.45" cy="112.47" r="1.2" fill="#6a6a6a" stroke="none" stroke-width="1"/>
<circle cx="62.88" cy="104.83" r="1.2" fill="#6a6a6a" stroke="none" stroke-width="1"/>
<circle cx="66.52" cy="97.62" r="1.2" fill="#6a6a6a" stroke="none" stroke-width="1"/>
<circle cx="58.10" cy="111.31" r="1.2" fill="#6a6a6a" stroke="none" stroke-width="1"/>
<circle cx="50.43" cy="116.17" r="1.2" fill="#6a6a6a" stroke="none" stroke-width="1"/>
<circle cx="62.26" cy="102.60" r="1.2" fill="#6a6a6a" stroke="none" stroke-width="1"/>
<circle cx="70.16" cy="96.46" r="1.2" fill="#6a6a6a" stroke="none" stroke-width="1"/>
<circle cx="54.21" cy="117.64" r="1.2" fill="#6a6a6a" stroke="none" stroke-width="1"/>
<circle cx="77.99" cy="95.88" r="1.2" fill="#6a6a6a" stroke="none" stroke-width="1"/>
<circle cx="96.69" cy="73.15" r="1.2" fill="#6a6a6a" stroke="none" stroke-width="1"/>
<circle cx="72.48" cy="98.20" r="1.2" fill="#6a6a6a" stroke="none" stroke-width="1"/>
<circle cx="68.42" cy="103.02" r="1.2" fill="#6a6a6a" stroke="none" stroke-width="1"/>
<circle cx="86.44" cy="89.03" r="1.2" fill="#6a6a6a" stroke="none" stroke-width="1"/>
<circle cx="79.29" cy="86.52" r="1.2" fill="#6a6a6a" stroke="none" stroke-width="1"/>
<circle cx="81.85" cy="82.78" r="1.2" fill="#6a6a6a" stroke="none" stroke-width="1"/>
<circle cx="55.80" cy="111.58" r="1.2" fill="#6a6a6a" stroke="none" stroke-width="1"/>
<circle cx="45.31" cy="119.29" r="1.2" fill="#6a6a6a" stroke="none" stroke-width="1"/>
<circle cx="50.39" cy="120.72" r="1.2" fill="#6a6a6a" stroke="none" stroke-width="1"/>
<circle cx="81.45" cy="73.93" r="1.2" fill="#6a6a6a" stroke="none" stroke-width="1"/>
<circle cx="59.86" cy="107.28" r="1.2" fill="#6a6a6a" stroke="none" stroke-width="1"/>
<circle cx="59.54" cy="106.85" r="1.2" fill="#6a6a6a" stroke="none" stroke-width="1"/>
<circle cx="73.92" cy="94.67" r="1.2" fill="#6a6a6a" stroke="none" stroke-width="1"/>
<circle cx="93.62" cy="87.11" r="1.2" fill="#6a6a6a" stroke="none" stroke-width="1"/>
<circle cx="77.84" cy="82.71" r="1.2" fill="#6a6a6a" stroke="none" stroke-width="1"/>
<circle cx="75.10" cy="91.42" r="1.2" fill="#6a6a6a" stroke="none" stroke-width="1"/>
<circle cx="58.07" cy="112.14" r="1.2" fill="#6a6a6a" stroke="none" stroke-width="1"/>
<circle cx="53.68" cy="114.81" r="1.2" fill="#6a6a6a" stroke="none" stroke-width="1"/>
<circle cx="52.49" cy="120.91" r="1.2" fill="#6a6a6a" stroke="none" stroke-width="1"/>
<circle cx="58.22" cy="107.76" r="1.2" fill="#6a6a6a" stroke="none" stroke-width="1"/>
<circle cx="49.35" cy="120.35" r="1.2" fill="#6a6a6a" stroke="none" stroke-width="1"/>
<circle cx="51.56" cy="117.41" r="1.2" fill="#6a6a6a" stroke="none" stroke-width="1"/>
<circle cx="74.02" cy="105.11" r="1.2" fill="#6a6a6a" stroke="none" stroke-width="1"/>
<circle cx="68.64" cy="111.87" r="1.2" fill="#6a6a6a" stroke="none" stroke-width="1"/>
<circle cx="63.36" cy="111.25" r="1.2" fill="#6a6a6a" stroke="none" stroke-width="1"/>
<circle cx="76.98" cy="93.81" r="1.2" fill="#6a6a6a" stroke="none" stroke-width="1"/>
<circle cx="97.44" cy="86.88" r="1.2" fill="#6a6a6a" stroke="none" stroke-width="1"/>
<circle cx="101.39" cy="57.64" r="1.2" fill="#6a6a6a" stroke="none" stroke-width="1"/>
<circle cx="55.62" cy="118.91" r="1.2" fill="#6a6a6a" stroke="none" stroke-width="1"/>
<circle cx="57.54" cy="116.32" r="1.2" fill="#6a6a6a" stroke="none" stroke-width="1"/>
<circle cx="61.81" cy="107.03" r="1.2" fill="#6a6a6a" stroke="none" stroke-width="1"/>
<circle cx="67.61" cy="99.43" r="1.2" fill="#6a6a6a" stroke="none" stroke-width="1"/>
<circle cx="55.36" cy="117.64" r="1.2" fill="#6a6a6a" stroke="none" stroke-width="1"/>
<circle cx="79.52" cy="86.52" r="1.2" fill="#6a6a6a" stroke="none" stroke-width="1"/>
<circle cx="77.17" cy="95.37" r="1.2" fill="#6a6a6a" stroke="none" stroke-width="1"/>
<circle cx="69.99" cy="100.17" r="1.2" fill="#6a6a6a" stroke="none" stroke-width="1"/>
<circle cx="74.90" cy="99.43" r="1.2" fill="#6a6a6a" stroke="none" stroke-width="1"/>
<circle cx="50.23" cy="121.01" r="1.2" fill="#6a6a6a" stroke="none" stroke-width="1"/>
<circle cx="52.13" cy="115.03" r="1.2" fill="#6a6a6a" stroke="none" stroke-width="1"/>
<circle cx="103.59" cy="83.09" r="1.2" fill="#6a6a6a" stroke="none" stroke-width="1"/>
<circle cx="83.19" cy="87.26" r="1.2" fill="#6a6a6a" stroke="none" stroke-width="1"/>
<circle cx="106.40" cy="64.08" r="1.2" fill="#6a6a6a" stroke="none" stroke-width="1"/>
<circle cx="90.61" cy="86.50" r="1.2" fill="#6a6a6a" stroke="none" stroke-width="1"/>
<circle cx="60.01" cy="110.17" r="1.2" fill="#6a6a6a" stroke="none" stroke-width="1"/>
<circle cx="58.26" cy="115.25" r="1.2" fill="#6a6a6a" stroke="none" stroke-width="1"/>
<circle cx="48.39" cy="125.61" r="1.2" fill="#6a6a6a" stroke="none" stroke-width="1"/>
<circle cx="58.30" cy="107.35" r="1.2" fill="#6a6a6a" stroke="none" stroke-width="1"/>
<circle cx="64.74" cy="107.17" r="1.2" fill="#6a6a6a" stroke="none" stroke-width="1"/>
<circle cx="60.53" cy="108.26" r="1.2" fill="#6a6a6a" stroke="none" stroke-width="1"/>
<circle cx="54.59" cy="112.30" r="1.2" fill="#6a6a6a" stroke="none" stroke-width="1"/>
<circle cx="47.42" cy="125.53" r="1.2" fill="#6a6a6a" stroke="none" stroke-width="1"/>
<circle cx="65.58" cy="111.00" r="1.2" fill="#6a6a6a" stroke="none" stroke-width="1"/>
<circle cx="65.23" cy="108.00" r="1.2" fill="#6a6a6a" stroke="none" stroke-width="1"/>
<circle cx="85.53" cy="92.19" r="1.2" fill="#6a6a6a" stroke="none" stroke-width="1"/>
<circle cx="62.02" cy="108.12" r="1.2" fill="#6a6a6a" stroke="none" stroke-width="1"/>
<circle cx="78.05" cy="93.26" r="1.2" fill="#6a6a6a" stroke="none" stroke-width="1"/>
<circle cx="54.48" cy="112.66" r="1.2" fill="#6a6a6a" stroke="none" stroke-width="1"/>
<circle cx="124.95" cy="56.00" r="1.2" fill="#6a6a6a" stroke="none" stroke-width="1"/>
<circle cx="64.80" cy="106.58" r="1.2" fill="#6a6a6a" stroke="none" stroke-width="1"/>
<circle cx="50.46" cy="118.32" r="1.2" fill="#6a6a6a" stroke="none" stroke-width="1"/>
<circle cx="47.99" cy="120.59" r="1.2" fill="#6a6a6a" stroke="none" stroke-width="1"/>
<circle cx="64.07" cy="105.36" r="1.2" fill="#6a6a6a" stroke="none" stroke-width="1"/>
<circle cx="99.03" cy="60.79" r="1.2" fill="#6a6a6a" stroke="none" stroke-width="1"/>
<circle cx="73.70" cy="104.74" r="1.2" fill="#6a6a6a" stroke="none" stroke-width="1"/>
<circle cx="76.27" cy="97.42" r="1.2" fill="#6a6a6a" stroke="none" stroke-width="1"/>
<circle cx="108.48" cy="72.80" r="1.2" fill="#6a6a6a" stroke="none" stroke-width="1"/>
<circle cx="104.08" cy="62.22" r="1.2" fill="#6a6a6a" stroke="none" stroke-width="1"/>
<circle cx="57.48" cy="108.95" r="1.2" fill="#6a6a6a" stroke="none" stroke-width="1"/>
<circle cx="50.00" cy="121.43" r="1.2" fill="#6a6a6a" stroke="none" stroke-width="1"/>
<circle cx="58.04" cy="113.07" r="1.2" fill="#6a6a6a" stroke="none" stroke-width="1"/>
<circle cx="106.43" cy="68.79" r="1.2" fill="#6a6a6a" stroke="none" stroke-width="1"/>
<circle cx="49.96" cy="119.31" r="1.2" fill="#6a6a6a" stroke="none" stroke-width="1"/>
<circle cx="63.13" cy="107.21" r="1.2" fill="#6a6a6a" stroke="none" stroke-width="1"/>
<circle cx="71.55" cy="96.94" r="1.2" fill="#6a6a6a" stroke="none" stroke-width="1"/>
<circle cx="76.80" cy="105.72" r="1.2" fill="#6a6a6a" stroke="none" stroke-width="1"/>
<circle cx="72.91" cy="95.18" r="1.2" fill="#6a6a6a" stroke="none" stroke-width="1"/>
<circle cx="74.18" cy="88.37" r="1.2" fill="#6a6a6a" stroke="none" stroke-width="1"/>
<circle cx="61.19" cy="107.28" r="1.2" fill="#6a6a6a" stroke="none" stroke-width="1"/>
<circle cx="67.29" cy="98.71" r="1.2" fill="#6a6a6a" stroke="none" stroke-width="1"/>
<circle cx="104.78" cy="69.65" r="1.2" fill="#6a6a6a" stroke="none" stroke-width="1"/>
<circle cx="97.96" cy="66.64" r="1.2" fill="#6a6a6a" stroke="none" stroke-width="1"/>
<circle cx="101.55" cy="79.20" r="1.2" fill="#6a6a6a" stroke="none" stroke-width="1"/>
<circle cx="44.43" cy="126.35" r="1.2" fill="#6a6a6a" stroke="none" stroke-width="1"/>
<circle cx="80.09" cy="86.45" r="1.2" fill="#6a6a6a" stroke="none" stroke-width="1"/>
<circle cx="70.50" cy="93.42" r="1.2" fill="#6a6a6a" stroke="none" stroke-width="1"/>
<circle cx="68.05" cy="107.29" r="1.2" fill="#6a6a6a" stroke="none" stroke-width="1"/>
<circle cx="76.73" cy="89.16" r="1.2" fill="#6a6a6a" stroke="none" stroke-width="1"/>
<circle cx="102.34" cy="85.55" r="1.2" fill="#6a6a6a" stroke="none" stroke-width="1"/>
<circle cx="52.21" cy="115.27" r="1.2" fill="#6a6a6a" stroke="none" stroke-width="1"/>
<circle cx="57.33" cy="116.54" r="1.2" fill="#6a6a6a" stroke="none" stroke-width="1"/>
<circle cx="61.59" cy="103.97" r="1.2" fill="#6a6a6a" stroke="none" stroke-width="1"/>
<circle cx="116.31" cy="70.86" r="1.2" fill="#6a6a6a" stroke="none" stroke-width="1"/>
<circle cx="59.98" cy="109.39" r="1.2" fill="#6a6a6a" stroke="none" stroke-width="1"/>
<circle cx="74.84" cy="87.50" r="1.2" fill="#6a6a6a" stroke="none" stroke-width="1"/>
<circle cx="51.92" cy="119.03" r="1.2" fill="#6a6a6a" stroke="none" stroke-width="1"/>
<circle cx="74.56" cy="94.18" r="1.2" fill="#6a6a6a" stroke="none" stroke-width="1"/>
<circle cx="105.41" cy="73.12" r="1.2" fill="#6a6a6a" stroke="none" stroke-width="1"/>
<circle cx="57.29" cy="110.48" r="1.2" fill="#6a6a6a" stroke="none" stroke-width="1"/>
<circle cx="71.00" cy="101.59" r="1.2" fill="#6a6a6a" stroke="none" stroke-width="1"/>
<circle cx="69.71" cy="104.70" r="1.2" fill="#6a6a6a" stroke="none" stroke-width="1"/>
<circle cx="104.10" cy="70.47" r="1.2" fill="#6a6a6a" stroke="none" stroke-width="1"/>
<line x1="41.30" y1="128.40" x2="133.00" y2="47.35" stroke="#000" stroke-width="2.6"/>
<rect x="197.30" y="126.97" width="6.35" height="1.63" fill="#c3c3c3" stroke="#7c7c7c" stroke-width="0.9"/>
<rect x="203.65" y="126.97" width="6.35" height="1.63" fill="#c3c3c3" stroke="#7c7c7c" stroke-width="0.9"/>
<rect x="216.35" y="120.44" width="6.35" height="8.16" fill="#c3c3c3" stroke="#7c7c7c" stroke-width="0.9"/>
<rect x="222.70" y="101.40" width="6.35" height="27.20" fill="#c3c3c3" stroke="#7c7c7c" stroke-width="0.9"/>
<rect x="229.05" y="66.04" width="6.35" height="62.56" fill="#c3c3c3" stroke="#7c7c7c" stroke-width="0.9"/>
<rect x="235.40" y="41.56" width="6.35" height="87.04" fill="#c3c3c3" stroke="#7c7c7c" stroke-width="0.9"/>
<rect x="241.75" y="33.40" width="6.35" height="95.20" fill="#c3c3c3" stroke="#7c7c7c" stroke-width="0.9"/>
<rect x="248.10" y="52.44" width="6.35" height="76.16" fill="#c3c3c3" stroke="#7c7c7c" stroke-width="0.9"/>
<rect x="254.45" y="58.97" width="6.35" height="69.63" fill="#c3c3c3" stroke="#7c7c7c" stroke-width="0.9"/>
<rect x="260.80" y="78.55" width="6.35" height="50.05" fill="#c3c3c3" stroke="#7c7c7c" stroke-width="0.9"/>
<rect x="267.15" y="101.94" width="6.35" height="26.66" fill="#c3c3c3" stroke="#7c7c7c" stroke-width="0.9"/>
<rect x="273.50" y="108.47" width="6.35" height="20.13" fill="#c3c3c3" stroke="#7c7c7c" stroke-width="0.9"/>
<rect x="279.85" y="115.00" width="6.35" height="13.60" fill="#c3c3c3" stroke="#7c7c7c" stroke-width="0.9"/>
<rect x="286.20" y="123.16" width="6.35" height="5.44" fill="#c3c3c3" stroke="#7c7c7c" stroke-width="0.9"/>
<rect x="292.55" y="125.34" width="6.35" height="3.26" fill="#c3c3c3" stroke="#7c7c7c" stroke-width="0.9"/>
<rect x="235.40" y="112.28" width="6.35" height="16.32" fill="rgba(80,80,80,0.66)" stroke="#555" stroke-width="0.9"/>
<rect x="241.75" y="98.68" width="6.35" height="29.92" fill="rgba(80,80,80,0.66)" stroke="#555" stroke-width="0.9"/>
<rect x="248.10" y="58.97" width="6.35" height="69.63" fill="rgba(80,80,80,0.66)" stroke="#555" stroke-width="0.9"/>
<rect x="254.45" y="40.47" width="6.35" height="88.13" fill="rgba(80,80,80,0.66)" stroke="#555" stroke-width="0.9"/>
<rect x="260.80" y="31.22" width="6.35" height="97.38" fill="rgba(80,80,80,0.66)" stroke="#555" stroke-width="0.9"/>
<rect x="267.15" y="44.82" width="6.35" height="83.78" fill="rgba(80,80,80,0.66)" stroke="#555" stroke-width="0.9"/>
<rect x="273.50" y="75.29" width="6.35" height="53.31" fill="rgba(80,80,80,0.66)" stroke="#555" stroke-width="0.9"/>
<rect x="279.85" y="75.29" width="6.35" height="53.31" fill="rgba(80,80,80,0.66)" stroke="#555" stroke-width="0.9"/>
<rect x="286.20" y="93.78" width="6.35" height="34.82" fill="rgba(80,80,80,0.66)" stroke="#555" stroke-width="0.9"/>
<rect x="292.55" y="119.90" width="6.35" height="8.70" fill="rgba(80,80,80,0.66)" stroke="#555" stroke-width="0.9"/>
<rect x="298.90" y="119.90" width="6.35" height="8.70" fill="rgba(80,80,80,0.66)" stroke="#555" stroke-width="0.9"/>
<rect x="305.25" y="125.34" width="6.35" height="3.26" fill="rgba(80,80,80,0.66)" stroke="#555" stroke-width="0.9"/>
<rect x="311.60" y="125.88" width="6.35" height="2.72" fill="rgba(80,80,80,0.66)" stroke="#555" stroke-width="0.9"/>
<rect x="317.95" y="126.42" width="6.35" height="2.18" fill="rgba(80,80,80,0.66)" stroke="#555" stroke-width="0.9"/>
<line x1="196.90" y1="13.80" x2="196.90" y2="128.60" stroke="#333" stroke-width="1"/>
<line x1="193.50" y1="20.10" x2="196.90" y2="20.10" stroke="#333" stroke-width="1"/>
<line x1="194.50" y1="46.90" x2="196.90" y2="46.90" stroke="#333" stroke-width="1"/>
<line x1="193.50" y1="74.50" x2="196.90" y2="74.50" stroke="#333" stroke-width="1"/>
<line x1="193.50" y1="101.70" x2="196.90" y2="101.70" stroke="#333" stroke-width="1"/>
<line x1="193.50" y1="128.60" x2="339.70" y2="128.60" stroke="#333" stroke-width="1"/>
<line x1="197.10" y1="128.60" x2="197.10" y2="132.10" stroke="#333" stroke-width="1"/>
<line x1="229.00" y1="128.60" x2="229.00" y2="132.10" stroke="#333" stroke-width="1"/>
<line x1="260.90" y1="128.60" x2="260.90" y2="132.10" stroke="#333" stroke-width="1"/>
<line x1="292.70" y1="128.60" x2="292.70" y2="132.10" stroke="#333" stroke-width="1"/>
<line x1="324.50" y1="128.60" x2="324.50" y2="132.10" stroke="#333" stroke-width="1"/>
<text x="191.50" y="24.16" font-size="10.5" text-anchor="end" fill="#111">0.2</text>
<text x="191.50" y="78.56" font-size="10.5" text-anchor="end" fill="#111">0.1</text>
<text x="191.50" y="132.26" font-size="10.5" text-anchor="end" fill="#111">0</text>
<text x="197.10" y="142.36" font-size="10.5" text-anchor="middle" fill="#111">0</text>
<text x="260.90" y="142.36" font-size="10.5" text-anchor="middle" fill="#111">0.2</text>
<text x="324.50" y="142.36" font-size="10.5" text-anchor="middle" fill="#111">0.4</text>
<text x="196.20" y="159.54" font-size="13.6" text-anchor="start" fill="#111">kinase activity / [CheA]</text>
<text x="0" y="0" font-size="13.4" text-anchor="middle" fill="#111" transform="translate(170.48 73.75) rotate(-90)">relative frequency</text>
<line x1="348.00" y1="14.50" x2="348.00" y2="89.20" stroke="#333" stroke-width="1.1"/>
<line x1="348.00" y1="89.20" x2="421.50" y2="89.20" stroke="#333" stroke-width="1.1"/>
<line x1="348.00" y1="86.33" x2="350.20" y2="86.33" stroke="#333" stroke-width="0.9"/>
<line x1="348.00" y1="81.72" x2="350.20" y2="81.72" stroke="#333" stroke-width="0.9"/>
<line x1="348.00" y1="78.46" x2="350.20" y2="78.46" stroke="#333" stroke-width="0.9"/>
<line x1="348.00" y1="75.92" x2="350.20" y2="75.92" stroke="#333" stroke-width="0.9"/>
<line x1="348.00" y1="73.85" x2="350.20" y2="73.85" stroke="#333" stroke-width="0.9"/>
<line x1="348.00" y1="72.10" x2="350.20" y2="72.10" stroke="#333" stroke-width="0.9"/>
<line x1="348.00" y1="70.58" x2="350.20" y2="70.58" stroke="#333" stroke-width="0.9"/>
<line x1="348.00" y1="69.25" x2="350.20" y2="69.25" stroke="#333" stroke-width="0.9"/>
<line x1="348.00" y1="68.05" x2="352.00" y2="68.05" stroke="#333" stroke-width="0.9"/>
<line x1="348.00" y1="60.18" x2="350.20" y2="60.18" stroke="#333" stroke-width="0.9"/>
<line x1="348.00" y1="55.57" x2="350.20" y2="55.57" stroke="#333" stroke-width="0.9"/>
<line x1="348.00" y1="52.31" x2="350.20" y2="52.31" stroke="#333" stroke-width="0.9"/>
<line x1="348.00" y1="49.77" x2="350.20" y2="49.77" stroke="#333" stroke-width="0.9"/>
<line x1="348.00" y1="47.70" x2="350.20" y2="47.70" stroke="#333" stroke-width="0.9"/>
<line x1="348.00" y1="45.95" x2="350.20" y2="45.95" stroke="#333" stroke-width="0.9"/>
<line x1="348.00" y1="44.43" x2="350.20" y2="44.43" stroke="#333" stroke-width="0.9"/>
<line x1="348.00" y1="43.10" x2="350.20" y2="43.10" stroke="#333" stroke-width="0.9"/>
<line x1="348.00" y1="41.90" x2="352.00" y2="41.90" stroke="#333" stroke-width="0.9"/>
<line x1="348.00" y1="34.03" x2="350.20" y2="34.03" stroke="#333" stroke-width="0.9"/>
<line x1="348.00" y1="29.42" x2="350.20" y2="29.42" stroke="#333" stroke-width="0.9"/>
<line x1="348.00" y1="26.16" x2="350.20" y2="26.16" stroke="#333" stroke-width="0.9"/>
<line x1="348.00" y1="23.62" x2="350.20" y2="23.62" stroke="#333" stroke-width="0.9"/>
<line x1="348.00" y1="21.55" x2="350.20" y2="21.55" stroke="#333" stroke-width="0.9"/>
<line x1="348.00" y1="19.80" x2="350.20" y2="19.80" stroke="#333" stroke-width="0.9"/>
<line x1="348.00" y1="18.28" x2="350.20" y2="18.28" stroke="#333" stroke-width="0.9"/>
<line x1="348.00" y1="16.95" x2="350.20" y2="16.95" stroke="#333" stroke-width="0.9"/>
<line x1="348.00" y1="15.75" x2="352.00" y2="15.75" stroke="#333" stroke-width="0.9"/>
<line x1="352.30" y1="89.20" x2="352.30" y2="85.20" stroke="#333" stroke-width="0.9"/>
<line x1="368.20" y1="89.20" x2="368.20" y2="86.70" stroke="#333" stroke-width="0.9"/>
<line x1="384.10" y1="89.20" x2="384.10" y2="85.20" stroke="#333" stroke-width="0.9"/>
<line x1="400.00" y1="89.20" x2="400.00" y2="86.70" stroke="#333" stroke-width="0.9"/>
<line x1="415.90" y1="89.20" x2="415.90" y2="85.20" stroke="#333" stroke-width="0.9"/>
<text x="345.00" y="19.17" font-size="9.4" text-anchor="end" fill="#111">10</text>
<text x="345.00" y="45.27" font-size="9.4" text-anchor="end" fill="#111">1</text>
<text x="345.00" y="71.47" font-size="9.4" text-anchor="end" fill="#111">0.1</text>
<text x="352.30" y="100.07" font-size="9.4" text-anchor="middle" fill="#111">0</text>
<text x="384.10" y="100.07" font-size="9.4" text-anchor="middle" fill="#111">12</text>
<text x="415.90" y="100.07" font-size="9.4" text-anchor="middle" fill="#111">24</text>
<text x="384.50" y="112.97" font-size="12.2" text-anchor="middle" fill="#111">time (h)</text>
<text x="0" y="0" font-size="12" text-anchor="middle" fill="#111" transform="translate(328.50 49.25) rotate(-90)">OD</text>
<path d="M 378,34 C 384,27 389,24.5 398,24.3 L 421,24" stroke="#d9262b" stroke-width="1.1" fill="none" stroke-dasharray="2.2,1.6"/>
<line x1="351.50" y1="81.50" x2="382.30" y2="17.50" stroke="#333" stroke-width="1.1"/>
<circle cx="352.40" cy="80.10" r="1.6" fill="none" stroke="#f39c1f" stroke-width="1.0"/>
<circle cx="354.20" cy="76.40" r="1.6" fill="none" stroke="#f39c1f" stroke-width="1.0"/>
<circle cx="355.80" cy="73.00" r="1.6" fill="none" stroke="#f39c1f" stroke-width="1.0"/>
<circle cx="357.60" cy="70.90" r="1.6" fill="none" stroke="#f39c1f" stroke-width="1.0"/>
<circle cx="358.70" cy="68.50" r="1.6" fill="none" stroke="#f39c1f" stroke-width="1.0"/>
<circle cx="360.30" cy="64.90" r="1.6" fill="none" stroke="#f39c1f" stroke-width="1.0"/>
<circle cx="362.20" cy="61.00" r="1.6" fill="none" stroke="#f39c1f" stroke-width="1.0"/>
<circle cx="363.70" cy="57.00" r="1.6" fill="none" stroke="#f39c1f" stroke-width="1.0"/>
<circle cx="366.80" cy="48.10" r="1.6" fill="none" stroke="#f39c1f" stroke-width="1.0"/>
<circle cx="370.90" cy="40.70" r="1.6" fill="none" stroke="#f39c1f" stroke-width="1.0"/>
<circle cx="372.20" cy="38.10" r="1.6" fill="none" stroke="#f39c1f" stroke-width="1.0"/>
<circle cx="373.10" cy="35.00" r="1.6" fill="none" stroke="#f39c1f" stroke-width="1.0"/>
<circle cx="374.40" cy="33.70" r="1.6" fill="none" stroke="#f39c1f" stroke-width="1.0"/>
<circle cx="376.10" cy="33.30" r="1.6" fill="none" stroke="#f39c1f" stroke-width="1.0"/>
<circle cx="378.70" cy="32.80" r="1.6" fill="none" stroke="#f39c1f" stroke-width="1.0"/>
<rect x="413.70" y="21.00" width="4.30" height="6.20" fill="#f5a014" stroke="none" stroke-width="1" rx="1.6"/>
<line x1="434.00" y1="24.40" x2="427.10" y2="24.40" stroke="#555" stroke-width="1.2"/>
<path d="M 422.20,24.40 L 427.60,21.80 L 426.60,24.40 L 427.60,27.00 Z" fill="#555"/>
<line x1="397.40" y1="35.80" x2="391.90" y2="35.80" stroke="#555" stroke-width="1.2"/>
<path d="M 387.00,35.80 L 392.40,33.20 L 391.40,35.80 L 392.40,38.40 Z" fill="#555"/>
<line x1="386.60" y1="51.20" x2="380.20" y2="51.20" stroke="#aaa" stroke-width="1.2"/>
<path d="M 375.30,51.20 L 380.70,48.60 L 379.70,51.20 L 380.70,53.80 Z" fill="#aaa"/>
<line x1="380.50" y1="64.20" x2="373.90" y2="64.20" stroke="#aaa" stroke-width="1.2"/>
<path d="M 369.00,64.20 L 374.40,61.60 L 373.40,64.20 L 374.40,66.80 Z" fill="#aaa"/>
<path d="M 438,20.7 L 440.6,20.7 L 440.6,39 L 438,39" stroke="#666" stroke-width="1.0" fill="none"/>
<text x="442.50" y="32.90" font-size="10" text-anchor="start" fill="#666">stat.</text>
<path d="M 393.8,46.3 L 396.5,46.3 L 396.5,68 L 393.8,68" stroke="#aaa" stroke-width="1.0" fill="none"/>
<text x="400.00" y="59.90" font-size="10" text-anchor="start" fill="#aaa">exp.</text>
<line x1="530.50" y1="18.30" x2="530.50" y2="133.40" stroke="#333" stroke-width="1"/>
<line x1="526.60" y1="26.50" x2="530.50" y2="26.50" stroke="#333" stroke-width="1"/>
<line x1="528.50" y1="80.00" x2="530.50" y2="80.00" stroke="#333" stroke-width="1"/>
<line x1="526.60" y1="133.40" x2="681.50" y2="133.40" stroke="#333" stroke-width="1"/>
<line x1="530.60" y1="133.40" x2="530.60" y2="138.00" stroke="#333" stroke-width="1"/>
<line x1="568.20" y1="133.40" x2="568.20" y2="138.00" stroke="#333" stroke-width="1"/>
<line x1="606.30" y1="133.40" x2="606.30" y2="138.00" stroke="#333" stroke-width="1"/>
<line x1="643.40" y1="133.40" x2="643.40" y2="138.00" stroke="#333" stroke-width="1"/>
<line x1="681.00" y1="133.40" x2="681.00" y2="138.00" stroke="#333" stroke-width="1"/>
<line x1="530.50" y1="26.50" x2="681.70" y2="26.50" stroke="#c8c8c8" stroke-width="0.9"/>
<text x="523.00" y="30.44" font-size="11" text-anchor="end" fill="#111">1</text>
<text x="523.00" y="137.34" font-size="11" text-anchor="end" fill="#111">0</text>
<text x="0" y="0" font-size="11" text-anchor="middle" fill="#111" transform="translate(509.96 79.5) rotate(-90)">kinase activity (nor.)</text>
<text x="532.20" y="10.66" font-size="11.0" text-anchor="start" fill="#111">single-array responses</text>
<text x="646.40" y="10.76" font-size="11.4" text-anchor="start" fill="#888">(Fig.1d)</text>
<rect x="537.80" y="24.30" width="24.00" height="4.80" fill="#0e8e0e" stroke="#1a3a1a" stroke-width="1.0" rx="2"/>
<rect x="576.10" y="24.30" width="23.20" height="4.80" fill="#0e8e0e" stroke="#1a3a1a" stroke-width="1.0" rx="2"/>
<rect x="651.30" y="24.30" width="23.40" height="4.80" fill="#0e8e0e" stroke="#1a3a1a" stroke-width="1.0" rx="2"/>
<rect x="614.60" y="129.20" width="22.80" height="4.80" fill="#0e8e0e" stroke="#1a3a1a" stroke-width="1.0" rx="2"/>
<text x="548.50" y="153.34" font-size="11.3" text-anchor="middle" fill="#111">buffer</text>
<text x="587.10" y="153.34" font-size="11.3" text-anchor="middle" fill="#111">Asp.</text>
<text x="625.20" y="153.34" font-size="11.3" text-anchor="middle" fill="#111">Ser.</text>
<text x="661.30" y="153.34" font-size="11.3" text-anchor="middle" fill="#111">buffer</text>
<text x="563.30" y="58.86" font-size="11" text-anchor="middle" fill="#555">aspartate</text>
<text x="563.30" y="69.76" font-size="11" text-anchor="middle" fill="#555">response</text>
<text x="563.0" y="83.14" font-size="11" text-anchor="middle" fill="#555">( R<tspan font-size="8.5" dy="2.5">asp</tspan><tspan dy="-2.5">=0 )</tspan></text>
<line x1="585.00" y1="49.00" x2="587.08" y2="36.24" stroke="#444" stroke-width="1.0"/>
<path d="M 587.80,31.80 L 589.07,37.07 L 587.16,35.75 L 584.92,36.40 Z" fill="#444"/>
<text x="624.70" y="67.86" font-size="11" text-anchor="middle" fill="#555">serine</text>
<text x="624.70" y="78.36" font-size="11" text-anchor="middle" fill="#555">response</text>
<text x="625.5" y="92.14" font-size="11" text-anchor="middle" fill="#555">( R<tspan font-size="8.5" dy="2.5">ser</tspan><tspan dy="-2.5">=1 )</tspan></text>
<line x1="625.60" y1="27.90" x2="625.60" y2="56.60" stroke="#777" stroke-width="1"/>
<line x1="625.50" y1="97.00" x2="625.50" y2="124.00" stroke="#111" stroke-width="1"/>
<path d="M 625.50,127.50 L 622.90,123.50 L 625.50,124.50 L 628.10,123.50 Z" fill="#111"/>
<path d="M 529.6,157.3 L 529.6,163.4 L 680.7,163.4 L 680.7,157.3" stroke="#3ea6f0" stroke-width="1.2" fill="none"/>
<path d="M 605.6,163.4 C 605.5,172 603,176 596,180 C 588,184 580,185 573,190 C 565,196 560,203 556.3,213.6" stroke="#3ea6f0" stroke-width="1.2" fill="none"/>
<path d="M 553.5,206.5 L 556.3,213.6 L 562.5,209.5" stroke="#3ea6f0" stroke-width="1.2" fill="none"/>
<path d="M 554.4,225.4 L 677.9,225.4 L 677.9,348.3 Z" fill="#f4f9f2"/>
<line x1="554.40" y1="225.40" x2="677.90" y2="225.40" stroke="#777" stroke-width="1.3"/>
<line x1="677.90" y1="225.40" x2="677.90" y2="348.30" stroke="#777" stroke-width="1.3"/>
<line x1="554.40" y1="225.40" x2="554.40" y2="348.30" stroke="#333" stroke-width="1"/>
<line x1="549.50" y1="348.30" x2="677.90" y2="348.30" stroke="#333" stroke-width="1"/>
<line x1="554.40" y1="348.30" x2="554.40" y2="351.80" stroke="#333" stroke-width="1"/>
<line x1="677.90" y1="348.30" x2="677.90" y2="351.80" stroke="#333" stroke-width="1"/>
<line x1="554.40" y1="225.40" x2="677.90" y2="348.30" stroke="#1db81d" stroke-width="1.8"/>
<circle cx="554.40" cy="225.40" r="3.0" fill="none" stroke="#1f7a1f" stroke-width="1.7"/>
<circle cx="677.60" cy="347.80" r="6.0" fill="rgba(120,120,120,0.8)" stroke="#555" stroke-width="1.8"/>
<line x1="677.60" y1="342.30" x2="677.60" y2="353.30" stroke="#555" stroke-width="0.9"/>
<line x1="671.60" y1="347.80" x2="683.40" y2="347.80" stroke="#555" stroke-width="0.9"/>
<text x="547.00" y="229.04" font-size="11" text-anchor="end" fill="#111">1</text>
<text x="547.00" y="352.24" font-size="11" text-anchor="end" fill="#111">0</text>
<text x="553.80" y="365.14" font-size="11" text-anchor="middle" fill="#111">0</text>
<text x="677.60" y="365.14" font-size="11" text-anchor="middle" fill="#111">1</text>
<text x="612.20" y="374.24" font-size="11.3" text-anchor="middle" fill="#111">aspartate response</text>
<text x="0" y="0" font-size="11.1" text-anchor="middle" fill="#111" transform="translate(543.49 286.7) rotate(-90)">serine response</text>
<line x1="609.10" y1="227.80" x2="609.10" y2="233.70" stroke="#2a3fd6" stroke-width="1.2"/>
<line x1="602.50" y1="231.30" x2="614.50" y2="231.30" stroke="#f04a4a" stroke-width="1.2"/>
<line x1="602.50" y1="229.30" x2="602.50" y2="233.30" stroke="#f04a4a" stroke-width="1.1"/>
<line x1="614.50" y1="229.30" x2="614.50" y2="233.30" stroke="#f04a4a" stroke-width="1.1"/>
<line x1="606.60" y1="227.80" x2="611.60" y2="227.80" stroke="#2a3fd6" stroke-width="1.1"/>
<line x1="606.60" y1="233.70" x2="611.60" y2="233.70" stroke="#2a3fd6" stroke-width="1.1"/>
<circle cx="610.60" cy="238.40" r="5.3" fill="none" stroke="#8a8a8a" stroke-width="2.0"/>
<text x="619.60" y="244.73" font-size="10.5" text-anchor="start" fill="#9a9a9a" font-weight="bold">exp.</text>
<line x1="647.00" y1="262.00" x2="647.00" y2="277.90" stroke="#2a3fd6" stroke-width="1.2"/>
<line x1="638.00" y1="269.00" x2="655.40" y2="269.00" stroke="#f04a4a" stroke-width="1.2"/>
<line x1="638.00" y1="267.00" x2="638.00" y2="271.00" stroke="#f04a4a" stroke-width="1.1"/>
<line x1="655.40" y1="267.00" x2="655.40" y2="271.00" stroke="#f04a4a" stroke-width="1.1"/>
<line x1="644.50" y1="262.00" x2="649.50" y2="262.00" stroke="#2a3fd6" stroke-width="1.1"/>
<line x1="644.50" y1="277.90" x2="649.50" y2="277.90" stroke="#2a3fd6" stroke-width="1.1"/>
<circle cx="648.80" cy="285.40" r="5.5" fill="none" stroke="#777" stroke-width="2.0"/>
<text x="653.90" y="297.63" font-size="10.5" text-anchor="start" fill="#666" font-weight="bold">stat.</text>
<text x="0" y="0" font-size="8.6" fill="#111" transform="translate(585.0 245.3) rotate(45)">R<tspan font-size="7" dy="2">ser</tspan><tspan dy="-2"> + R</tspan><tspan font-size="7" dy="2">asp</tspan><tspan dy="-2"> &gt; 1</tspan></text>
<text x="601.20" y="312.64" font-size="9.0" text-anchor="middle" fill="#555" font-style="italic">additive</text>
<text x="603.00" y="321.79" font-size="9.2" text-anchor="middle" fill="#555" font-style="italic">responses</text>
<line x1="617.90" y1="307.90" x2="627.60" y2="298.80" stroke="#1db81d" stroke-width="1.1"/>
<text x="574" y="336.11" font-size="8.7" fill="#111">R<tspan font-size="7" dy="2">ser</tspan><tspan dy="-2"> + R</tspan><tspan font-size="7" dy="2">asp</tspan><tspan dy="-2"> = 1</tspan></text>
<text x="644.5" y="347.14" font-size="11" font-weight="bold" fill="#111">Tsr<tspan font-size="8" dy="-4">−</tspan></text>
<circle cx="92.84" cy="227.70" r="1.2" fill="#a0a0a0" stroke="none" stroke-width="1"/>
<circle cx="96.81" cy="228.80" r="1.2" fill="#a0a0a0" stroke="none" stroke-width="1"/>
<circle cx="69.41" cy="260.09" r="1.2" fill="#a0a0a0" stroke="none" stroke-width="1"/>
<circle cx="148.35" cy="224.31" r="1.2" fill="#a0a0a0" stroke="none" stroke-width="1"/>
<circle cx="101.60" cy="281.14" r="1.2" fill="#a0a0a0" stroke="none" stroke-width="1"/>
<circle cx="118.53" cy="219.41" r="1.2" fill="#a0a0a0" stroke="none" stroke-width="1"/>
<circle cx="63.35" cy="220.58" r="1.2" fill="#a0a0a0" stroke="none" stroke-width="1"/>
<circle cx="126.38" cy="222.93" r="1.2" fill="#a0a0a0" stroke="none" stroke-width="1"/>
<circle cx="107.15" cy="272.15" r="1.2" fill="#a0a0a0" stroke="none" stroke-width="1"/>
<circle cx="113.37" cy="231.95" r="1.2" fill="#a0a0a0" stroke="none" stroke-width="1"/>
<circle cx="98.66" cy="234.96" r="1.2" fill="#a0a0a0" stroke="none" stroke-width="1"/>
<circle cx="70.75" cy="266.72" r="1.2" fill="#a0a0a0" stroke="none" stroke-width="1"/>
<circle cx="85.58" cy="232.81" r="1.2" fill="#a0a0a0" stroke="none" stroke-width="1"/>
<circle cx="95.58" cy="236.32" r="1.2" fill="#a0a0a0" stroke="none" stroke-width="1"/>
<circle cx="44.09" cy="214.76" r="1.2" fill="#a0a0a0" stroke="none" stroke-width="1"/>
<circle cx="77.88" cy="244.46" r="1.2" fill="#a0a0a0" stroke="none" stroke-width="1"/>
<circle cx="131.60" cy="227.06" r="1.2" fill="#a0a0a0" stroke="none" stroke-width="1"/>
<circle cx="33.94" cy="235.57" r="1.2" fill="#a0a0a0" stroke="none" stroke-width="1"/>
<circle cx="105.83" cy="232.13" r="1.2" fill="#a0a0a0" stroke="none" stroke-width="1"/>
<circle cx="146.57" cy="236.10" r="1.2" fill="#a0a0a0" stroke="none" stroke-width="1"/>
<circle cx="85.05" cy="276.60" r="1.2" fill="#a0a0a0" stroke="none" stroke-width="1"/>
<circle cx="92.89" cy="259.56" r="1.2" fill="#a0a0a0" stroke="none" stroke-width="1"/>
<circle cx="61.37" cy="240.08" r="1.2" fill="#a0a0a0" stroke="none" stroke-width="1"/>
<circle cx="135.84" cy="258.00" r="1.2" fill="#a0a0a0" stroke="none" stroke-width="1"/>
<circle cx="114.66" cy="230.36" r="1.2" fill="#a0a0a0" stroke="none" stroke-width="1"/>
<circle cx="91.97" cy="225.35" r="1.2" fill="#a0a0a0" stroke="none" stroke-width="1"/>
<circle cx="95.16" cy="247.76" r="1.2" fill="#a0a0a0" stroke="none" stroke-width="1"/>
<circle cx="105.22" cy="235.55" r="1.2" fill="#a0a0a0" stroke="none" stroke-width="1"/>
<circle cx="161.26" cy="230.62" r="1.2" fill="#a0a0a0" stroke="none" stroke-width="1"/>
<circle cx="86.66" cy="260.93" r="1.2" fill="#a0a0a0" stroke="none" stroke-width="1"/>
<circle cx="112.92" cy="221.08" r="1.2" fill="#a0a0a0" stroke="none" stroke-width="1"/>
<circle cx="102.78" cy="225.80" r="1.2" fill="#a0a0a0" stroke="none" stroke-width="1"/>
<circle cx="122.15" cy="212.55" r="1.2" fill="#a0a0a0" stroke="none" stroke-width="1"/>
<circle cx="70.50" cy="232.39" r="1.2" fill="#a0a0a0" stroke="none" stroke-width="1"/>
<circle cx="109.26" cy="236.47" r="1.2" fill="#a0a0a0" stroke="none" stroke-width="1"/>
<circle cx="108.54" cy="230.83" r="1.2" fill="#a0a0a0" stroke="none" stroke-width="1"/>
<circle cx="97.63" cy="219.14" r="1.2" fill="#a0a0a0" stroke="none" stroke-width="1"/>
<circle cx="101.93" cy="232.90" r="1.2" fill="#a0a0a0" stroke="none" stroke-width="1"/>
<circle cx="84.29" cy="234.04" r="1.2" fill="#a0a0a0" stroke="none" stroke-width="1"/>
<circle cx="129.71" cy="220.02" r="1.2" fill="#a0a0a0" stroke="none" stroke-width="1"/>
<circle cx="96.62" cy="226.68" r="1.2" fill="#a0a0a0" stroke="none" stroke-width="1"/>
<circle cx="129.25" cy="241.63" r="1.2" fill="#a0a0a0" stroke="none" stroke-width="1"/>
<circle cx="84.41" cy="214.04" r="1.2" fill="#a0a0a0" stroke="none" stroke-width="1"/>
<circle cx="77.74" cy="230.36" r="1.2" fill="#a0a0a0" stroke="none" stroke-width="1"/>
<circle cx="116.81" cy="246.27" r="1.2" fill="#a0a0a0" stroke="none" stroke-width="1"/>
<circle cx="74.05" cy="231.65" r="1.2" fill="#a0a0a0" stroke="none" stroke-width="1"/>
<circle cx="100.02" cy="250.40" r="1.2" fill="#a0a0a0" stroke="none" stroke-width="1"/>
<circle cx="124.00" cy="262.82" r="1.2" fill="#a0a0a0" stroke="none" stroke-width="1"/>
<circle cx="108.08" cy="224.20" r="1.2" fill="#a0a0a0" stroke="none" stroke-width="1"/>
<circle cx="149.75" cy="264.15" r="1.2" fill="#a0a0a0" stroke="none" stroke-width="1"/>
<circle cx="99.64" cy="226.33" r="1.2" fill="#a0a0a0" stroke="none" stroke-width="1"/>
<circle cx="96.11" cy="238.76" r="1.2" fill="#a0a0a0" stroke="none" stroke-width="1"/>
<circle cx="178.03" cy="242.27" r="1.2" fill="#a0a0a0" stroke="none" stroke-width="1"/>
<circle cx="85.78" cy="226.49" r="1.2" fill="#a0a0a0" stroke="none" stroke-width="1"/>
<circle cx="65.18" cy="235.14" r="1.2" fill="#a0a0a0" stroke="none" stroke-width="1"/>
<circle cx="81.44" cy="221.46" r="1.2" fill="#a0a0a0" stroke="none" stroke-width="1"/>
<circle cx="65.23" cy="264.28" r="1.2" fill="#a0a0a0" stroke="none" stroke-width="1"/>
<circle cx="143.21" cy="255.51" r="1.2" fill="#a0a0a0" stroke="none" stroke-width="1"/>
<circle cx="108.50" cy="226.22" r="1.2" fill="#a0a0a0" stroke="none" stroke-width="1"/>
<circle cx="144.06" cy="226.07" r="1.2" fill="#a0a0a0" stroke="none" stroke-width="1"/>
<circle cx="71.07" cy="238.47" r="1.2" fill="#a0a0a0" stroke="none" stroke-width="1"/>
<circle cx="113.33" cy="241.04" r="1.2" fill="#a0a0a0" stroke="none" stroke-width="1"/>
<circle cx="143.09" cy="229.45" r="1.2" fill="#a0a0a0" stroke="none" stroke-width="1"/>
<circle cx="71.61" cy="230.27" r="1.2" fill="#a0a0a0" stroke="none" stroke-width="1"/>
<circle cx="131.55" cy="232.48" r="1.2" fill="#a0a0a0" stroke="none" stroke-width="1"/>
<circle cx="141.93" cy="220.06" r="1.2" fill="#a0a0a0" stroke="none" stroke-width="1"/>
<circle cx="84.44" cy="231.40" r="1.2" fill="#a0a0a0" stroke="none" stroke-width="1"/>
<circle cx="58.62" cy="228.67" r="1.2" fill="#a0a0a0" stroke="none" stroke-width="1"/>
<circle cx="92.59" cy="221.20" r="1.2" fill="#a0a0a0" stroke="none" stroke-width="1"/>
<circle cx="106.49" cy="235.06" r="1.2" fill="#a0a0a0" stroke="none" stroke-width="1"/>
<circle cx="81.91" cy="227.24" r="1.2" fill="#a0a0a0" stroke="none" stroke-width="1"/>
<circle cx="100.31" cy="229.96" r="1.2" fill="#a0a0a0" stroke="none" stroke-width="1"/>
<circle cx="76.88" cy="221.14" r="1.2" fill="#a0a0a0" stroke="none" stroke-width="1"/>
<circle cx="26.18" cy="288.00" r="1.2" fill="#a0a0a0" stroke="none" stroke-width="1"/>
<circle cx="110.52" cy="233.17" r="1.2" fill="#a0a0a0" stroke="none" stroke-width="1"/>
<circle cx="137.09" cy="240.69" r="1.2" fill="#a0a0a0" stroke="none" stroke-width="1"/>
<circle cx="106.79" cy="218.03" r="1.2" fill="#a0a0a0" stroke="none" stroke-width="1"/>
<circle cx="138.47" cy="228.81" r="1.2" fill="#a0a0a0" stroke="none" stroke-width="1"/>
<circle cx="140.80" cy="225.87" r="1.2" fill="#a0a0a0" stroke="none" stroke-width="1"/>
<circle cx="120.57" cy="213.45" r="1.2" fill="#a0a0a0" stroke="none" stroke-width="1"/>
<circle cx="66.55" cy="315.35" r="1.2" fill="#a0a0a0" stroke="none" stroke-width="1"/>
<circle cx="82.07" cy="260.77" r="1.2" fill="#a0a0a0" stroke="none" stroke-width="1"/>
<circle cx="80.90" cy="212.55" r="1.2" fill="#a0a0a0" stroke="none" stroke-width="1"/>
<circle cx="132.23" cy="225.75" r="1.2" fill="#a0a0a0" stroke="none" stroke-width="1"/>
<circle cx="51.50" cy="222.29" r="1.2" fill="#a0a0a0" stroke="none" stroke-width="1"/>
<circle cx="118.09" cy="220.32" r="1.2" fill="#a0a0a0" stroke="none" stroke-width="1"/>
<circle cx="92.77" cy="242.48" r="1.2" fill="#a0a0a0" stroke="none" stroke-width="1"/>
<circle cx="106.05" cy="233.04" r="1.2" fill="#a0a0a0" stroke="none" stroke-width="1"/>
<circle cx="72.93" cy="251.87" r="1.2" fill="#a0a0a0" stroke="none" stroke-width="1"/>
<circle cx="80.92" cy="232.09" r="1.2" fill="#a0a0a0" stroke="none" stroke-width="1"/>
<circle cx="116.77" cy="233.07" r="1.2" fill="#a0a0a0" stroke="none" stroke-width="1"/>
<circle cx="79.13" cy="234.07" r="1.2" fill="#a0a0a0" stroke="none" stroke-width="1"/>
<circle cx="74.16" cy="228.59" r="1.2" fill="#a0a0a0" stroke="none" stroke-width="1"/>
<circle cx="134.32" cy="229.72" r="1.2" fill="#a0a0a0" stroke="none" stroke-width="1"/>
<circle cx="72.93" cy="237.14" r="1.2" fill="#a0a0a0" stroke="none" stroke-width="1"/>
<circle cx="70.89" cy="227.54" r="1.2" fill="#a0a0a0" stroke="none" stroke-width="1"/>
<circle cx="127.53" cy="220.98" r="1.2" fill="#a0a0a0" stroke="none" stroke-width="1"/>
<circle cx="80.77" cy="278.85" r="1.2" fill="#a0a0a0" stroke="none" stroke-width="1"/>
<circle cx="85.28" cy="247.18" r="1.2" fill="#a0a0a0" stroke="none" stroke-width="1"/>
<circle cx="88.18" cy="224.64" r="1.2" fill="#a0a0a0" stroke="none" stroke-width="1"/>
<circle cx="101.74" cy="230.01" r="1.2" fill="#a0a0a0" stroke="none" stroke-width="1"/>
<circle cx="144.75" cy="224.36" r="1.2" fill="#a0a0a0" stroke="none" stroke-width="1"/>
<circle cx="105.52" cy="243.61" r="1.2" fill="#a0a0a0" stroke="none" stroke-width="1"/>
<circle cx="140.68" cy="254.85" r="1.2" fill="#a0a0a0" stroke="none" stroke-width="1"/>
<circle cx="74.28" cy="219.87" r="1.2" fill="#a0a0a0" stroke="none" stroke-width="1"/>
<circle cx="64.55" cy="227.13" r="1.2" fill="#a0a0a0" stroke="none" stroke-width="1"/>
<circle cx="95.91" cy="222.62" r="1.2" fill="#a0a0a0" stroke="none" stroke-width="1"/>
<circle cx="98.33" cy="238.31" r="1.2" fill="#a0a0a0" stroke="none" stroke-width="1"/>
<circle cx="122.43" cy="214.77" r="1.2" fill="#a0a0a0" stroke="none" stroke-width="1"/>
<circle cx="119.96" cy="221.19" r="1.2" fill="#a0a0a0" stroke="none" stroke-width="1"/>
<circle cx="119.41" cy="239.79" r="1.2" fill="#a0a0a0" stroke="none" stroke-width="1"/>
<circle cx="116.57" cy="241.53" r="1.2" fill="#a0a0a0" stroke="none" stroke-width="1"/>
<circle cx="83.55" cy="241.79" r="1.2" fill="#a0a0a0" stroke="none" stroke-width="1"/>
<circle cx="112.78" cy="228.57" r="1.2" fill="#a0a0a0" stroke="none" stroke-width="1"/>
<circle cx="111.88" cy="225.38" r="1.2" fill="#a0a0a0" stroke="none" stroke-width="1"/>
<circle cx="101.22" cy="225.77" r="1.2" fill="#a0a0a0" stroke="none" stroke-width="1"/>
<circle cx="104.41" cy="235.39" r="1.2" fill="#a0a0a0" stroke="none" stroke-width="1"/>
<circle cx="108.17" cy="216.22" r="1.2" fill="#a0a0a0" stroke="none" stroke-width="1"/>
<circle cx="98.01" cy="245.33" r="1.2" fill="#a0a0a0" stroke="none" stroke-width="1"/>
<circle cx="115.07" cy="234.29" r="1.2" fill="#a0a0a0" stroke="none" stroke-width="1"/>
<circle cx="92.58" cy="227.16" r="1.2" fill="#a0a0a0" stroke="none" stroke-width="1"/>
<circle cx="131.19" cy="221.65" r="1.2" fill="#a0a0a0" stroke="none" stroke-width="1"/>
<circle cx="172.78" cy="221.04" r="1.2" fill="#a0a0a0" stroke="none" stroke-width="1"/>
<circle cx="114.07" cy="239.42" r="1.2" fill="#a0a0a0" stroke="none" stroke-width="1"/>
<circle cx="92.40" cy="242.65" r="1.2" fill="#a0a0a0" stroke="none" stroke-width="1"/>
<circle cx="73.44" cy="232.76" r="1.2" fill="#a0a0a0" stroke="none" stroke-width="1"/>
<circle cx="95.13" cy="227.43" r="1.2" fill="#a0a0a0" stroke="none" stroke-width="1"/>
<circle cx="88.22" cy="245.21" r="1.2" fill="#a0a0a0" stroke="none" stroke-width="1"/>
<circle cx="124.55" cy="231.10" r="1.2" fill="#a0a0a0" stroke="none" stroke-width="1"/>
<circle cx="109.19" cy="230.64" r="1.2" fill="#a0a0a0" stroke="none" stroke-width="1"/>
<circle cx="101.11" cy="244.15" r="1.2" fill="#a0a0a0" stroke="none" stroke-width="1"/>
<circle cx="108.27" cy="212.55" r="1.2" fill="#a0a0a0" stroke="none" stroke-width="1"/>
<circle cx="80.21" cy="245.71" r="1.2" fill="#a0a0a0" stroke="none" stroke-width="1"/>
<circle cx="84.08" cy="248.69" r="1.2" fill="#a0a0a0" stroke="none" stroke-width="1"/>
<circle cx="87.50" cy="226.78" r="1.2" fill="#a0a0a0" stroke="none" stroke-width="1"/>
<circle cx="120.66" cy="237.45" r="1.2" fill="#a0a0a0" stroke="none" stroke-width="1"/>
<circle cx="84.57" cy="247.99" r="1.2" fill="#a0a0a0" stroke="none" stroke-width="1"/>
<circle cx="107.66" cy="237.15" r="1.2" fill="#a0a0a0" stroke="none" stroke-width="1"/>
<circle cx="88.26" cy="237.60" r="1.2" fill="#a0a0a0" stroke="none" stroke-width="1"/>
<circle cx="97.90" cy="233.31" r="1.2" fill="#a0a0a0" stroke="none" stroke-width="1"/>
<circle cx="90.46" cy="235.36" r="1.2" fill="#a0a0a0" stroke="none" stroke-width="1"/>
<circle cx="89.07" cy="221.18" r="1.2" fill="#a0a0a0" stroke="none" stroke-width="1"/>
<circle cx="108.97" cy="259.73" r="1.2" fill="#a0a0a0" stroke="none" stroke-width="1"/>
<circle cx="118.18" cy="227.03" r="1.2" fill="#a0a0a0" stroke="none" stroke-width="1"/>
<circle cx="151.28" cy="218.88" r="1.2" fill="#a0a0a0" stroke="none" stroke-width="1"/>
<circle cx="112.03" cy="229.60" r="1.2" fill="#a0a0a0" stroke="none" stroke-width="1"/>
<circle cx="73.02" cy="226.55" r="1.2" fill="#a0a0a0" stroke="none" stroke-width="1"/>
<circle cx="69.28" cy="259.35" r="1.2" fill="#a0a0a0" stroke="none" stroke-width="1"/>
<circle cx="80.10" cy="224.31" r="1.2" fill="#a0a0a0" stroke="none" stroke-width="1"/>
<circle cx="146.40" cy="226.40" r="1.2" fill="#a0a0a0" stroke="none" stroke-width="1"/>
<circle cx="134.36" cy="224.03" r="1.2" fill="#a0a0a0" stroke="none" stroke-width="1"/>
<circle cx="110.78" cy="239.56" r="1.2" fill="#a0a0a0" stroke="none" stroke-width="1"/>
<circle cx="99.46" cy="230.44" r="1.2" fill="#a0a0a0" stroke="none" stroke-width="1"/>
<circle cx="97.91" cy="218.66" r="1.2" fill="#a0a0a0" stroke="none" stroke-width="1"/>
<circle cx="56.24" cy="243.69" r="1.2" fill="#a0a0a0" stroke="none" stroke-width="1"/>
<circle cx="126.04" cy="240.99" r="1.2" fill="#a0a0a0" stroke="none" stroke-width="1"/>
<circle cx="138.42" cy="235.53" r="1.2" fill="#a0a0a0" stroke="none" stroke-width="1"/>
<circle cx="138.35" cy="237.02" r="1.2" fill="#a0a0a0" stroke="none" stroke-width="1"/>
<circle cx="88.65" cy="220.97" r="1.2" fill="#a0a0a0" stroke="none" stroke-width="1"/>
<circle cx="117.65" cy="249.08" r="1.2" fill="#a0a0a0" stroke="none" stroke-width="1"/>
<circle cx="63.08" cy="218.44" r="1.2" fill="#a0a0a0" stroke="none" stroke-width="1"/>
<circle cx="117.43" cy="248.57" r="1.2" fill="#a0a0a0" stroke="none" stroke-width="1"/>
<circle cx="115.67" cy="230.06" r="1.2" fill="#a0a0a0" stroke="none" stroke-width="1"/>
<circle cx="63.80" cy="240.43" r="1.2" fill="#a0a0a0" stroke="none" stroke-width="1"/>
<circle cx="60.46" cy="250.84" r="1.2" fill="#a0a0a0" stroke="none" stroke-width="1"/>
<circle cx="63.20" cy="237.91" r="1.2" fill="#a0a0a0" stroke="none" stroke-width="1"/>
<circle cx="118.73" cy="238.56" r="1.2" fill="#a0a0a0" stroke="none" stroke-width="1"/>
<circle cx="139.74" cy="226.81" r="1.2" fill="#a0a0a0" stroke="none" stroke-width="1"/>
<circle cx="124.21" cy="260.84" r="1.2" fill="#a0a0a0" stroke="none" stroke-width="1"/>
<circle cx="106.56" cy="224.17" r="1.2" fill="#a0a0a0" stroke="none" stroke-width="1"/>
<circle cx="90.91" cy="230.07" r="1.2" fill="#a0a0a0" stroke="none" stroke-width="1"/>
<circle cx="74.92" cy="238.01" r="1.2" fill="#a0a0a0" stroke="none" stroke-width="1"/>
<circle cx="80.94" cy="238.92" r="1.2" fill="#a0a0a0" stroke="none" stroke-width="1"/>
<circle cx="83.92" cy="236.30" r="1.2" fill="#a0a0a0" stroke="none" stroke-width="1"/>
<circle cx="115.29" cy="232.83" r="1.2" fill="#a0a0a0" stroke="none" stroke-width="1"/>
<circle cx="76.61" cy="220.44" r="1.2" fill="#a0a0a0" stroke="none" stroke-width="1"/>
<circle cx="98.23" cy="222.92" r="1.2" fill="#a0a0a0" stroke="none" stroke-width="1"/>
<circle cx="71.59" cy="223.39" r="1.2" fill="#a0a0a0" stroke="none" stroke-width="1"/>
<circle cx="100.06" cy="242.78" r="1.2" fill="#a0a0a0" stroke="none" stroke-width="1"/>
<circle cx="146.33" cy="245.84" r="1.2" fill="#a0a0a0" stroke="none" stroke-width="1"/>
<circle cx="94.24" cy="238.63" r="1.2" fill="#a0a0a0" stroke="none" stroke-width="1"/>
<circle cx="113.40" cy="287.40" r="1.2" fill="#a0a0a0" stroke="none" stroke-width="1"/>
<circle cx="122.84" cy="237.28" r="1.2" fill="#a0a0a0" stroke="none" stroke-width="1"/>
<circle cx="112.19" cy="220.19" r="1.2" fill="#a0a0a0" stroke="none" stroke-width="1"/>
<circle cx="148.15" cy="233.11" r="1.2" fill="#a0a0a0" stroke="none" stroke-width="1"/>
<circle cx="112.90" cy="234.73" r="1.2" fill="#a0a0a0" stroke="none" stroke-width="1"/>
<circle cx="107.30" cy="232.67" r="1.2" fill="#a0a0a0" stroke="none" stroke-width="1"/>
<circle cx="126.23" cy="248.62" r="1.2" fill="#a0a0a0" stroke="none" stroke-width="1"/>
<circle cx="93.44" cy="230.93" r="1.2" fill="#a0a0a0" stroke="none" stroke-width="1"/>
<circle cx="99.46" cy="227.79" r="1.2" fill="#a0a0a0" stroke="none" stroke-width="1"/>
<circle cx="123.60" cy="215.43" r="1.2" fill="#a0a0a0" stroke="none" stroke-width="1"/>
<circle cx="155.72" cy="227.80" r="1.2" fill="#a0a0a0" stroke="none" stroke-width="1"/>
<circle cx="106.00" cy="241.06" r="1.2" fill="#a0a0a0" stroke="none" stroke-width="1"/>
<circle cx="106.22" cy="226.42" r="1.2" fill="#a0a0a0" stroke="none" stroke-width="1"/>
<circle cx="85.57" cy="213.06" r="1.2" fill="#a0a0a0" stroke="none" stroke-width="1"/>
<circle cx="113.47" cy="218.16" r="1.2" fill="#a0a0a0" stroke="none" stroke-width="1"/>
<circle cx="68.66" cy="215.17" r="1.2" fill="#a0a0a0" stroke="none" stroke-width="1"/>
<circle cx="48.08" cy="237.52" r="1.2" fill="#a0a0a0" stroke="none" stroke-width="1"/>
<circle cx="127.86" cy="262.18" r="1.2" fill="#a0a0a0" stroke="none" stroke-width="1"/>
<circle cx="78.14" cy="231.47" r="1.2" fill="#a0a0a0" stroke="none" stroke-width="1"/>
<circle cx="66.27" cy="236.12" r="1.2" fill="#a0a0a0" stroke="none" stroke-width="1"/>
<circle cx="85.80" cy="237.79" r="1.2" fill="#a0a0a0" stroke="none" stroke-width="1"/>
<circle cx="121.84" cy="227.68" r="1.2" fill="#a0a0a0" stroke="none" stroke-width="1"/>
<circle cx="85.81" cy="219.23" r="1.2" fill="#a0a0a0" stroke="none" stroke-width="1"/>
<circle cx="84.66" cy="239.67" r="1.2" fill="#a0a0a0" stroke="none" stroke-width="1"/>
<circle cx="82.99" cy="239.86" r="1.2" fill="#a0a0a0" stroke="none" stroke-width="1"/>
<circle cx="82.34" cy="230.97" r="1.2" fill="#a0a0a0" stroke="none" stroke-width="1"/>
<circle cx="125.28" cy="224.73" r="1.2" fill="#a0a0a0" stroke="none" stroke-width="1"/>
<circle cx="139.17" cy="214.90" r="1.2" fill="#a0a0a0" stroke="none" stroke-width="1"/>
<circle cx="80.67" cy="229.45" r="1.2" fill="#a0a0a0" stroke="none" stroke-width="1"/>
<circle cx="103.00" cy="230.72" r="1.2" fill="#a0a0a0" stroke="none" stroke-width="1"/>
<circle cx="134.50" cy="238.89" r="1.2" fill="#a0a0a0" stroke="none" stroke-width="1"/>
<circle cx="116.18" cy="239.18" r="1.2" fill="#a0a0a0" stroke="none" stroke-width="1"/>
<circle cx="117.37" cy="231.02" r="1.2" fill="#a0a0a0" stroke="none" stroke-width="1"/>
<circle cx="99.93" cy="230.80" r="1.2" fill="#a0a0a0" stroke="none" stroke-width="1"/>
<circle cx="107.64" cy="231.65" r="1.2" fill="#a0a0a0" stroke="none" stroke-width="1"/>
<circle cx="115.70" cy="233.72" r="1.2" fill="#a0a0a0" stroke="none" stroke-width="1"/>
<circle cx="86.15" cy="230.05" r="1.2" fill="#a0a0a0" stroke="none" stroke-width="1"/>
<circle cx="101.60" cy="218.09" r="1.2" fill="#a0a0a0" stroke="none" stroke-width="1"/>
<circle cx="116.64" cy="231.44" r="1.2" fill="#a0a0a0" stroke="none" stroke-width="1"/>
<circle cx="117.55" cy="228.17" r="1.2" fill="#a0a0a0" stroke="none" stroke-width="1"/>
<circle cx="102.86" cy="242.70" r="1.2" fill="#a0a0a0" stroke="none" stroke-width="1"/>
<circle cx="108.68" cy="275.98" r="1.2" fill="#a0a0a0" stroke="none" stroke-width="1"/>
<circle cx="106.01" cy="228.70" r="1.2" fill="#a0a0a0" stroke="none" stroke-width="1"/>
<circle cx="112.97" cy="243.60" r="1.2" fill="#a0a0a0" stroke="none" stroke-width="1"/>
<circle cx="46.52" cy="223.26" r="1.2" fill="#a0a0a0" stroke="none" stroke-width="1"/>
<circle cx="52.19" cy="261.21" r="1.2" fill="#a0a0a0" stroke="none" stroke-width="1"/>
<circle cx="109.35" cy="223.32" r="1.2" fill="#a0a0a0" stroke="none" stroke-width="1"/>
<circle cx="111.93" cy="225.52" r="1.2" fill="#a0a0a0" stroke="none" stroke-width="1"/>
<circle cx="109.52" cy="222.48" r="1.2" fill="#a0a0a0" stroke="none" stroke-width="1"/>
<circle cx="130.52" cy="231.00" r="1.2" fill="#a0a0a0" stroke="none" stroke-width="1"/>
<circle cx="101.17" cy="274.60" r="1.2" fill="#a0a0a0" stroke="none" stroke-width="1"/>
<circle cx="112.89" cy="212.68" r="1.2" fill="#a0a0a0" stroke="none" stroke-width="1"/>
<circle cx="139.80" cy="287.20" r="1.2" fill="#a0a0a0" stroke="none" stroke-width="1"/>
<circle cx="90.43" cy="232.13" r="1.2" fill="#a0a0a0" stroke="none" stroke-width="1"/>
<circle cx="65.90" cy="232.00" r="1.2" fill="#a0a0a0" stroke="none" stroke-width="1"/>
<circle cx="109.96" cy="218.76" r="1.2" fill="#a0a0a0" stroke="none" stroke-width="1"/>
<circle cx="144.05" cy="237.30" r="1.2" fill="#a0a0a0" stroke="none" stroke-width="1"/>
<circle cx="128.81" cy="219.80" r="1.2" fill="#a0a0a0" stroke="none" stroke-width="1"/>
<circle cx="67.56" cy="293.02" r="1.2" fill="#a0a0a0" stroke="none" stroke-width="1"/>
<circle cx="96.43" cy="230.15" r="1.2" fill="#a0a0a0" stroke="none" stroke-width="1"/>
<circle cx="127.87" cy="231.14" r="1.2" fill="#a0a0a0" stroke="none" stroke-width="1"/>
<circle cx="127.96" cy="219.73" r="1.2" fill="#a0a0a0" stroke="none" stroke-width="1"/>
<circle cx="135.69" cy="228.76" r="1.2" fill="#a0a0a0" stroke="none" stroke-width="1"/>
<circle cx="142.45" cy="235.28" r="1.2" fill="#a0a0a0" stroke="none" stroke-width="1"/>
<circle cx="108.79" cy="241.38" r="1.2" fill="#a0a0a0" stroke="none" stroke-width="1"/>
<circle cx="88.13" cy="237.18" r="1.2" fill="#a0a0a0" stroke="none" stroke-width="1"/>
<circle cx="92.03" cy="239.94" r="1.2" fill="#a0a0a0" stroke="none" stroke-width="1"/>
<circle cx="72.93" cy="223.98" r="1.2" fill="#a0a0a0" stroke="none" stroke-width="1"/>
<circle cx="82.90" cy="269.88" r="1.2" fill="#a0a0a0" stroke="none" stroke-width="1"/>
<circle cx="121.88" cy="230.42" r="1.2" fill="#a0a0a0" stroke="none" stroke-width="1"/>
<circle cx="72.49" cy="224.76" r="1.2" fill="#a0a0a0" stroke="none" stroke-width="1"/>
<circle cx="86.14" cy="221.00" r="1.2" fill="#a0a0a0" stroke="none" stroke-width="1"/>
<circle cx="58.73" cy="255.60" r="1.2" fill="#a0a0a0" stroke="none" stroke-width="1"/>
<circle cx="101.69" cy="219.81" r="1.2" fill="#a0a0a0" stroke="none" stroke-width="1"/>
<circle cx="120.15" cy="236.32" r="1.2" fill="#a0a0a0" stroke="none" stroke-width="1"/>
<circle cx="121.79" cy="234.00" r="1.2" fill="#a0a0a0" stroke="none" stroke-width="1"/>
<circle cx="112.51" cy="239.47" r="1.2" fill="#a0a0a0" stroke="none" stroke-width="1"/>
<circle cx="111.57" cy="244.33" r="1.2" fill="#a0a0a0" stroke="none" stroke-width="1"/>
<circle cx="119.49" cy="242.22" r="1.2" fill="#a0a0a0" stroke="none" stroke-width="1"/>
<circle cx="124.02" cy="249.77" r="1.2" fill="#a0a0a0" stroke="none" stroke-width="1"/>
<circle cx="103.47" cy="225.44" r="1.2" fill="#a0a0a0" stroke="none" stroke-width="1"/>
<circle cx="91.63" cy="225.12" r="1.2" fill="#a0a0a0" stroke="none" stroke-width="1"/>
<circle cx="89.66" cy="239.75" r="1.2" fill="#a0a0a0" stroke="none" stroke-width="1"/>
<circle cx="124.03" cy="231.17" r="1.2" fill="#a0a0a0" stroke="none" stroke-width="1"/>
<circle cx="80.20" cy="226.55" r="1.2" fill="#a0a0a0" stroke="none" stroke-width="1"/>
<circle cx="130.73" cy="226.22" r="1.2" fill="#a0a0a0" stroke="none" stroke-width="1"/>
<circle cx="113.43" cy="230.28" r="1.2" fill="#a0a0a0" stroke="none" stroke-width="1"/>
<circle cx="99.40" cy="235.38" r="1.2" fill="#a0a0a0" stroke="none" stroke-width="1"/>
<circle cx="96.95" cy="226.74" r="1.2" fill="#a0a0a0" stroke="none" stroke-width="1"/>
<circle cx="111.31" cy="229.32" r="1.2" fill="#a0a0a0" stroke="none" stroke-width="1"/>
<circle cx="116.71" cy="239.60" r="1.2" fill="#a0a0a0" stroke="none" stroke-width="1"/>
<circle cx="139.37" cy="240.64" r="1.2" fill="#a0a0a0" stroke="none" stroke-width="1"/>
<circle cx="108.85" cy="233.63" r="1.2" fill="#a0a0a0" stroke="none" stroke-width="1"/>
<circle cx="87.81" cy="248.23" r="1.2" fill="#a0a0a0" stroke="none" stroke-width="1"/>
<circle cx="119.77" cy="251.92" r="1.2" fill="#a0a0a0" stroke="none" stroke-width="1"/>
<circle cx="121.33" cy="228.35" r="1.2" fill="#a0a0a0" stroke="none" stroke-width="1"/>
<circle cx="49.64" cy="219.91" r="1.2" fill="#a0a0a0" stroke="none" stroke-width="1"/>
<circle cx="83.48" cy="226.51" r="1.2" fill="#a0a0a0" stroke="none" stroke-width="1"/>
<circle cx="153.64" cy="222.84" r="1.2" fill="#a0a0a0" stroke="none" stroke-width="1"/>
<circle cx="79.70" cy="240.17" r="1.2" fill="#a0a0a0" stroke="none" stroke-width="1"/>
<circle cx="105.60" cy="240.75" r="1.2" fill="#a0a0a0" stroke="none" stroke-width="1"/>
<circle cx="93.60" cy="234.38" r="1.2" fill="#a0a0a0" stroke="none" stroke-width="1"/>
<circle cx="167.57" cy="225.18" r="1.2" fill="#a0a0a0" stroke="none" stroke-width="1"/>
<circle cx="104.96" cy="223.68" r="1.2" fill="#a0a0a0" stroke="none" stroke-width="1"/>
<circle cx="97.95" cy="251.72" r="1.2" fill="#a0a0a0" stroke="none" stroke-width="1"/>
<circle cx="118.96" cy="275.41" r="1.2" fill="#a0a0a0" stroke="none" stroke-width="1"/>
<circle cx="26.42" cy="231.02" r="1.2" fill="#a0a0a0" stroke="none" stroke-width="1"/>
<circle cx="76.11" cy="236.68" r="1.2" fill="#a0a0a0" stroke="none" stroke-width="1"/>
<circle cx="45.23" cy="240.22" r="1.2" fill="#a0a0a0" stroke="none" stroke-width="1"/>
<circle cx="71.41" cy="225.70" r="1.2" fill="#a0a0a0" stroke="none" stroke-width="1"/>
<circle cx="132.00" cy="246.87" r="1.2" fill="#a0a0a0" stroke="none" stroke-width="1"/>
<circle cx="52.87" cy="231.99" r="1.2" fill="#a0a0a0" stroke="none" stroke-width="1"/>
<circle cx="120.94" cy="224.84" r="1.2" fill="#a0a0a0" stroke="none" stroke-width="1"/>
<circle cx="110.49" cy="217.53" r="1.2" fill="#a0a0a0" stroke="none" stroke-width="1"/>
<circle cx="121.69" cy="226.45" r="1.2" fill="#a0a0a0" stroke="none" stroke-width="1"/>
<circle cx="44.93" cy="232.33" r="1.2" fill="#a0a0a0" stroke="none" stroke-width="1"/>
<circle cx="127.96" cy="215.54" r="1.2" fill="#a0a0a0" stroke="none" stroke-width="1"/>
<circle cx="84.21" cy="217.94" r="1.2" fill="#a0a0a0" stroke="none" stroke-width="1"/>
<circle cx="116.30" cy="232.13" r="1.2" fill="#a0a0a0" stroke="none" stroke-width="1"/>
<circle cx="150.71" cy="232.01" r="1.2" fill="#a0a0a0" stroke="none" stroke-width="1"/>
<circle cx="178.03" cy="272.41" r="1.2" fill="#a0a0a0" stroke="none" stroke-width="1"/>
<circle cx="134.85" cy="272.51" r="1.2" fill="#a0a0a0" stroke="none" stroke-width="1"/>
<circle cx="69.85" cy="231.85" r="1.2" fill="#a0a0a0" stroke="none" stroke-width="1"/>
<circle cx="80.93" cy="227.87" r="1.2" fill="#a0a0a0" stroke="none" stroke-width="1"/>
<circle cx="110.74" cy="224.80" r="1.2" fill="#a0a0a0" stroke="none" stroke-width="1"/>
<circle cx="137.95" cy="245.10" r="1.2" fill="#a0a0a0" stroke="none" stroke-width="1"/>
<circle cx="83.64" cy="230.15" r="1.2" fill="#a0a0a0" stroke="none" stroke-width="1"/>
<circle cx="86.73" cy="231.56" r="1.2" fill="#a0a0a0" stroke="none" stroke-width="1"/>
<circle cx="109.71" cy="237.40" r="1.2" fill="#a0a0a0" stroke="none" stroke-width="1"/>
<circle cx="67.99" cy="239.14" r="1.2" fill="#a0a0a0" stroke="none" stroke-width="1"/>
<circle cx="95.56" cy="231.90" r="1.2" fill="#a0a0a0" stroke="none" stroke-width="1"/>
<circle cx="67.89" cy="243.13" r="1.2" fill="#a0a0a0" stroke="none" stroke-width="1"/>
<circle cx="165.32" cy="223.57" r="1.2" fill="#a0a0a0" stroke="none" stroke-width="1"/>
<circle cx="123.52" cy="233.87" r="1.2" fill="#a0a0a0" stroke="none" stroke-width="1"/>
<circle cx="85.99" cy="228.20" r="1.2" fill="#a0a0a0" stroke="none" stroke-width="1"/>
<circle cx="48.55" cy="239.11" r="1.2" fill="#a0a0a0" stroke="none" stroke-width="1"/>
<circle cx="109.79" cy="228.52" r="1.2" fill="#a0a0a0" stroke="none" stroke-width="1"/>
<circle cx="105.60" cy="219.31" r="1.2" fill="#a0a0a0" stroke="none" stroke-width="1"/>
<circle cx="120.19" cy="248.52" r="1.2" fill="#a0a0a0" stroke="none" stroke-width="1"/>
<circle cx="116.51" cy="225.59" r="1.2" fill="#a0a0a0" stroke="none" stroke-width="1"/>
<circle cx="115.65" cy="226.56" r="1.2" fill="#a0a0a0" stroke="none" stroke-width="1"/>
<circle cx="82.93" cy="213.44" r="1.2" fill="#a0a0a0" stroke="none" stroke-width="1"/>
<circle cx="91.97" cy="235.73" r="1.2" fill="#a0a0a0" stroke="none" stroke-width="1"/>
<circle cx="138.71" cy="228.71" r="1.2" fill="#a0a0a0" stroke="none" stroke-width="1"/>
<circle cx="97.95" cy="222.50" r="1.2" fill="#a0a0a0" stroke="none" stroke-width="1"/>
<circle cx="98.92" cy="224.60" r="1.2" fill="#a0a0a0" stroke="none" stroke-width="1"/>
<circle cx="106.82" cy="235.20" r="1.2" fill="#a0a0a0" stroke="none" stroke-width="1"/>
<circle cx="73.35" cy="245.00" r="1.2" fill="#a0a0a0" stroke="none" stroke-width="1"/>
<circle cx="109.60" cy="221.44" r="1.2" fill="#a0a0a0" stroke="none" stroke-width="1"/>
<circle cx="100.83" cy="238.39" r="1.2" fill="#a0a0a0" stroke="none" stroke-width="1"/>
<circle cx="125.70" cy="227.57" r="1.2" fill="#a0a0a0" stroke="none" stroke-width="1"/>
<circle cx="68.79" cy="234.47" r="1.2" fill="#a0a0a0" stroke="none" stroke-width="1"/>
<circle cx="139.27" cy="219.87" r="1.2" fill="#a0a0a0" stroke="none" stroke-width="1"/>
<circle cx="79.47" cy="233.48" r="1.2" fill="#a0a0a0" stroke="none" stroke-width="1"/>
<circle cx="119.91" cy="218.32" r="1.2" fill="#a0a0a0" stroke="none" stroke-width="1"/>
<circle cx="63.24" cy="220.67" r="1.2" fill="#a0a0a0" stroke="none" stroke-width="1"/>
<circle cx="44.83" cy="231.45" r="1.2" fill="#a0a0a0" stroke="none" stroke-width="1"/>
<circle cx="65.30" cy="252.77" r="1.2" fill="#a0a0a0" stroke="none" stroke-width="1"/>
<circle cx="90.80" cy="230.34" r="1.2" fill="#a0a0a0" stroke="none" stroke-width="1"/>
<circle cx="108.64" cy="225.70" r="1.2" fill="#a0a0a0" stroke="none" stroke-width="1"/>
<circle cx="110.63" cy="233.32" r="1.2" fill="#a0a0a0" stroke="none" stroke-width="1"/>
<circle cx="130.92" cy="238.12" r="1.2" fill="#a0a0a0" stroke="none" stroke-width="1"/>
<circle cx="174.64" cy="218.82" r="1.2" fill="#a0a0a0" stroke="none" stroke-width="1"/>
<circle cx="81.64" cy="247.82" r="1.2" fill="#a0a0a0" stroke="none" stroke-width="1"/>
<circle cx="60.41" cy="286.17" r="1.2" fill="#a0a0a0" stroke="none" stroke-width="1"/>
<circle cx="111.64" cy="226.82" r="1.2" fill="#a0a0a0" stroke="none" stroke-width="1"/>
<circle cx="95.60" cy="229.36" r="1.2" fill="#a0a0a0" stroke="none" stroke-width="1"/>
<circle cx="134.44" cy="236.25" r="1.2" fill="#a0a0a0" stroke="none" stroke-width="1"/>
<circle cx="42.41" cy="232.17" r="1.2" fill="#a0a0a0" stroke="none" stroke-width="1"/>
<circle cx="126.11" cy="239.03" r="1.2" fill="#a0a0a0" stroke="none" stroke-width="1"/>
<circle cx="35.54" cy="213.91" r="1.2" fill="#a0a0a0" stroke="none" stroke-width="1"/>
<circle cx="105.71" cy="232.87" r="1.2" fill="#a0a0a0" stroke="none" stroke-width="1"/>
<circle cx="143.94" cy="244.80" r="1.2" fill="#a0a0a0" stroke="none" stroke-width="1"/>
<circle cx="94.16" cy="280.74" r="1.2" fill="#a0a0a0" stroke="none" stroke-width="1"/>
<circle cx="124.96" cy="260.17" r="1.2" fill="#a0a0a0" stroke="none" stroke-width="1"/>
<circle cx="148.28" cy="238.66" r="1.2" fill="#a0a0a0" stroke="none" stroke-width="1"/>
<circle cx="126.10" cy="244.57" r="1.2" fill="#a0a0a0" stroke="none" stroke-width="1"/>
<circle cx="80.60" cy="236.15" r="1.2" fill="#a0a0a0" stroke="none" stroke-width="1"/>
<circle cx="84.78" cy="222.47" r="1.2" fill="#a0a0a0" stroke="none" stroke-width="1"/>
<circle cx="25.69" cy="243.08" r="1.2" fill="#a0a0a0" stroke="none" stroke-width="1"/>
<circle cx="80.80" cy="239.85" r="1.2" fill="#a0a0a0" stroke="none" stroke-width="1"/>
<circle cx="115.70" cy="215.05" r="1.2" fill="#a0a0a0" stroke="none" stroke-width="1"/>
<circle cx="59.12" cy="228.63" r="1.2" fill="#a0a0a0" stroke="none" stroke-width="1"/>
<circle cx="78.81" cy="220.68" r="1.2" fill="#a0a0a0" stroke="none" stroke-width="1"/>
<circle cx="77.09" cy="282.41" r="1.2" fill="#a0a0a0" stroke="none" stroke-width="1"/>
<circle cx="130.00" cy="223.66" r="1.2" fill="#a0a0a0" stroke="none" stroke-width="1"/>
<circle cx="109.38" cy="230.86" r="1.2" fill="#a0a0a0" stroke="none" stroke-width="1"/>
<circle cx="122.60" cy="282.61" r="1.2" fill="#a0a0a0" stroke="none" stroke-width="1"/>
<circle cx="71.51" cy="231.43" r="1.2" fill="#a0a0a0" stroke="none" stroke-width="1"/>
<circle cx="119.21" cy="231.32" r="1.2" fill="#a0a0a0" stroke="none" stroke-width="1"/>
<circle cx="133.41" cy="230.30" r="1.2" fill="#a0a0a0" stroke="none" stroke-width="1"/>
<circle cx="129.16" cy="219.95" r="1.2" fill="#a0a0a0" stroke="none" stroke-width="1"/>
<circle cx="95.22" cy="221.16" r="1.2" fill="#a0a0a0" stroke="none" stroke-width="1"/>
<circle cx="51.42" cy="231.91" r="1.2" fill="#a0a0a0" stroke="none" stroke-width="1"/>
<circle cx="81.25" cy="229.33" r="1.2" fill="#a0a0a0" stroke="none" stroke-width="1"/>
<circle cx="104.07" cy="231.65" r="1.2" fill="#a0a0a0" stroke="none" stroke-width="1"/>
<circle cx="94.05" cy="239.02" r="1.2" fill="#a0a0a0" stroke="none" stroke-width="1"/>
<circle cx="116.08" cy="235.39" r="1.2" fill="#a0a0a0" stroke="none" stroke-width="1"/>
<circle cx="131.71" cy="225.02" r="1.2" fill="#a0a0a0" stroke="none" stroke-width="1"/>
<circle cx="111.73" cy="212.93" r="1.2" fill="#a0a0a0" stroke="none" stroke-width="1"/>
<circle cx="105.81" cy="233.95" r="1.2" fill="#a0a0a0" stroke="none" stroke-width="1"/>
<circle cx="121.17" cy="237.06" r="1.2" fill="#a0a0a0" stroke="none" stroke-width="1"/>
<circle cx="102.62" cy="231.89" r="1.2" fill="#a0a0a0" stroke="none" stroke-width="1"/>
<circle cx="108.16" cy="251.89" r="1.2" fill="#a0a0a0" stroke="none" stroke-width="1"/>
<circle cx="145.01" cy="243.04" r="1.2" fill="#a0a0a0" stroke="none" stroke-width="1"/>
<circle cx="124.59" cy="221.12" r="1.2" fill="#a0a0a0" stroke="none" stroke-width="1"/>
<circle cx="174.01" cy="221.59" r="1.2" fill="#a0a0a0" stroke="none" stroke-width="1"/>
<circle cx="105.86" cy="279.76" r="1.2" fill="#a0a0a0" stroke="none" stroke-width="1"/>
<circle cx="115.36" cy="229.93" r="1.2" fill="#a0a0a0" stroke="none" stroke-width="1"/>
<circle cx="141.47" cy="223.91" r="1.2" fill="#a0a0a0" stroke="none" stroke-width="1"/>
<circle cx="144.88" cy="226.11" r="1.2" fill="#a0a0a0" stroke="none" stroke-width="1"/>
<circle cx="106.10" cy="303.51" r="1.2" fill="#a0a0a0" stroke="none" stroke-width="1"/>
<circle cx="106.15" cy="220.08" r="1.2" fill="#a0a0a0" stroke="none" stroke-width="1"/>
<circle cx="88.38" cy="220.47" r="1.2" fill="#a0a0a0" stroke="none" stroke-width="1"/>
<circle cx="120.51" cy="243.76" r="1.2" fill="#a0a0a0" stroke="none" stroke-width="1"/>
<circle cx="115.42" cy="217.09" r="1.2" fill="#a0a0a0" stroke="none" stroke-width="1"/>
<circle cx="128.94" cy="227.18" r="1.2" fill="#a0a0a0" stroke="none" stroke-width="1"/>
<circle cx="99.36" cy="229.49" r="1.2" fill="#a0a0a0" stroke="none" stroke-width="1"/>
<circle cx="90.50" cy="230.00" r="1.2" fill="#a0a0a0" stroke="none" stroke-width="1"/>
<circle cx="348.69" cy="340.42" r="1.25" fill="#505050" stroke="none" stroke-width="1"/>
<circle cx="319.53" cy="271.61" r="1.25" fill="#505050" stroke="none" stroke-width="1"/>
<circle cx="325.31" cy="246.97" r="1.25" fill="#505050" stroke="none" stroke-width="1"/>
<circle cx="352.37" cy="286.20" r="1.25" fill="#505050" stroke="none" stroke-width="1"/>
<circle cx="267.63" cy="335.62" r="1.25" fill="#505050" stroke="none" stroke-width="1"/>
<circle cx="358.91" cy="288.30" r="1.25" fill="#505050" stroke="none" stroke-width="1"/>
<circle cx="342.52" cy="311.18" r="1.25" fill="#505050" stroke="none" stroke-width="1"/>
<circle cx="344.95" cy="267.52" r="1.25" fill="#505050" stroke="none" stroke-width="1"/>
<circle cx="347.96" cy="275.93" r="1.25" fill="#505050" stroke="none" stroke-width="1"/>
<circle cx="333.61" cy="357.18" r="1.25" fill="#505050" stroke="none" stroke-width="1"/>
<circle cx="325.00" cy="307.76" r="1.25" fill="#505050" stroke="none" stroke-width="1"/>
<circle cx="318.64" cy="257.71" r="1.25" fill="#505050" stroke="none" stroke-width="1"/>
<circle cx="331.37" cy="268.01" r="1.25" fill="#505050" stroke="none" stroke-width="1"/>
<circle cx="301.56" cy="240.21" r="1.25" fill="#505050" stroke="none" stroke-width="1"/>
<circle cx="348.43" cy="307.69" r="1.25" fill="#505050" stroke="none" stroke-width="1"/>
<circle cx="318.43" cy="355.01" r="1.25" fill="#505050" stroke="none" stroke-width="1"/>
<circle cx="313.66" cy="285.78" r="1.25" fill="#505050" stroke="none" stroke-width="1"/>
<circle cx="261.35" cy="353.42" r="1.25" fill="#505050" stroke="none" stroke-width="1"/>
<circle cx="350.73" cy="277.25" r="1.25" fill="#505050" stroke="none" stroke-width="1"/>
<circle cx="340.22" cy="360.18" r="1.25" fill="#505050" stroke="none" stroke-width="1"/>
<circle cx="320.68" cy="305.19" r="1.25" fill="#505050" stroke="none" stroke-width="1"/>
<circle cx="308.25" cy="264.81" r="1.25" fill="#505050" stroke="none" stroke-width="1"/>
<circle cx="351.90" cy="352.16" r="1.25" fill="#505050" stroke="none" stroke-width="1"/>
<circle cx="326.13" cy="253.80" r="1.25" fill="#505050" stroke="none" stroke-width="1"/>
<circle cx="329.87" cy="256.87" r="1.25" fill="#505050" stroke="none" stroke-width="1"/>
<circle cx="369.75" cy="350.27" r="1.25" fill="#505050" stroke="none" stroke-width="1"/>
<circle cx="272.24" cy="339.34" r="1.25" fill="#505050" stroke="none" stroke-width="1"/>
<circle cx="298.82" cy="342.15" r="1.25" fill="#505050" stroke="none" stroke-width="1"/>
<circle cx="338.49" cy="231.85" r="1.25" fill="#505050" stroke="none" stroke-width="1"/>
<circle cx="332.71" cy="294.92" r="1.25" fill="#505050" stroke="none" stroke-width="1"/>
<circle cx="297.63" cy="288.50" r="1.25" fill="#505050" stroke="none" stroke-width="1"/>
<circle cx="343.49" cy="295.73" r="1.25" fill="#505050" stroke="none" stroke-width="1"/>
<circle cx="363.99" cy="266.51" r="1.25" fill="#505050" stroke="none" stroke-width="1"/>
<circle cx="345.86" cy="294.36" r="1.25" fill="#505050" stroke="none" stroke-width="1"/>
<circle cx="298.20" cy="337.85" r="1.25" fill="#505050" stroke="none" stroke-width="1"/>
<circle cx="320.20" cy="251.09" r="1.25" fill="#505050" stroke="none" stroke-width="1"/>
<circle cx="343.70" cy="343.58" r="1.25" fill="#505050" stroke="none" stroke-width="1"/>
<circle cx="326.96" cy="263.21" r="1.25" fill="#505050" stroke="none" stroke-width="1"/>
<circle cx="308.61" cy="254.95" r="1.25" fill="#505050" stroke="none" stroke-width="1"/>
<circle cx="334.77" cy="267.09" r="1.25" fill="#505050" stroke="none" stroke-width="1"/>
<circle cx="362.34" cy="315.01" r="1.25" fill="#505050" stroke="none" stroke-width="1"/>
<circle cx="314.98" cy="312.19" r="1.25" fill="#505050" stroke="none" stroke-width="1"/>
<circle cx="353.05" cy="341.74" r="1.25" fill="#505050" stroke="none" stroke-width="1"/>
<circle cx="347.64" cy="329.74" r="1.25" fill="#505050" stroke="none" stroke-width="1"/>
<circle cx="323.49" cy="313.36" r="1.25" fill="#505050" stroke="none" stroke-width="1"/>
<circle cx="312.69" cy="268.08" r="1.25" fill="#505050" stroke="none" stroke-width="1"/>
<circle cx="365.60" cy="265.03" r="1.25" fill="#505050" stroke="none" stroke-width="1"/>
<circle cx="318.07" cy="331.73" r="1.25" fill="#505050" stroke="none" stroke-width="1"/>
<circle cx="320.95" cy="278.04" r="1.25" fill="#505050" stroke="none" stroke-width="1"/>
<circle cx="345.71" cy="310.46" r="1.25" fill="#505050" stroke="none" stroke-width="1"/>
<circle cx="325.17" cy="331.62" r="1.25" fill="#505050" stroke="none" stroke-width="1"/>
<circle cx="296.07" cy="247.02" r="1.25" fill="#505050" stroke="none" stroke-width="1"/>
<circle cx="328.15" cy="266.85" r="1.25" fill="#505050" stroke="none" stroke-width="1"/>
<circle cx="350.18" cy="328.35" r="1.25" fill="#505050" stroke="none" stroke-width="1"/>
<circle cx="332.30" cy="344.99" r="1.25" fill="#505050" stroke="none" stroke-width="1"/>
<circle cx="363.97" cy="332.84" r="1.25" fill="#505050" stroke="none" stroke-width="1"/>
<circle cx="321.52" cy="307.97" r="1.25" fill="#505050" stroke="none" stroke-width="1"/>
<circle cx="350.82" cy="320.69" r="1.25" fill="#505050" stroke="none" stroke-width="1"/>
<circle cx="354.69" cy="325.52" r="1.25" fill="#505050" stroke="none" stroke-width="1"/>
<circle cx="332.11" cy="235.90" r="1.25" fill="#505050" stroke="none" stroke-width="1"/>
<circle cx="297.51" cy="307.07" r="1.25" fill="#505050" stroke="none" stroke-width="1"/>
<circle cx="336.37" cy="260.65" r="1.25" fill="#505050" stroke="none" stroke-width="1"/>
<circle cx="333.49" cy="284.96" r="1.25" fill="#505050" stroke="none" stroke-width="1"/>
<circle cx="336.60" cy="357.65" r="1.25" fill="#505050" stroke="none" stroke-width="1"/>
<circle cx="331.41" cy="287.45" r="1.25" fill="#505050" stroke="none" stroke-width="1"/>
<circle cx="329.21" cy="345.18" r="1.25" fill="#505050" stroke="none" stroke-width="1"/>
<circle cx="332.00" cy="315.70" r="1.25" fill="#505050" stroke="none" stroke-width="1"/>
<circle cx="348.20" cy="362.85" r="1.25" fill="#505050" stroke="none" stroke-width="1"/>
<circle cx="331.71" cy="319.77" r="1.25" fill="#505050" stroke="none" stroke-width="1"/>
<circle cx="341.86" cy="317.53" r="1.25" fill="#505050" stroke="none" stroke-width="1"/>
<circle cx="330.55" cy="354.05" r="1.25" fill="#505050" stroke="none" stroke-width="1"/>
<circle cx="285.79" cy="307.65" r="1.25" fill="#505050" stroke="none" stroke-width="1"/>
<circle cx="316.23" cy="231.00" r="1.25" fill="#505050" stroke="none" stroke-width="1"/>
<circle cx="347.04" cy="346.73" r="1.25" fill="#505050" stroke="none" stroke-width="1"/>
<circle cx="348.12" cy="252.05" r="1.25" fill="#505050" stroke="none" stroke-width="1"/>
<circle cx="322.14" cy="312.68" r="1.25" fill="#505050" stroke="none" stroke-width="1"/>
<circle cx="360.48" cy="277.14" r="1.25" fill="#505050" stroke="none" stroke-width="1"/>
<circle cx="348.97" cy="279.94" r="1.25" fill="#505050" stroke="none" stroke-width="1"/>
<circle cx="340.20" cy="284.24" r="1.25" fill="#505050" stroke="none" stroke-width="1"/>
<circle cx="338.39" cy="283.19" r="1.25" fill="#505050" stroke="none" stroke-width="1"/>
<circle cx="334.95" cy="304.89" r="1.25" fill="#505050" stroke="none" stroke-width="1"/>
<circle cx="325.44" cy="310.69" r="1.25" fill="#505050" stroke="none" stroke-width="1"/>
<circle cx="310.12" cy="286.00" r="1.25" fill="#505050" stroke="none" stroke-width="1"/>
<circle cx="320.57" cy="303.61" r="1.25" fill="#505050" stroke="none" stroke-width="1"/>
<circle cx="305.71" cy="251.98" r="1.25" fill="#505050" stroke="none" stroke-width="1"/>
<circle cx="305.75" cy="286.06" r="1.25" fill="#505050" stroke="none" stroke-width="1"/>
<circle cx="336.36" cy="261.58" r="1.25" fill="#505050" stroke="none" stroke-width="1"/>
<circle cx="347.66" cy="293.21" r="1.25" fill="#505050" stroke="none" stroke-width="1"/>
<circle cx="337.26" cy="360.08" r="1.25" fill="#505050" stroke="none" stroke-width="1"/>
<circle cx="318.85" cy="261.81" r="1.25" fill="#505050" stroke="none" stroke-width="1"/>
<circle cx="349.22" cy="294.91" r="1.25" fill="#505050" stroke="none" stroke-width="1"/>
<circle cx="313.95" cy="345.03" r="1.25" fill="#505050" stroke="none" stroke-width="1"/>
<circle cx="318.72" cy="298.40" r="1.25" fill="#505050" stroke="none" stroke-width="1"/>
<circle cx="282.99" cy="271.78" r="1.25" fill="#505050" stroke="none" stroke-width="1"/>
<circle cx="355.13" cy="244.99" r="1.25" fill="#505050" stroke="none" stroke-width="1"/>
<circle cx="327.20" cy="290.42" r="1.25" fill="#505050" stroke="none" stroke-width="1"/>
<circle cx="311.89" cy="246.60" r="1.25" fill="#505050" stroke="none" stroke-width="1"/>
<circle cx="348.08" cy="327.61" r="1.25" fill="#505050" stroke="none" stroke-width="1"/>
<circle cx="312.43" cy="305.27" r="1.25" fill="#505050" stroke="none" stroke-width="1"/>
<circle cx="315.82" cy="280.47" r="1.25" fill="#505050" stroke="none" stroke-width="1"/>
<circle cx="369.75" cy="326.13" r="1.25" fill="#505050" stroke="none" stroke-width="1"/>
<circle cx="343.84" cy="292.22" r="1.25" fill="#505050" stroke="none" stroke-width="1"/>
<circle cx="333.95" cy="349.57" r="1.25" fill="#505050" stroke="none" stroke-width="1"/>
<circle cx="272.93" cy="267.30" r="1.25" fill="#505050" stroke="none" stroke-width="1"/>
<circle cx="305.61" cy="291.22" r="1.25" fill="#505050" stroke="none" stroke-width="1"/>
<circle cx="324.92" cy="259.84" r="1.25" fill="#505050" stroke="none" stroke-width="1"/>
<circle cx="290.00" cy="353.83" r="1.25" fill="#505050" stroke="none" stroke-width="1"/>
<circle cx="326.07" cy="309.11" r="1.25" fill="#505050" stroke="none" stroke-width="1"/>
<circle cx="299.38" cy="299.17" r="1.25" fill="#505050" stroke="none" stroke-width="1"/>
<circle cx="342.92" cy="320.02" r="1.25" fill="#505050" stroke="none" stroke-width="1"/>
<circle cx="317.29" cy="310.60" r="1.25" fill="#505050" stroke="none" stroke-width="1"/>
<circle cx="270.77" cy="271.85" r="1.25" fill="#505050" stroke="none" stroke-width="1"/>
<circle cx="343.63" cy="230.24" r="1.25" fill="#505050" stroke="none" stroke-width="1"/>
<circle cx="356.37" cy="313.02" r="1.25" fill="#505050" stroke="none" stroke-width="1"/>
<circle cx="323.61" cy="337.23" r="1.25" fill="#505050" stroke="none" stroke-width="1"/>
<circle cx="318.79" cy="236.86" r="1.25" fill="#505050" stroke="none" stroke-width="1"/>
<circle cx="366.82" cy="350.32" r="1.25" fill="#505050" stroke="none" stroke-width="1"/>
<circle cx="304.99" cy="269.90" r="1.25" fill="#505050" stroke="none" stroke-width="1"/>
<circle cx="304.79" cy="331.48" r="1.25" fill="#505050" stroke="none" stroke-width="1"/>
<circle cx="343.61" cy="304.91" r="1.25" fill="#505050" stroke="none" stroke-width="1"/>
<circle cx="335.11" cy="348.78" r="1.25" fill="#505050" stroke="none" stroke-width="1"/>
<circle cx="343.30" cy="300.42" r="1.25" fill="#505050" stroke="none" stroke-width="1"/>
<circle cx="332.70" cy="312.86" r="1.25" fill="#505050" stroke="none" stroke-width="1"/>
<circle cx="369.75" cy="347.40" r="1.25" fill="#505050" stroke="none" stroke-width="1"/>
<circle cx="335.87" cy="266.59" r="1.25" fill="#505050" stroke="none" stroke-width="1"/>
<circle cx="263.72" cy="240.32" r="1.25" fill="#505050" stroke="none" stroke-width="1"/>
<circle cx="352.38" cy="303.44" r="1.25" fill="#505050" stroke="none" stroke-width="1"/>
<circle cx="261.04" cy="248.09" r="1.25" fill="#505050" stroke="none" stroke-width="1"/>
<circle cx="316.84" cy="263.05" r="1.25" fill="#505050" stroke="none" stroke-width="1"/>
<circle cx="339.18" cy="356.16" r="1.25" fill="#505050" stroke="none" stroke-width="1"/>
<circle cx="306.89" cy="252.24" r="1.25" fill="#505050" stroke="none" stroke-width="1"/>
<circle cx="330.34" cy="278.26" r="1.25" fill="#505050" stroke="none" stroke-width="1"/>
<circle cx="351.98" cy="354.95" r="1.25" fill="#505050" stroke="none" stroke-width="1"/>
<circle cx="330.25" cy="256.15" r="1.25" fill="#505050" stroke="none" stroke-width="1"/>
<circle cx="332.93" cy="345.27" r="1.25" fill="#505050" stroke="none" stroke-width="1"/>
<circle cx="350.50" cy="328.16" r="1.25" fill="#505050" stroke="none" stroke-width="1"/>
<circle cx="331.64" cy="300.65" r="1.25" fill="#505050" stroke="none" stroke-width="1"/>
<circle cx="323.57" cy="259.17" r="1.25" fill="#505050" stroke="none" stroke-width="1"/>
<circle cx="316.99" cy="264.17" r="1.25" fill="#505050" stroke="none" stroke-width="1"/>
<circle cx="349.53" cy="334.66" r="1.25" fill="#505050" stroke="none" stroke-width="1"/>
<circle cx="307.59" cy="297.61" r="1.25" fill="#505050" stroke="none" stroke-width="1"/>
<circle cx="327.85" cy="254.06" r="1.25" fill="#505050" stroke="none" stroke-width="1"/>
<circle cx="325.71" cy="260.36" r="1.25" fill="#505050" stroke="none" stroke-width="1"/>
<circle cx="341.89" cy="298.94" r="1.25" fill="#505050" stroke="none" stroke-width="1"/>
<circle cx="331.10" cy="256.19" r="1.25" fill="#505050" stroke="none" stroke-width="1"/>
<circle cx="348.23" cy="251.46" r="1.25" fill="#505050" stroke="none" stroke-width="1"/>
<circle cx="322.14" cy="303.19" r="1.25" fill="#505050" stroke="none" stroke-width="1"/>
<circle cx="353.44" cy="330.35" r="1.25" fill="#505050" stroke="none" stroke-width="1"/>
<circle cx="333.08" cy="255.33" r="1.25" fill="#505050" stroke="none" stroke-width="1"/>
<circle cx="360.09" cy="342.01" r="1.25" fill="#505050" stroke="none" stroke-width="1"/>
<circle cx="325.90" cy="254.44" r="1.25" fill="#505050" stroke="none" stroke-width="1"/>
<circle cx="312.81" cy="361.92" r="1.25" fill="#505050" stroke="none" stroke-width="1"/>
<circle cx="289.47" cy="285.58" r="1.25" fill="#505050" stroke="none" stroke-width="1"/>
<circle cx="318.00" cy="255.01" r="1.25" fill="#505050" stroke="none" stroke-width="1"/>
<circle cx="307.03" cy="233.61" r="1.25" fill="#505050" stroke="none" stroke-width="1"/>
<circle cx="314.81" cy="260.49" r="1.25" fill="#505050" stroke="none" stroke-width="1"/>
<circle cx="336.53" cy="255.95" r="1.25" fill="#505050" stroke="none" stroke-width="1"/>
<circle cx="335.57" cy="276.92" r="1.25" fill="#505050" stroke="none" stroke-width="1"/>
<circle cx="358.81" cy="278.77" r="1.25" fill="#505050" stroke="none" stroke-width="1"/>
<circle cx="346.13" cy="252.42" r="1.25" fill="#505050" stroke="none" stroke-width="1"/>
<circle cx="320.38" cy="353.41" r="1.25" fill="#505050" stroke="none" stroke-width="1"/>
<circle cx="354.83" cy="356.25" r="1.25" fill="#505050" stroke="none" stroke-width="1"/>
<circle cx="351.02" cy="275.09" r="1.25" fill="#505050" stroke="none" stroke-width="1"/>
<circle cx="336.33" cy="319.23" r="1.25" fill="#505050" stroke="none" stroke-width="1"/>
<circle cx="309.04" cy="261.20" r="1.25" fill="#505050" stroke="none" stroke-width="1"/>
<circle cx="329.48" cy="362.74" r="1.25" fill="#505050" stroke="none" stroke-width="1"/>
<circle cx="357.23" cy="317.42" r="1.25" fill="#505050" stroke="none" stroke-width="1"/>
<circle cx="320.64" cy="286.41" r="1.25" fill="#505050" stroke="none" stroke-width="1"/>
<circle cx="287.98" cy="252.95" r="1.25" fill="#505050" stroke="none" stroke-width="1"/>
<circle cx="351.25" cy="280.63" r="1.25" fill="#505050" stroke="none" stroke-width="1"/>
<circle cx="282.96" cy="266.67" r="1.25" fill="#505050" stroke="none" stroke-width="1"/>
<circle cx="340.17" cy="330.74" r="1.25" fill="#505050" stroke="none" stroke-width="1"/>
<circle cx="318.44" cy="337.89" r="1.25" fill="#505050" stroke="none" stroke-width="1"/>
<circle cx="369.75" cy="339.24" r="1.25" fill="#505050" stroke="none" stroke-width="1"/>
<circle cx="344.02" cy="303.65" r="1.25" fill="#505050" stroke="none" stroke-width="1"/>
<circle cx="328.82" cy="239.42" r="1.25" fill="#505050" stroke="none" stroke-width="1"/>
<circle cx="302.08" cy="221.76" r="1.25" fill="#505050" stroke="none" stroke-width="1"/>
<circle cx="339.67" cy="262.05" r="1.25" fill="#505050" stroke="none" stroke-width="1"/>
<circle cx="328.04" cy="344.83" r="1.25" fill="#505050" stroke="none" stroke-width="1"/>
<circle cx="249.56" cy="284.60" r="1.25" fill="#505050" stroke="none" stroke-width="1"/>
<circle cx="363.25" cy="348.14" r="1.25" fill="#505050" stroke="none" stroke-width="1"/>
<circle cx="356.45" cy="285.24" r="1.25" fill="#505050" stroke="none" stroke-width="1"/>
<circle cx="311.72" cy="291.09" r="1.25" fill="#505050" stroke="none" stroke-width="1"/>
<circle cx="320.22" cy="223.19" r="1.25" fill="#505050" stroke="none" stroke-width="1"/>
<circle cx="326.14" cy="287.75" r="1.25" fill="#505050" stroke="none" stroke-width="1"/>
<circle cx="292.46" cy="309.77" r="1.25" fill="#505050" stroke="none" stroke-width="1"/>
<circle cx="322.10" cy="282.01" r="1.25" fill="#505050" stroke="none" stroke-width="1"/>
<circle cx="317.51" cy="253.29" r="1.25" fill="#505050" stroke="none" stroke-width="1"/>
<circle cx="325.77" cy="361.41" r="1.25" fill="#505050" stroke="none" stroke-width="1"/>
<circle cx="336.66" cy="243.86" r="1.25" fill="#505050" stroke="none" stroke-width="1"/>
<circle cx="343.30" cy="279.12" r="1.25" fill="#505050" stroke="none" stroke-width="1"/>
<circle cx="347.29" cy="290.71" r="1.25" fill="#505050" stroke="none" stroke-width="1"/>
<circle cx="361.53" cy="279.07" r="1.25" fill="#505050" stroke="none" stroke-width="1"/>
<circle cx="307.53" cy="280.83" r="1.25" fill="#505050" stroke="none" stroke-width="1"/>
<circle cx="316.56" cy="331.85" r="1.25" fill="#505050" stroke="none" stroke-width="1"/>
<circle cx="333.69" cy="295.44" r="1.25" fill="#505050" stroke="none" stroke-width="1"/>
<circle cx="254.55" cy="300.87" r="1.25" fill="#505050" stroke="none" stroke-width="1"/>
<circle cx="334.20" cy="265.19" r="1.25" fill="#505050" stroke="none" stroke-width="1"/>
<circle cx="311.38" cy="329.77" r="1.25" fill="#505050" stroke="none" stroke-width="1"/>
<circle cx="302.76" cy="297.69" r="1.25" fill="#505050" stroke="none" stroke-width="1"/>
<circle cx="357.97" cy="313.76" r="1.25" fill="#505050" stroke="none" stroke-width="1"/>
<circle cx="335.66" cy="295.66" r="1.25" fill="#505050" stroke="none" stroke-width="1"/>
<circle cx="356.51" cy="278.73" r="1.25" fill="#505050" stroke="none" stroke-width="1"/>
<circle cx="317.91" cy="319.65" r="1.25" fill="#505050" stroke="none" stroke-width="1"/>
<circle cx="334.97" cy="334.49" r="1.25" fill="#505050" stroke="none" stroke-width="1"/>
<circle cx="331.97" cy="340.62" r="1.25" fill="#505050" stroke="none" stroke-width="1"/>
<circle cx="368.37" cy="366.36" r="1.25" fill="#505050" stroke="none" stroke-width="1"/>
<circle cx="328.67" cy="320.17" r="1.25" fill="#505050" stroke="none" stroke-width="1"/>
<circle cx="333.38" cy="263.69" r="1.25" fill="#505050" stroke="none" stroke-width="1"/>
<circle cx="339.88" cy="301.74" r="1.25" fill="#505050" stroke="none" stroke-width="1"/>
<circle cx="346.25" cy="296.94" r="1.25" fill="#505050" stroke="none" stroke-width="1"/>
<circle cx="332.42" cy="315.60" r="1.25" fill="#505050" stroke="none" stroke-width="1"/>
<circle cx="314.11" cy="308.68" r="1.25" fill="#505050" stroke="none" stroke-width="1"/>
<circle cx="335.84" cy="363.48" r="1.25" fill="#505050" stroke="none" stroke-width="1"/>
<circle cx="327.20" cy="242.22" r="1.25" fill="#505050" stroke="none" stroke-width="1"/>
<circle cx="334.99" cy="286.05" r="1.25" fill="#505050" stroke="none" stroke-width="1"/>
<circle cx="323.30" cy="332.29" r="1.25" fill="#505050" stroke="none" stroke-width="1"/>
<circle cx="310.16" cy="316.10" r="1.25" fill="#505050" stroke="none" stroke-width="1"/>
<circle cx="320.06" cy="270.92" r="1.25" fill="#505050" stroke="none" stroke-width="1"/>
<circle cx="344.17" cy="283.69" r="1.25" fill="#505050" stroke="none" stroke-width="1"/>
<circle cx="271.13" cy="285.39" r="1.25" fill="#505050" stroke="none" stroke-width="1"/>
<circle cx="329.15" cy="217.94" r="1.25" fill="#505050" stroke="none" stroke-width="1"/>
<circle cx="325.21" cy="339.80" r="1.25" fill="#505050" stroke="none" stroke-width="1"/>
<circle cx="358.17" cy="315.79" r="1.25" fill="#505050" stroke="none" stroke-width="1"/>
<circle cx="325.01" cy="275.75" r="1.25" fill="#505050" stroke="none" stroke-width="1"/>
<circle cx="309.18" cy="289.90" r="1.25" fill="#505050" stroke="none" stroke-width="1"/>
<circle cx="325.37" cy="316.17" r="1.25" fill="#505050" stroke="none" stroke-width="1"/>
<circle cx="325.06" cy="320.27" r="1.25" fill="#505050" stroke="none" stroke-width="1"/>
<circle cx="324.56" cy="239.36" r="1.25" fill="#505050" stroke="none" stroke-width="1"/>
<circle cx="335.52" cy="288.36" r="1.25" fill="#505050" stroke="none" stroke-width="1"/>
<circle cx="334.44" cy="319.18" r="1.25" fill="#505050" stroke="none" stroke-width="1"/>
<circle cx="336.34" cy="303.50" r="1.25" fill="#505050" stroke="none" stroke-width="1"/>
<circle cx="322.43" cy="291.59" r="1.25" fill="#505050" stroke="none" stroke-width="1"/>
<circle cx="338.94" cy="304.98" r="1.25" fill="#505050" stroke="none" stroke-width="1"/>
<circle cx="330.31" cy="306.18" r="1.25" fill="#505050" stroke="none" stroke-width="1"/>
<circle cx="316.03" cy="285.94" r="1.25" fill="#505050" stroke="none" stroke-width="1"/>
<circle cx="323.43" cy="324.73" r="1.25" fill="#505050" stroke="none" stroke-width="1"/>
<circle cx="337.62" cy="317.02" r="1.25" fill="#505050" stroke="none" stroke-width="1"/>
<circle cx="314.36" cy="238.81" r="1.25" fill="#505050" stroke="none" stroke-width="1"/>
<circle cx="308.64" cy="235.79" r="1.25" fill="#505050" stroke="none" stroke-width="1"/>
<circle cx="334.29" cy="273.96" r="1.25" fill="#505050" stroke="none" stroke-width="1"/>
<circle cx="341.27" cy="302.52" r="1.25" fill="#505050" stroke="none" stroke-width="1"/>
<circle cx="319.33" cy="277.71" r="1.25" fill="#505050" stroke="none" stroke-width="1"/>
<circle cx="354.89" cy="324.17" r="1.25" fill="#505050" stroke="none" stroke-width="1"/>
<circle cx="336.06" cy="299.31" r="1.25" fill="#505050" stroke="none" stroke-width="1"/>
<circle cx="304.06" cy="301.76" r="1.25" fill="#505050" stroke="none" stroke-width="1"/>
<circle cx="330.66" cy="271.00" r="1.25" fill="#505050" stroke="none" stroke-width="1"/>
<circle cx="334.96" cy="320.98" r="1.25" fill="#505050" stroke="none" stroke-width="1"/>
<circle cx="305.41" cy="281.14" r="1.25" fill="#505050" stroke="none" stroke-width="1"/>
<circle cx="315.83" cy="273.91" r="1.25" fill="#505050" stroke="none" stroke-width="1"/>
<circle cx="369.75" cy="238.20" r="1.25" fill="#505050" stroke="none" stroke-width="1"/>
<circle cx="324.50" cy="277.95" r="1.25" fill="#505050" stroke="none" stroke-width="1"/>
<circle cx="369.75" cy="354.33" r="1.25" fill="#505050" stroke="none" stroke-width="1"/>
<circle cx="300.24" cy="262.04" r="1.25" fill="#505050" stroke="none" stroke-width="1"/>
<circle cx="348.23" cy="247.02" r="1.25" fill="#505050" stroke="none" stroke-width="1"/>
<circle cx="309.27" cy="347.63" r="1.25" fill="#505050" stroke="none" stroke-width="1"/>
<circle cx="268.99" cy="302.16" r="1.25" fill="#505050" stroke="none" stroke-width="1"/>
<circle cx="323.99" cy="308.35" r="1.25" fill="#505050" stroke="none" stroke-width="1"/>
<circle cx="342.31" cy="313.72" r="1.25" fill="#505050" stroke="none" stroke-width="1"/>
<circle cx="324.28" cy="363.47" r="1.25" fill="#505050" stroke="none" stroke-width="1"/>
<circle cx="334.52" cy="303.15" r="1.25" fill="#505050" stroke="none" stroke-width="1"/>
<circle cx="338.34" cy="255.67" r="1.25" fill="#505050" stroke="none" stroke-width="1"/>
<circle cx="327.53" cy="221.22" r="1.25" fill="#505050" stroke="none" stroke-width="1"/>
<circle cx="333.80" cy="299.70" r="1.25" fill="#505050" stroke="none" stroke-width="1"/>
<circle cx="297.40" cy="259.64" r="1.25" fill="#505050" stroke="none" stroke-width="1"/>
<circle cx="304.21" cy="312.75" r="1.25" fill="#505050" stroke="none" stroke-width="1"/>
<circle cx="318.45" cy="270.27" r="1.25" fill="#505050" stroke="none" stroke-width="1"/>
<circle cx="358.43" cy="262.60" r="1.25" fill="#505050" stroke="none" stroke-width="1"/>
<circle cx="328.91" cy="236.23" r="1.25" fill="#505050" stroke="none" stroke-width="1"/>
<circle cx="332.94" cy="228.33" r="1.25" fill="#505050" stroke="none" stroke-width="1"/>
<circle cx="349.03" cy="283.19" r="1.25" fill="#505050" stroke="none" stroke-width="1"/>
<circle cx="323.44" cy="305.69" r="1.25" fill="#505050" stroke="none" stroke-width="1"/>
<circle cx="320.22" cy="241.56" r="1.25" fill="#505050" stroke="none" stroke-width="1"/>
<circle cx="354.77" cy="332.03" r="1.25" fill="#505050" stroke="none" stroke-width="1"/>
<circle cx="317.27" cy="315.70" r="1.25" fill="#505050" stroke="none" stroke-width="1"/>
<circle cx="318.57" cy="257.74" r="1.25" fill="#505050" stroke="none" stroke-width="1"/>
<circle cx="343.30" cy="274.26" r="1.25" fill="#505050" stroke="none" stroke-width="1"/>
<circle cx="306.08" cy="306.14" r="1.25" fill="#505050" stroke="none" stroke-width="1"/>
<circle cx="325.79" cy="342.36" r="1.25" fill="#505050" stroke="none" stroke-width="1"/>
<circle cx="349.49" cy="315.20" r="1.25" fill="#505050" stroke="none" stroke-width="1"/>
<circle cx="335.74" cy="365.72" r="1.25" fill="#505050" stroke="none" stroke-width="1"/>
<circle cx="326.19" cy="259.63" r="1.25" fill="#505050" stroke="none" stroke-width="1"/>
<circle cx="326.95" cy="221.66" r="1.25" fill="#505050" stroke="none" stroke-width="1"/>
<circle cx="312.30" cy="281.60" r="1.25" fill="#505050" stroke="none" stroke-width="1"/>
<circle cx="322.08" cy="260.50" r="1.25" fill="#505050" stroke="none" stroke-width="1"/>
<circle cx="319.52" cy="331.00" r="1.25" fill="#505050" stroke="none" stroke-width="1"/>
<circle cx="335.64" cy="290.09" r="1.25" fill="#505050" stroke="none" stroke-width="1"/>
<circle cx="324.76" cy="343.26" r="1.25" fill="#505050" stroke="none" stroke-width="1"/>
<circle cx="318.91" cy="343.97" r="1.25" fill="#505050" stroke="none" stroke-width="1"/>
<circle cx="333.32" cy="313.29" r="1.25" fill="#505050" stroke="none" stroke-width="1"/>
<circle cx="330.06" cy="322.46" r="1.25" fill="#505050" stroke="none" stroke-width="1"/>
<circle cx="303.73" cy="348.78" r="1.25" fill="#505050" stroke="none" stroke-width="1"/>
<circle cx="319.29" cy="351.48" r="1.25" fill="#505050" stroke="none" stroke-width="1"/>
<circle cx="324.54" cy="322.47" r="1.25" fill="#505050" stroke="none" stroke-width="1"/>
<circle cx="343.36" cy="342.70" r="1.25" fill="#505050" stroke="none" stroke-width="1"/>
<circle cx="335.80" cy="253.84" r="1.25" fill="#505050" stroke="none" stroke-width="1"/>
<circle cx="327.90" cy="289.43" r="1.25" fill="#505050" stroke="none" stroke-width="1"/>
<circle cx="343.23" cy="325.92" r="1.25" fill="#505050" stroke="none" stroke-width="1"/>
<circle cx="333.04" cy="229.06" r="1.25" fill="#505050" stroke="none" stroke-width="1"/>
<circle cx="329.54" cy="264.09" r="1.25" fill="#505050" stroke="none" stroke-width="1"/>
<circle cx="355.87" cy="279.99" r="1.25" fill="#505050" stroke="none" stroke-width="1"/>
<circle cx="308.08" cy="278.31" r="1.25" fill="#505050" stroke="none" stroke-width="1"/>
<circle cx="335.37" cy="286.08" r="1.25" fill="#505050" stroke="none" stroke-width="1"/>
<circle cx="322.22" cy="247.80" r="1.25" fill="#505050" stroke="none" stroke-width="1"/>
<circle cx="359.26" cy="244.92" r="1.25" fill="#505050" stroke="none" stroke-width="1"/>
<circle cx="353.94" cy="288.43" r="1.25" fill="#505050" stroke="none" stroke-width="1"/>
<circle cx="346.83" cy="353.49" r="1.25" fill="#505050" stroke="none" stroke-width="1"/>
<circle cx="346.59" cy="286.07" r="1.25" fill="#505050" stroke="none" stroke-width="1"/>
<circle cx="309.85" cy="315.20" r="1.25" fill="#505050" stroke="none" stroke-width="1"/>
<circle cx="331.51" cy="286.72" r="1.25" fill="#505050" stroke="none" stroke-width="1"/>
<circle cx="303.36" cy="245.59" r="1.25" fill="#505050" stroke="none" stroke-width="1"/>
<circle cx="337.79" cy="325.64" r="1.25" fill="#505050" stroke="none" stroke-width="1"/>
<circle cx="346.20" cy="334.88" r="1.25" fill="#505050" stroke="none" stroke-width="1"/>
<circle cx="348.52" cy="361.68" r="1.25" fill="#505050" stroke="none" stroke-width="1"/>
<circle cx="359.54" cy="279.16" r="1.25" fill="#505050" stroke="none" stroke-width="1"/>
<circle cx="320.89" cy="236.34" r="1.25" fill="#505050" stroke="none" stroke-width="1"/>
<circle cx="287.85" cy="252.37" r="1.25" fill="#505050" stroke="none" stroke-width="1"/>
<circle cx="357.44" cy="301.77" r="1.25" fill="#505050" stroke="none" stroke-width="1"/>
<circle cx="367.42" cy="354.13" r="1.25" fill="#505050" stroke="none" stroke-width="1"/>
<circle cx="358.76" cy="366.47" r="1.25" fill="#505050" stroke="none" stroke-width="1"/>
<circle cx="369.75" cy="263.77" r="1.25" fill="#505050" stroke="none" stroke-width="1"/>
<circle cx="359.24" cy="298.42" r="1.25" fill="#505050" stroke="none" stroke-width="1"/>
<circle cx="339.27" cy="301.14" r="1.25" fill="#505050" stroke="none" stroke-width="1"/>
<circle cx="328.36" cy="298.11" r="1.25" fill="#505050" stroke="none" stroke-width="1"/>
<circle cx="262.91" cy="284.50" r="1.25" fill="#505050" stroke="none" stroke-width="1"/>
<circle cx="321.64" cy="309.56" r="1.25" fill="#505050" stroke="none" stroke-width="1"/>
<circle cx="319.66" cy="289.65" r="1.25" fill="#505050" stroke="none" stroke-width="1"/>
<circle cx="337.51" cy="312.14" r="1.25" fill="#505050" stroke="none" stroke-width="1"/>
<circle cx="360.05" cy="225.23" r="1.25" fill="#505050" stroke="none" stroke-width="1"/>
<circle cx="332.22" cy="288.53" r="1.25" fill="#505050" stroke="none" stroke-width="1"/>
<circle cx="349.34" cy="305.84" r="1.25" fill="#505050" stroke="none" stroke-width="1"/>
<circle cx="353.56" cy="317.19" r="1.25" fill="#505050" stroke="none" stroke-width="1"/>
<circle cx="276.05" cy="255.19" r="1.25" fill="#505050" stroke="none" stroke-width="1"/>
<circle cx="309.18" cy="264.65" r="1.25" fill="#505050" stroke="none" stroke-width="1"/>
<circle cx="339.29" cy="234.01" r="1.25" fill="#505050" stroke="none" stroke-width="1"/>
<circle cx="308.37" cy="252.42" r="1.25" fill="#505050" stroke="none" stroke-width="1"/>
<circle cx="353.96" cy="307.04" r="1.25" fill="#505050" stroke="none" stroke-width="1"/>
<circle cx="360.98" cy="297.75" r="1.25" fill="#505050" stroke="none" stroke-width="1"/>
<circle cx="340.74" cy="273.64" r="1.25" fill="#505050" stroke="none" stroke-width="1"/>
<circle cx="350.64" cy="336.64" r="1.25" fill="#505050" stroke="none" stroke-width="1"/>
<circle cx="331.52" cy="311.30" r="1.25" fill="#505050" stroke="none" stroke-width="1"/>
<circle cx="279.24" cy="262.67" r="1.25" fill="#505050" stroke="none" stroke-width="1"/>
<circle cx="337.59" cy="243.69" r="1.25" fill="#505050" stroke="none" stroke-width="1"/>
<circle cx="333.82" cy="321.94" r="1.25" fill="#505050" stroke="none" stroke-width="1"/>
<circle cx="341.63" cy="285.10" r="1.25" fill="#505050" stroke="none" stroke-width="1"/>
<circle cx="296.63" cy="254.28" r="1.25" fill="#505050" stroke="none" stroke-width="1"/>
<circle cx="316.33" cy="259.71" r="1.25" fill="#505050" stroke="none" stroke-width="1"/>
<circle cx="346.80" cy="311.85" r="1.25" fill="#505050" stroke="none" stroke-width="1"/>
<circle cx="341.05" cy="351.26" r="1.25" fill="#505050" stroke="none" stroke-width="1"/>
<circle cx="275.18" cy="307.76" r="1.25" fill="#505050" stroke="none" stroke-width="1"/>
<circle cx="341.83" cy="248.55" r="1.25" fill="#505050" stroke="none" stroke-width="1"/>
<circle cx="335.94" cy="235.82" r="1.25" fill="#505050" stroke="none" stroke-width="1"/>
<circle cx="334.74" cy="338.78" r="1.25" fill="#505050" stroke="none" stroke-width="1"/>
<circle cx="343.27" cy="219.70" r="1.25" fill="#505050" stroke="none" stroke-width="1"/>
<circle cx="348.79" cy="288.82" r="1.25" fill="#505050" stroke="none" stroke-width="1"/>
<circle cx="307.03" cy="270.47" r="1.25" fill="#505050" stroke="none" stroke-width="1"/>
<circle cx="336.38" cy="290.69" r="1.25" fill="#505050" stroke="none" stroke-width="1"/>
<circle cx="344.76" cy="236.97" r="1.25" fill="#505050" stroke="none" stroke-width="1"/>
<circle cx="362.06" cy="322.98" r="1.25" fill="#505050" stroke="none" stroke-width="1"/>
<circle cx="337.04" cy="349.47" r="1.25" fill="#505050" stroke="none" stroke-width="1"/>
<circle cx="321.36" cy="302.38" r="1.25" fill="#505050" stroke="none" stroke-width="1"/>
<circle cx="332.52" cy="343.68" r="1.25" fill="#505050" stroke="none" stroke-width="1"/>
<circle cx="343.71" cy="273.51" r="1.25" fill="#505050" stroke="none" stroke-width="1"/>
<circle cx="354.09" cy="291.61" r="1.25" fill="#505050" stroke="none" stroke-width="1"/>
<circle cx="333.11" cy="288.20" r="1.25" fill="#505050" stroke="none" stroke-width="1"/>
<circle cx="349.94" cy="280.93" r="1.25" fill="#505050" stroke="none" stroke-width="1"/>
<circle cx="356.36" cy="288.30" r="1.25" fill="#505050" stroke="none" stroke-width="1"/>
<circle cx="364.32" cy="340.98" r="1.25" fill="#505050" stroke="none" stroke-width="1"/>
<circle cx="254.44" cy="261.29" r="1.25" fill="#505050" stroke="none" stroke-width="1"/>
<circle cx="324.28" cy="289.85" r="1.25" fill="#505050" stroke="none" stroke-width="1"/>
<circle cx="330.22" cy="299.23" r="1.25" fill="#505050" stroke="none" stroke-width="1"/>
<circle cx="320.26" cy="257.09" r="1.25" fill="#505050" stroke="none" stroke-width="1"/>
<circle cx="304.49" cy="302.89" r="1.25" fill="#505050" stroke="none" stroke-width="1"/>
<circle cx="303.52" cy="301.36" r="1.25" fill="#505050" stroke="none" stroke-width="1"/>
<circle cx="306.84" cy="239.75" r="1.25" fill="#505050" stroke="none" stroke-width="1"/>
<circle cx="292.00" cy="243.26" r="1.25" fill="#505050" stroke="none" stroke-width="1"/>
<circle cx="305.18" cy="280.51" r="1.25" fill="#505050" stroke="none" stroke-width="1"/>
<circle cx="360.58" cy="317.43" r="1.25" fill="#505050" stroke="none" stroke-width="1"/>
<circle cx="363.78" cy="341.49" r="1.25" fill="#505050" stroke="none" stroke-width="1"/>
<circle cx="329.78" cy="239.83" r="1.25" fill="#505050" stroke="none" stroke-width="1"/>
<circle cx="325.11" cy="242.07" r="1.25" fill="#505050" stroke="none" stroke-width="1"/>
<circle cx="325.20" cy="240.33" r="1.25" fill="#505050" stroke="none" stroke-width="1"/>
<circle cx="369.75" cy="326.27" r="1.25" fill="#505050" stroke="none" stroke-width="1"/>
<circle cx="306.40" cy="302.89" r="1.25" fill="#505050" stroke="none" stroke-width="1"/>
<circle cx="315.09" cy="274.55" r="1.25" fill="#505050" stroke="none" stroke-width="1"/>
<circle cx="326.93" cy="289.83" r="1.25" fill="#505050" stroke="none" stroke-width="1"/>
<circle cx="310.75" cy="247.88" r="1.25" fill="#505050" stroke="none" stroke-width="1"/>
<circle cx="356.81" cy="326.44" r="1.25" fill="#505050" stroke="none" stroke-width="1"/>
<circle cx="321.92" cy="320.27" r="1.25" fill="#505050" stroke="none" stroke-width="1"/>
<circle cx="294.27" cy="289.90" r="1.25" fill="#505050" stroke="none" stroke-width="1"/>
<circle cx="346.11" cy="245.83" r="1.25" fill="#505050" stroke="none" stroke-width="1"/>
<circle cx="320.24" cy="222.62" r="1.25" fill="#505050" stroke="none" stroke-width="1"/>
<circle cx="291.85" cy="277.41" r="1.25" fill="#505050" stroke="none" stroke-width="1"/>
<circle cx="355.22" cy="332.72" r="1.25" fill="#505050" stroke="none" stroke-width="1"/>
<circle cx="363.43" cy="310.76" r="1.25" fill="#505050" stroke="none" stroke-width="1"/>
<circle cx="345.16" cy="338.69" r="1.25" fill="#505050" stroke="none" stroke-width="1"/>
<circle cx="330.91" cy="257.66" r="1.25" fill="#505050" stroke="none" stroke-width="1"/>
<circle cx="355.34" cy="320.83" r="1.25" fill="#505050" stroke="none" stroke-width="1"/>
<circle cx="304.73" cy="282.15" r="1.25" fill="#505050" stroke="none" stroke-width="1"/>
<circle cx="331.25" cy="253.86" r="1.25" fill="#505050" stroke="none" stroke-width="1"/>
<circle cx="333.34" cy="286.95" r="1.25" fill="#505050" stroke="none" stroke-width="1"/>
<circle cx="344.25" cy="302.61" r="1.25" fill="#505050" stroke="none" stroke-width="1"/>
<circle cx="344.74" cy="361.51" r="1.25" fill="#505050" stroke="none" stroke-width="1"/>
<circle cx="360.32" cy="358.54" r="1.25" fill="#505050" stroke="none" stroke-width="1"/>
<circle cx="314.00" cy="292.17" r="1.25" fill="#505050" stroke="none" stroke-width="1"/>
<circle cx="324.08" cy="347.31" r="1.25" fill="#505050" stroke="none" stroke-width="1"/>
<circle cx="328.79" cy="278.33" r="1.25" fill="#505050" stroke="none" stroke-width="1"/>
<circle cx="333.95" cy="275.54" r="1.25" fill="#505050" stroke="none" stroke-width="1"/>
<circle cx="331.37" cy="222.18" r="1.25" fill="#505050" stroke="none" stroke-width="1"/>
<circle cx="318.84" cy="307.82" r="1.25" fill="#505050" stroke="none" stroke-width="1"/>
<circle cx="297.15" cy="263.61" r="1.25" fill="#505050" stroke="none" stroke-width="1"/>
<circle cx="344.89" cy="233.78" r="1.25" fill="#505050" stroke="none" stroke-width="1"/>
<circle cx="313.02" cy="297.24" r="1.25" fill="#505050" stroke="none" stroke-width="1"/>
<circle cx="350.37" cy="354.29" r="1.25" fill="#505050" stroke="none" stroke-width="1"/>
<circle cx="320.60" cy="277.60" r="1.25" fill="#505050" stroke="none" stroke-width="1"/>
<circle cx="357.12" cy="280.80" r="1.25" fill="#505050" stroke="none" stroke-width="1"/>
<circle cx="339.21" cy="260.11" r="1.25" fill="#505050" stroke="none" stroke-width="1"/>
<circle cx="276.54" cy="274.34" r="1.25" fill="#505050" stroke="none" stroke-width="1"/>
<circle cx="326.48" cy="279.25" r="1.25" fill="#505050" stroke="none" stroke-width="1"/>
<circle cx="319.11" cy="332.50" r="1.25" fill="#505050" stroke="none" stroke-width="1"/>
<circle cx="369.75" cy="360.96" r="1.25" fill="#505050" stroke="none" stroke-width="1"/>
<circle cx="337.00" cy="338.13" r="1.25" fill="#505050" stroke="none" stroke-width="1"/>
<circle cx="347.20" cy="318.53" r="1.25" fill="#505050" stroke="none" stroke-width="1"/>
<circle cx="366.54" cy="350.32" r="1.25" fill="#505050" stroke="none" stroke-width="1"/>
<circle cx="306.63" cy="266.47" r="1.25" fill="#505050" stroke="none" stroke-width="1"/>
<circle cx="316.18" cy="238.74" r="1.25" fill="#505050" stroke="none" stroke-width="1"/>
<circle cx="324.28" cy="355.85" r="1.25" fill="#505050" stroke="none" stroke-width="1"/>
<circle cx="318.66" cy="277.46" r="1.25" fill="#505050" stroke="none" stroke-width="1"/>
<circle cx="258.97" cy="262.62" r="1.25" fill="#505050" stroke="none" stroke-width="1"/>
<circle cx="319.52" cy="296.10" r="1.25" fill="#505050" stroke="none" stroke-width="1"/>
<circle cx="321.06" cy="284.27" r="1.25" fill="#505050" stroke="none" stroke-width="1"/>
<circle cx="338.08" cy="352.76" r="1.25" fill="#505050" stroke="none" stroke-width="1"/>
<circle cx="352.60" cy="327.18" r="1.25" fill="#505050" stroke="none" stroke-width="1"/>
<circle cx="290.43" cy="233.78" r="1.25" fill="#505050" stroke="none" stroke-width="1"/>
<circle cx="350.56" cy="330.10" r="1.25" fill="#505050" stroke="none" stroke-width="1"/>
<circle cx="325.81" cy="275.33" r="1.25" fill="#505050" stroke="none" stroke-width="1"/>
<circle cx="307.72" cy="223.25" r="1.25" fill="#505050" stroke="none" stroke-width="1"/>
<circle cx="276.05" cy="304.83" r="1.25" fill="#505050" stroke="none" stroke-width="1"/>
<circle cx="346.88" cy="283.66" r="1.25" fill="#505050" stroke="none" stroke-width="1"/>
<circle cx="294.60" cy="220.38" r="1.25" fill="#505050" stroke="none" stroke-width="1"/>
<line x1="38.60" y1="212.40" x2="38.60" y2="366.70" stroke="#111" stroke-width="1"/>
<line x1="167.70" y1="212.40" x2="167.70" y2="366.70" stroke="#555" stroke-width="1"/>
<line x1="25.40" y1="225.40" x2="181.10" y2="225.40" stroke="#111" stroke-width="1"/>
<line x1="25.40" y1="353.90" x2="181.10" y2="353.90" stroke="#999" stroke-width="1.1"/>
<rect x="25.40" y="212.40" width="155.70" height="154.30" fill="none" stroke="#444" stroke-width="1.1"/>
<line x1="25.40" y1="209.90" x2="181.10" y2="209.90" stroke="#999" stroke-width="1.1"/>
<line x1="25.40" y1="321.77" x2="27.90" y2="321.77" stroke="#444" stroke-width="1"/>
<line x1="70.88" y1="366.70" x2="70.88" y2="364.20" stroke="#444" stroke-width="1"/>
<line x1="25.40" y1="289.65" x2="27.90" y2="289.65" stroke="#444" stroke-width="1"/>
<line x1="103.15" y1="366.70" x2="103.15" y2="364.20" stroke="#444" stroke-width="1"/>
<line x1="25.40" y1="257.52" x2="27.90" y2="257.52" stroke="#444" stroke-width="1"/>
<line x1="135.42" y1="366.70" x2="135.42" y2="364.20" stroke="#444" stroke-width="1"/>
<line x1="38.60" y1="225.40" x2="167.70" y2="353.90" stroke="#2bb02b" stroke-width="1.6"/>
<line x1="228.60" y1="212.40" x2="228.60" y2="366.70" stroke="#777" stroke-width="1"/>
<line x1="358.10" y1="212.40" x2="358.10" y2="366.70" stroke="#555" stroke-width="1"/>
<line x1="216.20" y1="225.40" x2="370.60" y2="225.40" stroke="#111" stroke-width="1"/>
<line x1="216.20" y1="353.90" x2="370.60" y2="353.90" stroke="#333" stroke-width="1.1"/>
<rect x="216.20" y="212.40" width="154.40" height="154.30" fill="none" stroke="#444" stroke-width="1.1"/>
<line x1="216.20" y1="209.90" x2="370.60" y2="209.90" stroke="#999" stroke-width="1.1"/>
<line x1="216.20" y1="321.77" x2="218.70" y2="321.77" stroke="#444" stroke-width="1"/>
<line x1="260.98" y1="366.70" x2="260.98" y2="364.20" stroke="#444" stroke-width="1"/>
<line x1="216.20" y1="289.65" x2="218.70" y2="289.65" stroke="#444" stroke-width="1"/>
<line x1="293.35" y1="366.70" x2="293.35" y2="364.20" stroke="#444" stroke-width="1"/>
<line x1="216.20" y1="257.52" x2="218.70" y2="257.52" stroke="#444" stroke-width="1"/>
<line x1="325.73" y1="366.70" x2="325.73" y2="364.20" stroke="#444" stroke-width="1"/>
<line x1="228.60" y1="225.40" x2="358.10" y2="353.90" stroke="#2bb02b" stroke-width="1.6"/>
<text x="41.90" y="349.57" font-size="12.2" text-anchor="start" fill="#a0a0a0" font-weight="bold">exponential</text>
<text x="231.70" y="349.87" font-size="12.2" text-anchor="start" fill="#555" font-weight="bold">stationary</text>
<text x="38.60" y="379.44" font-size="11" text-anchor="middle" fill="#111">0</text>
<text x="167.70" y="379.44" font-size="11" text-anchor="middle" fill="#111">1</text>
<text x="228.60" y="379.44" font-size="11" text-anchor="middle" fill="#111">0</text>
<text x="358.10" y="379.44" font-size="11" text-anchor="middle" fill="#111">1</text>
<text x="20.50" y="229.34" font-size="11" text-anchor="end" fill="#111">1</text>
<text x="20.50" y="357.84" font-size="11" text-anchor="end" fill="#111">0</text>
<text x="190.80" y="398.64" font-size="13.6" text-anchor="middle" fill="#111">aspartate response</text>
<text x="0" y="0" font-size="13.6" text-anchor="middle" fill="#111" transform="translate(11.29 289.6) rotate(-90)">serine response</text>
<path d="M 25.40,209.05 L 27.99,208.86 L 30.59,208.65 L 33.18,208.40 L 35.78,208.12 L 38.38,207.80 L 40.97,207.44 L 43.56,207.04 L 46.16,206.61 L 48.75,206.13 L 51.35,205.61 L 53.94,205.07 L 56.54,204.49 L 59.13,203.89 L 61.73,203.27 L 64.32,202.64 L 66.92,202.01 L 69.51,201.39 L 72.11,200.79 L 74.70,200.23 L 77.30,199.70 L 79.89,199.22 L 82.49,198.81 L 85.08,198.46 L 87.68,198.20 L 90.27,198.01 L 92.87,197.92 L 95.47,197.91 L 98.06,197.99 L 100.65,198.16 L 103.25,198.41 L 105.84,198.74 L 108.44,199.14 L 111.03,199.61 L 113.63,200.13 L 116.22,200.69 L 118.82,201.28 L 121.41,201.90 L 124.01,202.53 L 126.60,203.16 L 129.20,203.78 L 131.79,204.38 L 134.39,204.96 L 136.98,205.52 L 139.58,206.04 L 142.17,206.52 L 144.77,206.97 L 147.36,207.37 L 149.96,207.74 L 152.55,208.07 L 155.15,208.36 L 157.75,208.61 L 160.34,208.83 L 162.93,209.02 L 165.53,209.18 L 168.12,209.31 L 170.72,209.43 L 173.31,209.52 L 175.91,209.60 L 178.50,209.66 L 181.10,209.72" stroke="#999" stroke-width="1.3" fill="none"/>
<path d="M 216.20,209.90 L 218.14,209.90 L 220.08,209.90 L 222.02,209.90 L 223.96,209.90 L 225.91,209.90 L 227.85,209.90 L 229.79,209.90 L 231.73,209.90 L 233.67,209.90 L 235.61,209.90 L 237.55,209.90 L 239.50,209.90 L 241.44,209.90 L 243.38,209.89 L 245.32,209.89 L 247.26,209.89 L 249.20,209.88 L 251.14,209.88 L 253.08,209.87 L 255.02,209.86 L 256.97,209.84 L 258.91,209.83 L 260.85,209.80 L 262.79,209.77 L 264.73,209.73 L 266.67,209.68 L 268.61,209.61 L 270.56,209.54 L 272.50,209.44 L 274.44,209.32 L 276.38,209.17 L 278.32,209.00 L 280.26,208.79 L 282.20,208.55 L 284.14,208.26 L 286.08,207.94 L 288.03,207.56 L 289.97,207.13 L 291.91,206.65 L 293.85,206.12 L 295.79,205.53 L 297.73,204.89 L 299.67,204.20 L 301.62,203.47 L 303.56,202.70 L 305.50,201.90 L 307.44,201.08 L 309.38,200.25 L 311.32,199.43 L 313.26,198.62 L 315.20,197.84 L 317.14,197.12 L 319.09,196.45 L 321.03,195.86 L 322.97,195.35 L 324.91,194.95 L 326.85,194.65 L 328.79,194.46 L 330.73,194.40 L 332.67,194.48 L 334.62,194.71 L 336.56,195.10 L 338.50,195.62 L 340.44,196.27 L 342.38,197.03 L 344.32,197.87 L 346.26,198.77 L 348.21,199.71 L 350.15,200.67 L 352.09,201.63 L 354.03,202.56 L 355.97,203.45 L 357.91,204.30 L 359.85,205.08 L 361.79,205.80 L 363.74,206.45 L 365.68,207.02 L 367.62,207.53 L 369.56,207.96 L 371.50,208.34" stroke="#555" stroke-width="1.3" fill="none"/>
<path d="M 186.52,212.30 L 187.25,213.40 L 188.05,214.49 L 188.98,215.59 L 190.11,216.69 L 191.50,217.78 L 193.14,218.88 L 195.00,219.97 L 197.00,221.07 L 199.05,222.17 L 201.01,223.26 L 202.79,224.36 L 204.26,225.46 L 205.34,226.55 L 205.96,227.65 L 206.10,228.74 L 205.97,229.84 L 205.61,230.94 L 205.05,232.03 L 204.29,233.13 L 203.36,234.23 L 202.30,235.32 L 201.13,236.42 L 199.89,237.51 L 198.60,238.61 L 197.30,239.71 L 196.01,240.80 L 194.77,241.90 L 193.58,243.00 L 192.48,244.09 L 191.46,245.19 L 190.55,246.28 L 189.73,247.38 L 189.02,248.48 L 188.41,249.57 L 187.90,250.67 L 187.47,251.77 L 187.12,252.86 L 186.84,253.96 L 186.61,255.05 L 186.43,256.15 L 186.29,257.25 L 186.18,258.34 L 186.09,259.44 L 186.01,260.54 L 185.94,261.63 L 185.88,262.73 L 185.81,263.82 L 185.73,264.92 L 185.65,266.02 L 185.56,267.11 L 185.46,268.21 L 185.35,269.31 L 185.23,270.40 L 185.10,271.50 L 184.97,272.59 L 184.82,273.69 L 184.67,274.79 L 184.51,275.88 L 184.35,276.98 L 184.19,278.07 L 184.02,279.17 L 183.86,280.27 L 183.70,281.36 L 183.54,282.46 L 183.38,283.56 L 183.23,284.65 L 183.08,285.75 L 182.94,286.85 L 182.81,287.94 L 182.69,289.04 L 182.57,290.13 L 182.46,291.23 L 182.36,292.33 L 182.26,293.42 L 182.17,294.52 L 182.09,295.62 L 182.02,296.71 L 181.96,297.81 L 181.90,298.90 L 181.85,300.00" stroke="#999" stroke-width="1.3" fill="none"/>
<path d="M 374.20,225.00 L 374.35,226.78 L 374.51,228.55 L 374.68,230.32 L 374.85,232.10 L 375.04,233.88 L 375.23,235.65 L 375.43,237.43 L 375.64,239.20 L 375.85,240.97 L 376.07,242.75 L 376.29,244.53 L 376.52,246.30 L 376.76,248.07 L 376.99,249.85 L 377.23,251.62 L 377.47,253.40 L 377.71,255.18 L 377.95,256.95 L 378.19,258.73 L 378.43,260.50 L 378.66,262.27 L 378.89,264.05 L 379.10,265.82 L 379.32,267.60 L 379.52,269.38 L 379.71,271.15 L 379.89,272.93 L 380.06,274.70 L 380.22,276.48 L 380.36,278.25 L 380.49,280.02 L 380.60,281.80 L 380.69,283.57 L 380.77,285.35 L 380.83,287.12 L 380.87,288.90 L 380.89,290.68 L 380.90,292.45 L 380.89,294.23 L 380.85,296.00 L 380.80,297.77 L 380.73,299.55 L 380.65,301.32 L 380.54,303.10 L 380.43,304.88 L 380.29,306.65 L 380.14,308.43 L 379.98,310.20 L 379.80,311.98 L 379.62,313.75 L 379.42,315.52 L 379.21,317.30 L 378.99,319.07 L 378.77,320.85 L 378.54,322.62 L 378.31,324.40 L 378.07,326.18 L 377.83,327.95 L 377.59,329.73 L 377.35,331.50 L 377.11,333.27 L 376.87,335.05 L 376.64,336.82 L 376.41,338.60 L 376.18,340.38 L 375.96,342.15 L 375.74,343.93 L 375.53,345.70 L 375.33,347.48 L 375.13,349.25 L 374.94,351.02 L 374.76,352.80 L 374.59,354.57 L 374.43,356.35 L 374.27,358.12 L 374.12,359.90 L 373.98,361.68 L 373.85,363.45 L 373.73,365.23 L 373.61,367.00" stroke="#555" stroke-width="1.2" fill="none"/>
<line x1="372.40" y1="212.30" x2="372.40" y2="366.70" stroke="#444" stroke-width="1.0"/>
<path d="M 372.4,212.5 L 373.9,212.5 L 374.2,225" stroke="#444" stroke-width="1.0" fill="none"/>
<path d="M 181.3,206.3 L 181.3,210.4 M 208.6,206.3 L 208.6,210.4" stroke="#333" stroke-width="0.9" fill="none"/>
<line x1="181.30" y1="208.30" x2="208.60" y2="208.30" stroke="#333" stroke-width="0.9"/>
<text x="194.80" y="207.04" font-size="9.6" text-anchor="middle" fill="#111">0.4</text>
<path d="M 216.2,183.6 L 220.4,183.6" stroke="#888" stroke-width="0.9" fill="none"/>
<line x1="218.30" y1="183.60" x2="218.30" y2="210.50" stroke="#999" stroke-width="1.0"/>
<text x="0" y="0" font-size="9.6" text-anchor="middle" fill="#111" transform="translate(216.24 197.4) rotate(-90)">0.4</text>
<text x="469.50" y="197.71" font-size="10.8" text-anchor="middle" fill="#111">population response</text>
<text x="469.40" y="209.77" font-size="10.8" text-anchor="middle" fill="#111">(FRET)</text>
<text x="0" y="0" font-size="12.2" text-anchor="middle" fill="#111" transform="translate(405.57 287.3) rotate(-90)">kinase activity</text>
<line x1="429.20" y1="214.00" x2="429.20" y2="279.90" stroke="#333" stroke-width="1"/>
<line x1="426.20" y1="279.90" x2="518.30" y2="279.90" stroke="#333" stroke-width="1"/>
<line x1="426.20" y1="220.10" x2="429.20" y2="220.10" stroke="#333" stroke-width="1"/>
<line x1="426.20" y1="250.00" x2="429.20" y2="250.00" stroke="#333" stroke-width="1"/>
<line x1="426.20" y1="279.90" x2="429.20" y2="279.90" stroke="#333" stroke-width="1"/>
<line x1="427.20" y1="264.95" x2="429.20" y2="264.95" stroke="#333" stroke-width="0.9"/>
<line x1="427.20" y1="235.05" x2="429.20" y2="235.05" stroke="#333" stroke-width="0.9"/>
<text x="424.20" y="223.61" font-size="9.8" text-anchor="end" fill="#111">1</text>
<text x="424.20" y="253.51" font-size="9.8" text-anchor="end" fill="#111">0.5</text>
<text x="424.20" y="283.41" font-size="9.8" text-anchor="end" fill="#111">0</text>
<line x1="445.70" y1="279.90" x2="445.70" y2="283.40" stroke="#333" stroke-width="0.9"/>
<line x1="462.60" y1="279.90" x2="462.60" y2="283.40" stroke="#333" stroke-width="0.9"/>
<line x1="479.60" y1="279.90" x2="479.60" y2="283.40" stroke="#333" stroke-width="0.9"/>
<line x1="496.60" y1="279.90" x2="496.60" y2="283.40" stroke="#333" stroke-width="0.9"/>
<line x1="513.30" y1="279.90" x2="513.30" y2="283.40" stroke="#333" stroke-width="0.9"/>
<circle cx="445.80" cy="220.20" r="1.8" fill="none" stroke="#f27474" stroke-width="0.95"/>
<circle cx="457.00" cy="227.40" r="1.8" fill="none" stroke="#f27474" stroke-width="0.95"/>
<circle cx="457.00" cy="229.60" r="1.8" fill="none" stroke="#f27474" stroke-width="0.95"/>
<circle cx="462.10" cy="229.80" r="1.8" fill="none" stroke="#f27474" stroke-width="0.95"/>
<circle cx="462.50" cy="235.60" r="1.8" fill="none" stroke="#f27474" stroke-width="0.95"/>
<circle cx="462.50" cy="239.20" r="1.8" fill="none" stroke="#f27474" stroke-width="0.95"/>
<circle cx="467.00" cy="233.80" r="1.8" fill="none" stroke="#f27474" stroke-width="0.95"/>
<circle cx="467.00" cy="237.40" r="1.8" fill="none" stroke="#f27474" stroke-width="0.95"/>
<circle cx="467.00" cy="240.10" r="1.8" fill="none" stroke="#f27474" stroke-width="0.95"/>
<circle cx="472.50" cy="243.80" r="1.8" fill="none" stroke="#f27474" stroke-width="0.95"/>
<circle cx="478.80" cy="241.00" r="1.8" fill="none" stroke="#f27474" stroke-width="0.95"/>
<circle cx="496.10" cy="241.90" r="1.8" fill="none" stroke="#f27474" stroke-width="0.95"/>
<circle cx="496.10" cy="245.60" r="1.8" fill="none" stroke="#f27474" stroke-width="0.95"/>
<circle cx="496.10" cy="248.30" r="1.8" fill="none" stroke="#f27474" stroke-width="0.95"/>
<circle cx="512.90" cy="248.30" r="1.8" fill="none" stroke="#f27474" stroke-width="0.95"/>
<circle cx="462.50" cy="221.10" r="1.8" fill="none" stroke="#3ea6f0" stroke-width="0.95"/>
<circle cx="470.10" cy="219.60" r="1.8" fill="none" stroke="#3ea6f0" stroke-width="0.95"/>
<circle cx="471.60" cy="221.10" r="1.8" fill="none" stroke="#3ea6f0" stroke-width="0.95"/>
<circle cx="474.80" cy="221.10" r="1.8" fill="none" stroke="#3ea6f0" stroke-width="0.95"/>
<circle cx="479.70" cy="229.20" r="1.8" fill="none" stroke="#3ea6f0" stroke-width="0.95"/>
<circle cx="479.40" cy="232.90" r="1.8" fill="none" stroke="#3ea6f0" stroke-width="0.95"/>
<circle cx="481.90" cy="253.70" r="1.8" fill="none" stroke="#3ea6f0" stroke-width="0.95"/>
<circle cx="484.60" cy="258.30" r="1.8" fill="none" stroke="#3ea6f0" stroke-width="0.95"/>
<circle cx="487.00" cy="271.90" r="1.8" fill="none" stroke="#3ea6f0" stroke-width="0.95"/>
<circle cx="496.10" cy="274.60" r="1.8" fill="none" stroke="#3ea6f0" stroke-width="0.95"/>
<circle cx="496.10" cy="276.40" r="1.8" fill="none" stroke="#3ea6f0" stroke-width="0.95"/>
<circle cx="504.20" cy="278.20" r="1.8" fill="none" stroke="#3ea6f0" stroke-width="0.95"/>
<circle cx="512.90" cy="277.00" r="1.8" fill="none" stroke="#3ea6f0" stroke-width="0.95"/>
<path d="M 429.20,220.10 L 429.94,220.10 L 430.69,220.10 L 431.43,220.10 L 432.17,220.10 L 432.91,220.10 L 433.65,220.10 L 434.40,220.10 L 435.14,220.10 L 435.88,220.10 L 436.62,220.10 L 437.37,220.10 L 438.11,220.10 L 438.85,220.10 L 439.59,220.10 L 440.34,220.10 L 441.08,220.10 L 441.82,220.10 L 442.56,220.10 L 443.31,220.10 L 444.05,220.10 L 444.79,220.10 L 445.53,220.10 L 446.28,220.10 L 447.02,220.10 L 447.76,220.10 L 448.50,220.10 L 449.25,220.10 L 449.99,220.10 L 450.73,220.10 L 451.47,220.10 L 452.22,220.10 L 452.96,220.10 L 453.70,220.10 L 454.44,220.10 L 455.19,220.10 L 455.93,220.10 L 456.67,220.10 L 457.41,220.10 L 458.16,220.10 L 458.90,220.10 L 459.64,220.10 L 460.38,220.10 L 461.13,220.10 L 461.87,220.10 L 462.61,220.11 L 463.35,220.11 L 464.10,220.11 L 464.84,220.12 L 465.58,220.12 L 466.32,220.14 L 467.07,220.15 L 467.81,220.17 L 468.55,220.21 L 469.29,220.25 L 470.04,220.32 L 470.78,220.41 L 471.52,220.55 L 472.26,220.75 L 473.01,221.03 L 473.75,221.43 L 474.49,221.99 L 475.23,222.78 L 475.98,223.88 L 476.72,225.39 L 477.46,227.42 L 478.20,230.08 L 478.95,233.46 L 479.69,237.55 L 480.43,242.28 L 481.17,247.42 L 481.92,252.66 L 482.66,257.67 L 483.40,262.17 L 484.14,265.99 L 484.89,269.07 L 485.63,271.47 L 486.37,273.29 L 487.11,274.62 L 487.86,275.59 L 488.60,276.28 L 489.34,276.77 L 490.08,277.12 L 490.83,277.36 L 491.57,277.54 L 492.31,277.65 L 493.05,277.74 L 493.80,277.79 L 494.54,277.83 L 495.28,277.86 L 496.02,277.88 L 496.77,277.90 L 497.51,277.91 L 498.25,277.91 L 498.99,277.92 L 499.74,277.92 L 500.48,277.92 L 501.22,277.92 L 501.96,277.92 L 502.71,277.92 L 503.45,277.93 L 504.19,277.93 L 504.93,277.93 L 505.68,277.93 L 506.42,277.93 L 507.16,277.93 L 507.90,277.93 L 508.65,277.93 L 509.39,277.93 L 510.13,277.93 L 510.87,277.93 L 511.62,277.93 L 512.36,277.93 L 513.10,277.93 L 513.84,277.93 L 514.59,277.93 L 515.33,277.93 L 516.07,277.93 L 516.81,277.93 L 517.56,277.93 L 518.30,277.93" stroke="#2038e6" stroke-width="2.0" fill="none"/>
<path d="M 429.20,220.15 L 429.94,220.16 L 430.69,220.17 L 431.43,220.18 L 432.17,220.19 L 432.91,220.20 L 433.65,220.22 L 434.40,220.23 L 435.14,220.25 L 435.88,220.28 L 436.62,220.30 L 437.37,220.33 L 438.11,220.37 L 438.85,220.40 L 439.59,220.45 L 440.34,220.50 L 441.08,220.56 L 441.82,220.62 L 442.56,220.70 L 443.31,220.78 L 444.05,220.88 L 444.79,220.99 L 445.53,221.12 L 446.28,221.26 L 447.02,221.43 L 447.76,221.61 L 448.50,221.82 L 449.25,222.05 L 449.99,222.32 L 450.73,222.61 L 451.47,222.94 L 452.22,223.31 L 452.96,223.72 L 453.70,224.17 L 454.44,224.66 L 455.19,225.20 L 455.93,225.79 L 456.67,226.43 L 457.41,227.11 L 458.16,227.83 L 458.90,228.60 L 459.64,229.41 L 460.38,230.24 L 461.13,231.11 L 461.87,231.99 L 462.61,232.88 L 463.35,233.77 L 464.10,234.66 L 464.84,235.54 L 465.58,236.39 L 466.32,237.21 L 467.07,238.00 L 467.81,238.74 L 468.55,239.45 L 469.29,240.11 L 470.04,240.72 L 470.78,241.28 L 471.52,241.80 L 472.26,242.27 L 473.01,242.70 L 473.75,243.09 L 474.49,243.44 L 475.23,243.75 L 475.98,244.03 L 476.72,244.28 L 477.46,244.50 L 478.20,244.70 L 478.95,244.87 L 479.69,245.02 L 480.43,245.16 L 481.17,245.28 L 481.92,245.38 L 482.66,245.47 L 483.40,245.55 L 484.14,245.62 L 484.89,245.69 L 485.63,245.74 L 486.37,245.79 L 487.11,245.83 L 487.86,245.86 L 488.60,245.90 L 489.34,245.92 L 490.08,245.95 L 490.83,245.97 L 491.57,245.99 L 492.31,246.00 L 493.05,246.02 L 493.80,246.03 L 494.54,246.04 L 495.28,246.05 L 496.02,246.06 L 496.77,246.07 L 497.51,246.07 L 498.25,246.08 L 498.99,246.08 L 499.74,246.09 L 500.48,246.09 L 501.22,246.09 L 501.96,246.09 L 502.71,246.10 L 503.45,246.10 L 504.19,246.10 L 504.93,246.10 L 505.68,246.10 L 506.42,246.10 L 507.16,246.11 L 507.90,246.11 L 508.65,246.11 L 509.39,246.11 L 510.13,246.11 L 510.87,246.11 L 511.62,246.11 L 512.36,246.11 L 513.10,246.11 L 513.84,246.11 L 514.59,246.11 L 515.33,246.11 L 516.07,246.11 L 516.81,246.11 L 517.56,246.11 L 518.30,246.11" stroke="#f23c3c" stroke-width="2.0" fill="none"/>
<text x="434.50" y="271.67" font-size="12.2" text-anchor="start" fill="#aaa" font-weight="bold">exp.</text>
<line x1="429.20" y1="299.80" x2="429.20" y2="364.50" stroke="#333" stroke-width="1"/>
<line x1="426.20" y1="364.50" x2="518.30" y2="364.50" stroke="#333" stroke-width="1"/>
<line x1="426.20" y1="305.20" x2="429.20" y2="305.20" stroke="#333" stroke-width="1"/>
<line x1="426.20" y1="334.85" x2="429.20" y2="334.85" stroke="#333" stroke-width="1"/>
<line x1="426.20" y1="364.50" x2="429.20" y2="364.50" stroke="#333" stroke-width="1"/>
<line x1="427.20" y1="349.68" x2="429.20" y2="349.68" stroke="#333" stroke-width="0.9"/>
<line x1="427.20" y1="320.02" x2="429.20" y2="320.02" stroke="#333" stroke-width="0.9"/>
<text x="424.20" y="308.71" font-size="9.8" text-anchor="end" fill="#111">1</text>
<text x="424.20" y="338.36" font-size="9.8" text-anchor="end" fill="#111">0.5</text>
<text x="424.20" y="368.01" font-size="9.8" text-anchor="end" fill="#111">0</text>
<line x1="445.70" y1="364.50" x2="445.70" y2="368.00" stroke="#333" stroke-width="0.9"/>
<line x1="462.60" y1="364.50" x2="462.60" y2="368.00" stroke="#333" stroke-width="0.9"/>
<line x1="479.60" y1="364.50" x2="479.60" y2="368.00" stroke="#333" stroke-width="0.9"/>
<line x1="496.60" y1="364.50" x2="496.60" y2="368.00" stroke="#333" stroke-width="0.9"/>
<line x1="513.30" y1="364.50" x2="513.30" y2="368.00" stroke="#333" stroke-width="0.9"/>
<circle cx="445.80" cy="304.30" r="1.8" fill="none" stroke="#f27474" stroke-width="0.95"/>
<circle cx="453.40" cy="311.20" r="1.8" fill="none" stroke="#f27474" stroke-width="0.95"/>
<circle cx="457.00" cy="317.00" r="1.8" fill="none" stroke="#f27474" stroke-width="0.95"/>
<circle cx="461.60" cy="329.30" r="1.8" fill="none" stroke="#f27474" stroke-width="0.95"/>
<circle cx="462.50" cy="334.70" r="1.8" fill="none" stroke="#f27474" stroke-width="0.95"/>
<circle cx="467.60" cy="336.90" r="1.8" fill="none" stroke="#f27474" stroke-width="0.95"/>
<circle cx="472.50" cy="340.60" r="1.8" fill="none" stroke="#f27474" stroke-width="0.95"/>
<circle cx="479.40" cy="343.30" r="1.8" fill="none" stroke="#f27474" stroke-width="0.95"/>
<circle cx="479.40" cy="352.00" r="1.8" fill="none" stroke="#f27474" stroke-width="0.95"/>
<circle cx="496.10" cy="344.60" r="1.8" fill="none" stroke="#f27474" stroke-width="0.95"/>
<circle cx="496.10" cy="350.50" r="1.8" fill="none" stroke="#f27474" stroke-width="0.95"/>
<circle cx="512.90" cy="355.10" r="1.8" fill="none" stroke="#f27474" stroke-width="0.95"/>
<circle cx="470.70" cy="304.60" r="1.8" fill="none" stroke="#3ea6f0" stroke-width="0.95"/>
<circle cx="472.50" cy="307.90" r="1.8" fill="none" stroke="#3ea6f0" stroke-width="0.95"/>
<circle cx="479.70" cy="305.20" r="1.8" fill="none" stroke="#3ea6f0" stroke-width="0.95"/>
<circle cx="483.90" cy="311.20" r="1.8" fill="none" stroke="#3ea6f0" stroke-width="0.95"/>
<circle cx="487.00" cy="308.30" r="1.8" fill="none" stroke="#3ea6f0" stroke-width="0.95"/>
<circle cx="487.90" cy="311.20" r="1.8" fill="none" stroke="#3ea6f0" stroke-width="0.95"/>
<circle cx="490.60" cy="324.20" r="1.8" fill="none" stroke="#3ea6f0" stroke-width="0.95"/>
<circle cx="491.50" cy="326.00" r="1.8" fill="none" stroke="#3ea6f0" stroke-width="0.95"/>
<circle cx="496.10" cy="333.30" r="1.8" fill="none" stroke="#3ea6f0" stroke-width="0.95"/>
<circle cx="496.10" cy="337.80" r="1.8" fill="none" stroke="#3ea6f0" stroke-width="0.95"/>
<circle cx="504.20" cy="344.20" r="1.8" fill="none" stroke="#3ea6f0" stroke-width="0.95"/>
<circle cx="512.90" cy="340.00" r="1.8" fill="none" stroke="#3ea6f0" stroke-width="0.95"/>
<circle cx="512.90" cy="346.00" r="1.8" fill="none" stroke="#3ea6f0" stroke-width="0.95"/>
<path d="M 429.20,305.29 L 429.94,305.31 L 430.69,305.32 L 431.43,305.34 L 432.17,305.36 L 432.91,305.39 L 433.65,305.41 L 434.40,305.44 L 435.14,305.48 L 435.88,305.52 L 436.62,305.57 L 437.37,305.62 L 438.11,305.68 L 438.85,305.75 L 439.59,305.83 L 440.34,305.93 L 441.08,306.03 L 441.82,306.15 L 442.56,306.29 L 443.31,306.44 L 444.05,306.62 L 444.79,306.82 L 445.53,307.05 L 446.28,307.31 L 447.02,307.61 L 447.76,307.94 L 448.50,308.31 L 449.25,308.74 L 449.99,309.21 L 450.73,309.75 L 451.47,310.34 L 452.22,311.00 L 452.96,311.73 L 453.70,312.53 L 454.44,313.42 L 455.19,314.38 L 455.93,315.43 L 456.67,316.55 L 457.41,317.76 L 458.16,319.04 L 458.90,320.38 L 459.64,321.79 L 460.38,323.25 L 461.13,324.75 L 461.87,326.28 L 462.61,327.82 L 463.35,329.36 L 464.10,330.87 L 464.84,332.36 L 465.58,333.81 L 466.32,335.20 L 467.07,336.53 L 467.81,337.79 L 468.55,338.97 L 469.29,340.07 L 470.04,341.09 L 470.78,342.03 L 471.52,342.89 L 472.26,343.67 L 473.01,344.38 L 473.75,345.02 L 474.49,345.59 L 475.23,346.11 L 475.98,346.57 L 476.72,346.98 L 477.46,347.34 L 478.20,347.66 L 478.95,347.94 L 479.69,348.19 L 480.43,348.41 L 481.17,348.61 L 481.92,348.78 L 482.66,348.93 L 483.40,349.06 L 484.14,349.17 L 484.89,349.28 L 485.63,349.36 L 486.37,349.44 L 487.11,349.51 L 487.86,349.57 L 488.60,349.62 L 489.34,349.66 L 490.08,349.70 L 490.83,349.74 L 491.57,349.77 L 492.31,349.79 L 493.05,349.82 L 493.80,349.84 L 494.54,349.85 L 495.28,349.87 L 496.02,349.88 L 496.77,349.89 L 497.51,349.90 L 498.25,349.91 L 498.99,349.92 L 499.74,349.93 L 500.48,349.93 L 501.22,349.94 L 501.96,349.94 L 502.71,349.95 L 503.45,349.95 L 504.19,349.95 L 504.93,349.95 L 505.68,349.96 L 506.42,349.96 L 507.16,349.96 L 507.90,349.96 L 508.65,349.96 L 509.39,349.96 L 510.13,349.96 L 510.87,349.97 L 511.62,349.97 L 512.36,349.97 L 513.10,349.97 L 513.84,349.97 L 514.59,349.97 L 515.33,349.97 L 516.07,349.97 L 516.81,349.97 L 517.56,349.97 L 518.30,349.97" stroke="#f23c3c" stroke-width="2.0" fill="none"/>
<path d="M 429.20,305.20 L 429.94,305.20 L 430.69,305.20 L 431.43,305.20 L 432.17,305.20 L 432.91,305.20 L 433.65,305.20 L 434.40,305.20 L 435.14,305.20 L 435.88,305.20 L 436.62,305.20 L 437.37,305.20 L 438.11,305.20 L 438.85,305.20 L 439.59,305.20 L 440.34,305.20 L 441.08,305.20 L 441.82,305.20 L 442.56,305.20 L 443.31,305.20 L 444.05,305.20 L 444.79,305.20 L 445.53,305.20 L 446.28,305.20 L 447.02,305.20 L 447.76,305.20 L 448.50,305.20 L 449.25,305.20 L 449.99,305.20 L 450.73,305.20 L 451.47,305.20 L 452.22,305.20 L 452.96,305.20 L 453.70,305.20 L 454.44,305.20 L 455.19,305.20 L 455.93,305.20 L 456.67,305.20 L 457.41,305.20 L 458.16,305.20 L 458.90,305.20 L 459.64,305.20 L 460.38,305.21 L 461.13,305.21 L 461.87,305.21 L 462.61,305.21 L 463.35,305.21 L 464.10,305.21 L 464.84,305.22 L 465.58,305.22 L 466.32,305.23 L 467.07,305.24 L 467.81,305.24 L 468.55,305.25 L 469.29,305.27 L 470.04,305.28 L 470.78,305.30 L 471.52,305.33 L 472.26,305.35 L 473.01,305.39 L 473.75,305.44 L 474.49,305.49 L 475.23,305.56 L 475.98,305.64 L 476.72,305.75 L 477.46,305.87 L 478.20,306.03 L 478.95,306.22 L 479.69,306.46 L 480.43,306.74 L 481.17,307.09 L 481.92,307.51 L 482.66,308.02 L 483.40,308.62 L 484.14,309.34 L 484.89,310.20 L 485.63,311.19 L 486.37,312.35 L 487.11,313.66 L 487.86,315.14 L 488.60,316.78 L 489.34,318.56 L 490.08,320.46 L 490.83,322.44 L 491.57,324.46 L 492.31,326.47 L 493.05,328.44 L 493.80,330.31 L 494.54,332.07 L 495.28,333.68 L 496.02,335.13 L 496.77,336.41 L 497.51,337.54 L 498.25,338.51 L 498.99,339.33 L 499.74,340.03 L 500.48,340.62 L 501.22,341.11 L 501.96,341.51 L 502.71,341.85 L 503.45,342.12 L 504.19,342.35 L 504.93,342.53 L 505.68,342.68 L 506.42,342.80 L 507.16,342.90 L 507.90,342.98 L 508.65,343.05 L 509.39,343.10 L 510.13,343.15 L 510.87,343.18 L 511.62,343.21 L 512.36,343.23 L 513.10,343.25 L 513.84,343.27 L 514.59,343.28 L 515.33,343.29 L 516.07,343.30 L 516.81,343.30 L 517.56,343.31 L 518.30,343.31" stroke="#2038e6" stroke-width="2.0" fill="none"/>
<text x="434.50" y="356.27" font-size="12.2" text-anchor="start" fill="#555" font-weight="bold">stat.</text>
<text x="445.60" y="381.60" font-size="9.8" text-anchor="middle" fill="#111">10</text>
<text x="451.00" y="377.60" font-size="7.6" text-anchor="start" fill="#111">0</text>
<text x="479.60" y="381.60" font-size="9.8" text-anchor="middle" fill="#111">10</text>
<text x="485.00" y="377.60" font-size="7.6" text-anchor="start" fill="#111">2</text>
<text x="513.30" y="381.60" font-size="9.8" text-anchor="middle" fill="#111">10</text>
<text x="518.70" y="377.60" font-size="7.6" text-anchor="start" fill="#111">4</text>
<text x="434.20" y="398.10" font-size="13.3" text-anchor="start" fill="#2038e6">ser</text>
<text x="457.60" y="398.10" font-size="13.3" text-anchor="start" fill="#111">I</text>
<text x="464.50" y="398.10" font-size="13.4" text-anchor="start" fill="#f23c3c">asp</text>
<text x="490.30" y="398.10" font-size="13.3" text-anchor="start" fill="#111">(μM)</text>
</svg>
</body></html>
